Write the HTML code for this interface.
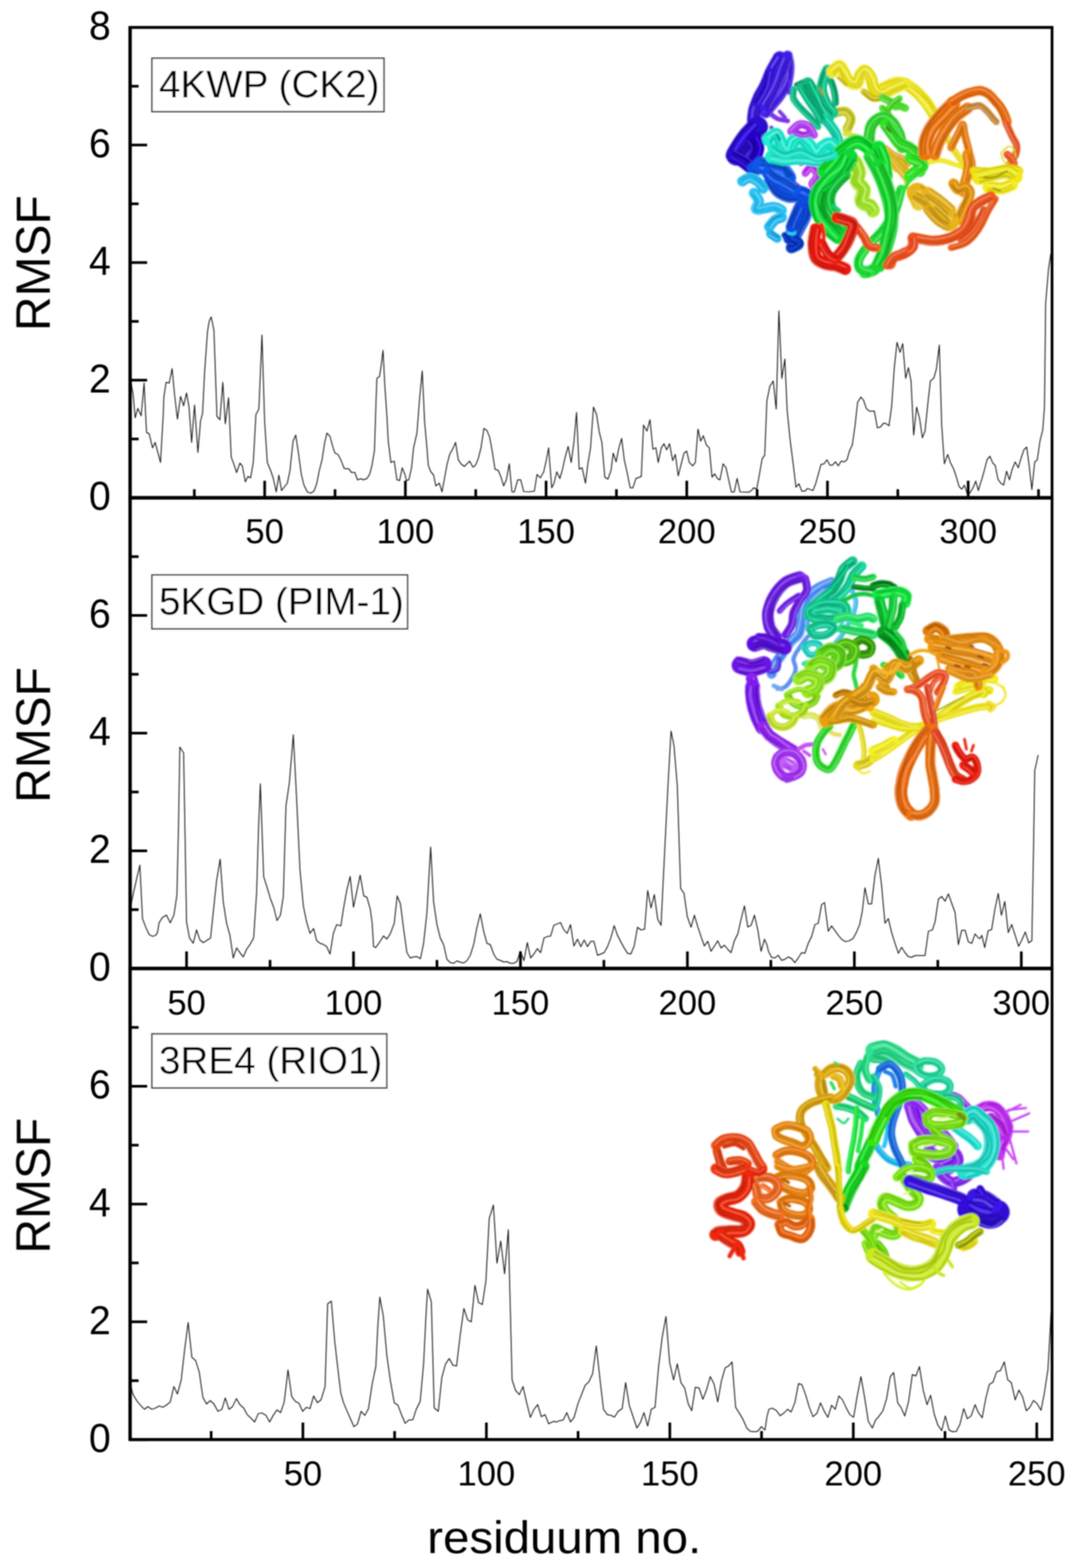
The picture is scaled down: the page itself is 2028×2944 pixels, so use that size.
<!DOCTYPE html>
<html lang="en">
<head>
<meta charset="utf-8">
<title>RMSF per residuum</title>
<style>
html,body{margin:0;padding:0;background:#fff;}
body{width:2028px;height:2944px;overflow:hidden;}
svg{display:block;}
</style>
</head>
<body>
<svg width="2028" height="2944" viewBox="0 0 2028 2944">
<rect width="2028" height="2944" fill="#fff"/>
<defs><filter id="soft" x="0" y="0" width="100%" height="100%" filterUnits="userSpaceOnUse"><feGaussianBlur stdDeviation="1.3"/></filter></defs>
<g filter="url(#soft)">
<g id="curves">
<polyline points="245.5,715.4 250.0,740.5 253.8,784.4 258.8,766.8 265.1,780.6 270.6,719.2 275.1,811.9 280.1,814.4 286.4,840.8 291.4,830.7 301.4,868.3 306.4,780.6 307.7,745.5 311.9,717.9 317.7,719.2 323.2,692.1 327.7,740.5 333.2,786.9 339.0,744.3 344.8,761.8 350.3,738.0 354.8,763.1 359.8,830.7 365.3,760.6 371.6,849.5 376.6,790.6 380.4,775.6 384.1,700.4 389.6,622.7 392.9,602.7 396.6,595.1 401.7,620.2 407.4,781.9 412.9,788.1 418.4,717.9 423.0,795.6 429.2,746.8 434.2,858.3 438.0,868.3 444.3,887.1 450.5,869.6 455.0,874.6 460.6,904.7 465.6,894.6 470.6,897.1 475.6,868.3 480.6,778.1 486.1,768.1 491.9,629.0 496.9,790.6 501.9,868.3 508.2,883.4 513.2,898.4 518.7,923.5 523.7,892.1 528.7,921.0 539.5,907.2 544.5,883.4 550.3,828.2 555.3,816.9 560.8,853.3 565.8,890.9 570.8,910.9 577.1,923.5 583.4,926.0 589.6,922.2 594.6,908.4 599.6,883.4 604.7,863.3 609.7,830.7 613.9,813.2 619.7,819.4 624.7,838.2 629.0,850.8 634.7,853.3 640.0,863.3 646.3,879.6 655.0,880.4 660.1,887.1 666.3,887.1 671.3,900.9 677.6,898.9 682.6,900.9 688.9,898.4 693.9,890.9 698.1,875.8 703.2,845.8 705.7,765.6 707.7,710.4 712.7,706.7 715.9,685.4 719.2,657.8 722.7,725.5 726.5,780.6 729.0,828.2 734.0,868.3 740.3,865.8 745.3,900.9 750.3,902.2 755.3,878.3 760.3,890.9 763.3,902.2 767.8,900.9 772.8,878.3 776.6,840.8 782.9,813.2 787.9,748.0 792.9,696.6 797.4,793.1 801.7,840.8 804.2,873.3 808.4,884.6 814.2,892.1 818.4,912.2 825.0,907.2 830.0,923.5 834.2,900.9 839.2,873.3 844.3,853.3 850.5,842.0 855.5,830.7 860.6,863.3 865.6,870.8 871.8,875.8 876.8,870.8 881.9,865.8 888.1,877.1 893.1,873.3 898.1,860.8 903.2,840.8 908.7,804.4 914.4,808.2 919.4,820.7 924.5,848.3 929.5,880.9 935.7,883.4 940.8,895.9 945.8,912.2 950.8,900.9 956.3,870.8 961.3,923.5 965.8,923.5 972.1,900.9 977.8,900.9 983.4,923.0 993.4,923.5 1003.4,922.2 1008.4,890.9 1014.7,897.1 1021.0,885.9 1026.0,863.3 1030.2,840.8 1036.0,915.9 1040.0,908.4 1045.5,885.9 1051.3,898.4 1056.3,880.9 1061.3,858.3 1066.8,838.2 1072.6,868.3 1077.6,830.7 1082.6,774.3 1087.6,880.9 1093.1,878.3 1099.4,907.2 1103.9,870.8 1108.9,840.8 1114.4,764.3 1120.2,778.1 1125.2,810.7 1130.2,830.7 1135.7,895.9 1141.5,899.6 1147.3,883.4 1151.5,850.8 1157.0,867.1 1162.1,840.8 1167.3,823.2 1172.3,863.3 1177.8,888.4 1183.4,915.9 1188.4,915.9 1194.1,898.4 1204.2,894.6 1208.4,798.1 1214.7,809.4 1220.5,788.1 1226.0,843.3 1231.7,840.8 1236.0,868.3 1241.8,840.8 1246.8,833.2 1251.8,844.5 1257.3,833.2 1263.1,864.6 1268.1,853.3 1273.6,893.4 1279.3,870.8 1284.4,850.8 1289.4,847.0 1294.4,868.3 1300.7,874.6 1305.7,868.3 1310.7,805.7 1315.7,828.2 1320.7,818.2 1326.5,835.7 1332.0,840.8 1337.0,895.9 1342.0,889.6 1347.0,898.4 1352.0,900.9 1357.8,870.8 1363.3,878.3 1368.3,900.9 1373.3,923.5 1378.8,923.5 1384.1,898.4 1389.6,923.5 1405.9,924.2 1410.9,921.0 1415.4,915.9 1421.0,918.4 1426.0,890.9 1431.0,862.1 1436.0,854.5 1440.0,753.0 1445.5,725.5 1452.0,715.4 1457.5,768.1 1462.6,583.9 1468.1,710.4 1473.8,674.1 1478.1,770.6 1483.9,828.2 1489.4,870.8 1494.6,914.7 1500.2,908.4 1505.7,922.2 1511.4,922.2 1516.4,917.2 1526.5,921.0 1531.5,908.4 1536.5,890.9 1541.5,872.1 1547.3,870.8 1552.8,863.3 1558.3,873.3 1563.3,873.3 1568.6,867.1 1574.1,874.6 1579.6,865.8 1585.4,867.1 1590.4,863.3 1595.4,845.8 1600.4,835.7 1605.4,800.7 1610.4,755.5 1616.7,745.5 1621.7,751.8 1626.7,766.8 1632.5,771.8 1641.8,771.8 1647.5,803.2 1653.0,801.9 1659.3,794.4 1664.3,795.6 1669.3,799.4 1674.3,763.1 1679.3,690.4 1684.4,642.8 1690.1,661.6 1695.1,645.3 1700.7,710.4 1705.7,690.4 1710.7,715.4 1715.7,816.9 1721.2,764.3 1727.0,786.9 1732.0,822.0 1737.0,809.4 1742.0,760.6 1747.0,715.4 1753.3,710.4 1758.3,692.9 1763.8,647.8 1768.3,798.1 1773.3,870.8 1779.6,853.3 1784.6,868.3 1790.9,880.9 1795.9,895.9 1800.9,913.4 1805.9,918.4 1810.9,910.9 1815.9,926.0 1821.0,926.0 1827.2,915.9 1832.2,903.4 1837.2,921.0 1840.0,910.9 1843.7,899.7 1849.1,880.3 1853.4,863.1 1858.8,856.6 1864.2,869.5 1868.9,873.8 1873.9,899.7 1879.3,907.3 1884.7,910.5 1890.1,884.6 1895.5,900.8 1900.9,880.3 1906.3,867.4 1912.1,878.2 1917.1,860.9 1922.5,844.7 1927.9,839.3 1932.2,871.7 1937.6,919.2 1943.0,867.4 1947.9,863.1 1952.7,828.5 1958.1,806.9 1961.3,763.8 1963.5,569.5 1968.9,504.8 1973.2,476.7" fill="none" stroke="#181818" stroke-width="1.75" stroke-linejoin="round" stroke-linecap="round"/>
<polyline points="245.5,1700.9 251.3,1673.3 257.0,1648.2 262.6,1624.4 267.6,1724.7 273.8,1741.0 280.1,1754.8 286.4,1758.0 292.6,1756.0 295.6,1751.0 298.9,1732.2 305.2,1722.2 312.7,1718.4 319.7,1732.7 326.5,1718.4 332.2,1680.8 335.2,1550.5 337.7,1402.6 344.8,1413.9 350.3,1731.0 355.8,1761.0 362.8,1771.1 369.1,1746.0 375.3,1764.8 381.6,1769.8 387.9,1766.0 395.4,1761.0 400.4,1713.4 406.7,1653.3 413.4,1613.2 419.2,1693.4 425.5,1733.5 431.7,1756.0 438.0,1798.6 444.3,1779.8 450.5,1788.6 456.8,1796.6 463.1,1782.3 469.3,1773.6 476.3,1761.0 481.9,1675.8 485.6,1550.5 488.9,1471.6 495.1,1645.7 501.4,1665.8 507.7,1687.1 513.9,1703.4 520.2,1728.4 526.5,1718.4 532.0,1683.3 537.0,1512.9 543.3,1470.3 550.8,1379.6 557.0,1500.4 563.3,1633.2 569.6,1700.9 575.8,1731.0 582.1,1752.3 588.9,1743.5 594.6,1766.0 600.9,1771.1 607.2,1773.1 613.4,1777.3 619.7,1791.1 626.0,1752.3 632.2,1736.0 640.0,1738.5 645.0,1705.9 651.3,1670.8 657.5,1645.7 663.8,1703.4 670.1,1673.3 676.3,1643.2 683.1,1682.1 688.9,1684.6 695.1,1705.9 698.9,1733.5 701.4,1777.3 705.7,1779.1 711.4,1771.1 720.2,1757.3 726.5,1763.0 732.7,1753.5 740.3,1733.5 745.8,1682.1 752.0,1697.1 757.8,1743.5 764.1,1788.6 770.3,1798.6 776.6,1796.6 782.9,1796.1 789.6,1799.9 795.4,1771.1 801.7,1713.4 805.4,1645.7 808.7,1590.6 814.2,1693.4 820.5,1736.0 826.7,1761.0 833.0,1773.6 839.2,1801.1 845.5,1807.4 851.8,1808.6 858.0,1804.1 864.3,1806.6 870.6,1808.1 876.8,1803.6 883.1,1793.6 889.4,1773.6 895.6,1741.0 901.9,1715.9 908.2,1748.5 914.4,1771.1 920.7,1773.6 927.0,1791.1 933.2,1801.1 939.5,1803.1 945.8,1806.1 952.0,1805.6 958.3,1808.6 964.6,1808.6 970.8,1804.9 977.1,1786.1 983.9,1803.6 990.1,1769.8 996.4,1798.6 1002.7,1791.1 1008.9,1781.1 1015.2,1788.6 1021.5,1761.0 1027.7,1758.5 1034.0,1757.3 1040.0,1737.2 1046.3,1734.7 1052.5,1732.2 1058.8,1746.0 1065.1,1752.3 1071.3,1736.0 1077.6,1776.1 1084.4,1763.5 1090.6,1777.3 1096.9,1764.8 1103.2,1777.3 1109.4,1767.3 1115.2,1767.3 1122.0,1793.6 1128.2,1791.1 1134.5,1788.6 1140.8,1777.3 1147.0,1761.0 1153.3,1738.0 1159.5,1756.0 1165.8,1768.5 1172.1,1779.8 1178.3,1789.8 1184.6,1791.1 1190.9,1776.1 1197.1,1741.0 1203.4,1746.0 1210.4,1744.7 1216.2,1672.1 1222.5,1704.6 1228.7,1679.6 1235.0,1725.9 1241.3,1737.2 1245.5,1650.8 1250.5,1550.5 1254.3,1475.3 1260.1,1372.6 1265.6,1400.1 1271.8,1475.3 1278.1,1668.3 1284.4,1677.1 1290.6,1720.9 1297.6,1741.0 1303.9,1718.4 1310.2,1739.7 1316.4,1758.5 1322.7,1776.1 1329.0,1767.3 1335.2,1786.1 1341.5,1776.1 1347.8,1766.5 1354.0,1779.8 1360.3,1774.8 1366.6,1782.3 1372.8,1788.6 1379.1,1766.0 1385.4,1753.5 1391.6,1725.9 1397.9,1700.9 1404.2,1740.5 1410.4,1737.2 1416.7,1718.4 1423.0,1746.0 1429.2,1786.1 1435.5,1763.5 1440.0,1773.6 1443.0,1786.1 1448.8,1797.4 1455.0,1798.6 1461.3,1793.6 1467.6,1803.1 1473.8,1801.1 1480.1,1796.6 1486.4,1799.9 1492.6,1807.4 1498.9,1798.6 1505.2,1788.6 1511.4,1789.8 1517.7,1771.1 1524.0,1758.5 1530.2,1736.0 1536.5,1733.5 1542.8,1698.4 1548.3,1694.6 1555.3,1748.5 1561.6,1738.5 1567.8,1747.2 1574.1,1756.0 1580.4,1763.5 1587.9,1768.0 1595.4,1766.0 1601.7,1762.3 1607.9,1751.0 1614.2,1736.0 1619.2,1710.9 1624.2,1667.0 1630.5,1697.1 1636.7,1697.1 1643.0,1643.2 1649.3,1611.9 1655.5,1663.3 1661.8,1733.5 1668.1,1724.7 1674.3,1751.0 1680.6,1771.1 1686.9,1789.8 1693.1,1778.6 1699.4,1788.6 1705.7,1796.1 1711.9,1797.4 1718.2,1794.1 1737.0,1794.1 1743.3,1748.5 1750.8,1746.0 1755.8,1731.0 1762.1,1688.3 1768.3,1683.3 1774.6,1692.1 1780.9,1678.3 1787.1,1695.9 1793.4,1713.4 1799.6,1773.6 1805.9,1746.5 1812.2,1746.5 1818.4,1768.5 1824.7,1771.1 1831.0,1753.5 1837.2,1761.0 1840.0,1762.3 1843.7,1756.3 1849.1,1779.0 1855.5,1747.7 1862.0,1745.5 1868.5,1705.6 1874.5,1677.5 1880.4,1718.5 1886.8,1692.6 1893.3,1750.9 1899.8,1735.8 1906.3,1756.3 1912.7,1776.8 1919.2,1763.8 1925.3,1749.8 1931.7,1770.3 1937.6,1766.0 1940.8,1589.0 1943.0,1446.6 1949.4,1418.1" fill="none" stroke="#181818" stroke-width="1.75" stroke-linejoin="round" stroke-linecap="round"/>
<polyline points="245.5,2602.2 250.0,2618.5 257.5,2631.0 265.1,2639.8 271.3,2646.0 277.6,2641.0 285.1,2646.0 291.4,2644.0 298.9,2639.8 305.7,2642.3 312.7,2638.0 319.7,2632.2 326.5,2603.4 333.2,2617.2 340.3,2590.9 346.5,2535.8 353.3,2483.1 360.3,2548.3 367.3,2554.5 374.1,2575.9 380.9,2623.5 387.9,2636.0 394.9,2629.7 401.7,2636.0 409.2,2649.8 416.7,2646.0 423.0,2624.7 430.0,2646.0 436.7,2641.0 443.8,2626.0 450.5,2637.3 457.5,2643.5 464.3,2656.1 471.1,2662.3 478.1,2669.8 485.1,2654.0 491.9,2653.0 499.4,2657.3 506.2,2669.8 513.2,2657.3 519.9,2647.3 527.0,2652.3 533.7,2632.2 540.8,2572.1 547.8,2622.2 554.5,2631.0 561.3,2634.7 568.3,2649.8 575.3,2642.3 582.1,2644.8 588.9,2621.0 595.9,2633.5 602.7,2628.5 610.4,2603.4 615.2,2448.0 622.2,2443.0 628.5,2518.2 636.0,2583.4 640.0,2616.0 645.0,2633.5 651.3,2648.5 658.0,2663.6 664.6,2678.6 671.3,2673.6 678.1,2649.8 685.1,2657.3 691.9,2644.8 698.9,2598.4 705.7,2565.8 709.7,2485.6 713.2,2435.5 719.7,2470.6 726.5,2545.8 733.2,2593.4 740.3,2633.5 747.3,2638.5 754.0,2656.1 760.8,2672.3 767.8,2666.1 775.3,2665.6 781.6,2646.0 789.1,2631.0 795.4,2560.8 800.4,2460.6 802.9,2420.5 809.9,2444.3 815.4,2643.5 823.0,2649.8 829.7,2585.9 836.7,2560.8 843.5,2550.8 850.5,2563.3 857.3,2564.6 864.3,2505.7 871.1,2456.8 878.1,2478.1 884.9,2481.9 891.9,2413.4 898.6,2445.5 905.7,2449.3 912.4,2405.4 918.7,2287.6 926.5,2262.6 933.2,2371.6 940.3,2330.2 947.5,2391.6 954.5,2308.9 961.6,2590.9 968.3,2610.9 975.1,2618.5 982.1,2603.4 988.9,2633.5 995.9,2661.1 1002.7,2646.0 1009.7,2637.3 1016.4,2659.8 1023.5,2656.1 1030.2,2673.1 1037.2,2669.8 1040.0,2668.6 1045.0,2669.8 1051.3,2667.3 1057.5,2666.1 1064.3,2652.3 1071.3,2669.8 1078.1,2661.1 1085.1,2636.0 1091.9,2618.5 1098.9,2600.9 1105.7,2594.6 1112.7,2579.6 1119.7,2527.0 1126.5,2588.4 1133.2,2646.0 1140.3,2656.1 1147.0,2657.3 1154.0,2660.6 1160.8,2649.8 1168.3,2644.8 1174.8,2595.9 1181.6,2638.5 1188.4,2658.6 1195.9,2681.1 1202.4,2671.1 1209.2,2652.3 1216.2,2677.4 1223.0,2646.0 1230.0,2642.3 1236.7,2565.8 1243.5,2510.7 1250.5,2471.8 1257.5,2558.3 1264.8,2590.9 1271.8,2560.8 1278.6,2595.9 1285.6,2605.9 1292.4,2636.0 1298.9,2648.5 1305.7,2604.7 1312.7,2605.9 1319.9,2627.2 1327.0,2608.4 1333.7,2584.6 1340.8,2598.4 1347.8,2632.2 1354.5,2593.4 1361.6,2568.3 1368.3,2564.6 1374.6,2557.1 1381.4,2642.3 1388.4,2653.5 1395.1,2664.8 1402.2,2681.1 1408.9,2687.4 1415.9,2688.1 1422.7,2687.4 1429.7,2678.6 1436.5,2684.9 1440.0,2661.1 1443.8,2646.0 1450.0,2644.0 1457.5,2648.0 1465.1,2658.1 1472.1,2653.0 1478.8,2646.0 1485.6,2651.0 1492.6,2633.5 1499.4,2597.9 1505.7,2599.7 1512.7,2618.5 1519.7,2642.3 1526.5,2659.8 1534.0,2653.5 1540.8,2634.0 1547.8,2649.8 1554.5,2661.1 1561.6,2638.5 1568.3,2646.0 1575.3,2621.0 1582.1,2628.5 1589.1,2643.5 1595.9,2656.1 1602.9,2661.1 1609.7,2621.0 1616.7,2584.6 1623.5,2623.5 1630.5,2668.6 1638.0,2681.1 1644.3,2666.1 1651.0,2658.6 1658.0,2648.5 1664.8,2626.0 1671.8,2584.6 1678.1,2577.1 1685.6,2633.5 1692.4,2643.5 1698.9,2658.6 1706.2,2631.0 1713.2,2580.9 1719.9,2583.4 1726.5,2565.8 1733.7,2610.9 1740.8,2637.3 1747.5,2619.7 1754.5,2656.1 1761.3,2676.1 1768.3,2686.1 1775.1,2658.6 1782.1,2684.9 1788.9,2688.1 1795.9,2687.4 1802.7,2673.6 1809.7,2644.8 1816.4,2663.6 1823.5,2658.6 1831.0,2637.3 1837.2,2652.3 1840.0,2656.1 1844.3,2661.8 1851.2,2625.1 1857.7,2599.2 1864.6,2594.9 1871.7,2575.5 1878.6,2573.3 1885.8,2557.1 1892.2,2590.6 1899.1,2596.0 1906.3,2628.3 1913.2,2610.0 1920.3,2622.9 1927.2,2648.8 1933.7,2642.4 1940.8,2629.4 1947.7,2635.9 1954.8,2647.8 1961.3,2614.3 1967.8,2571.1 1972.1,2495.6 1974.3,2452.4" fill="none" stroke="#181818" stroke-width="1.75" stroke-linejoin="round" stroke-linecap="round"/>
</g>
<defs><filter id="pblur" x="-5%" y="-5%" width="110%" height="110%"><feGaussianBlur stdDeviation="1.3"/></filter></defs>
<g id="prot1" fill="none" stroke-linecap="round" stroke-linejoin="round" filter="url(#pblur)">
<path d="M1446.5,213.8C1449,215 1454,220 1460,223C1465,225 1476,226 1479,227" stroke="#7a34e6" stroke-width="8.8"/>
<path d="M1448.7,240.1L1453.1,253.2" stroke="#7030e0" stroke-width="7.9"/>
<path d="M1464,209.4L1473.9,220.4" stroke="#8038e8" stroke-width="7.0"/>
<path d="M1486,246.7C1489,244 1496,235 1501,234C1507,232 1514,235 1519,238C1523,241 1526,251 1528,253" stroke="#b848f0" stroke-width="15.8"/>
<path d="M1489.5,250.8C1492,249 1498,240 1503,239C1507,237 1512,239 1516,242C1519,245 1522,253 1524,256" stroke="#a81eed" stroke-width="3.2"/>
<path d="M1484.8,245.3C1487,243 1495,232 1501,230C1506,229 1515,233 1520,236C1525,240 1528,249 1530,252" stroke="#d085f5" stroke-width="2.1"/>
<path d="M1486.7,247.5C1489,245 1496,235 1501,233C1507,232 1514,235 1518,238C1523,242 1526,251 1528,253" stroke="#9111d0" stroke-width="1.2" stroke-opacity=".8"/>
<path d="M1482.2,242.3C1485,240 1493,230 1500,229C1507,227 1517,230 1522,233C1528,237 1531,248 1533,250" stroke="#9e13e3" stroke-width="1.3" stroke-opacity=".8"/>
<path d="M1499.1,255.4L1516.7,264.2" stroke="#c050f4" stroke-width="8.8"/>
<path d="M1464,273C1465,276 1469,285 1471,291C1472,296 1474,301 1475,304" stroke="#9030e0" stroke-width="8.8"/>
<path d="M1483.8,331.7C1485,334 1487,341 1490,345C1493,348 1499,352 1501,354" stroke="#9a30e8" stroke-width="12.3"/>
<path d="M1479.9,333.6C1481,336 1484,343 1487,347C1490,351 1497,355 1499,357" stroke="#8317d3" stroke-width="2.5"/>
<path d="M1486,330.6C1487,333 1490,340 1492,343C1495,347 1501,351 1503,352" stroke="#b76cef" stroke-width="1.6"/>
<path d="M1484.1,331.5C1485,334 1488,341 1490,345C1493,348 1499,352 1501,354" stroke="#6c13ae" stroke-width="1.2" stroke-opacity=".8"/>
<path d="M1488.6,329.3C1489,331 1491,338 1494,342C1497,345 1503,349 1504,350" stroke="#7815c0" stroke-width="1.2" stroke-opacity=".8"/>
<path d="M1512.3,325.1C1514,323 1520,313 1523,314C1527,315 1534,324 1534,329C1535,335 1526,340 1525,345C1525,349 1531,354 1532,356" stroke="#c040f0" stroke-width="14.1"/>
<path d="M1509.3,322.1C1512,320 1519,309 1524,310C1529,311 1538,323 1538,329C1539,335 1530,341 1529,345C1529,349 1535,352 1536,354" stroke="#b215ed" stroke-width="2.8"/>
<path d="M1513.6,326.4C1515,325 1520,317 1523,317C1526,318 1531,325 1531,330C1531,334 1523,340 1523,345C1522,349 1529,355 1530,357" stroke="#d47df5" stroke-width="1.8"/>
<path d="M1511.5,324.3C1513,322 1520,312 1524,313C1528,314 1535,324 1535,329C1536,335 1528,341 1527,345C1527,349 1531,354 1532,356" stroke="#9710c9" stroke-width="1.2" stroke-opacity=".8"/>
<path d="M1515.8,328.6C1517,327 1520,320 1522,320C1524,320 1530,326 1529,330C1529,334 1520,339 1519,344C1519,349 1526,356 1527,359" stroke="#a511dc" stroke-width="1.2" stroke-opacity=".8"/>
<path d="M1503.5,307.5L1516.7,303.2" stroke="#b038ec" stroke-width="8.8"/>
<path d="M1654.4,167.7C1658,166 1670,159 1676,157C1683,155 1687,154 1694,156C1700,157 1708,162 1716,168C1723,173 1731,182 1738,190C1744,198 1752,212 1755,216" stroke="#f2ea2a" stroke-width="22.9"/>
<path d="M1651.1,160.8C1655,159 1667,154 1675,152C1682,150 1688,146 1696,148C1704,150 1712,156 1720,162C1728,168 1736,177 1743,186C1749,194 1758,208 1761,212" stroke="#e0d80e" stroke-width="4.6"/>
<path d="M1656,171.2C1660,169 1671,162 1677,160C1683,158 1687,158 1693,160C1699,161 1707,165 1714,170C1721,176 1729,184 1735,192C1742,199 1750,213 1753,217" stroke="#f6f068" stroke-width="3.0"/>
<path d="M1653.7,166.4C1658,165 1670,160 1676,158C1683,156 1688,151 1695,153C1701,155 1708,162 1716,167C1724,173 1733,180 1740,188C1747,196 1754,211 1756,215" stroke="#bab30b" stroke-width="1.6" stroke-opacity=".8"/>
<path d="M1658,175.3C1662,174 1673,168 1679,166C1685,164 1687,161 1692,163C1697,164 1704,169 1711,174C1717,180 1724,188 1730,196C1736,204 1745,217 1748,221" stroke="#cdc50d" stroke-width="1.8" stroke-opacity=".8"/>
<path d="M1649.9,158.5C1654,157 1666,149 1673,147C1681,145 1689,143 1697,146C1705,148 1713,155 1721,161C1730,167 1739,174 1746,183C1753,191 1760,206 1763,211" stroke="#f8f38a" stroke-width="1.4" stroke-opacity=".8"/>
<path d="M1755.3,216C1758,221 1768,237 1773,247C1778,256 1781,264 1786,273C1791,282 1798,292 1804,299C1809,307 1814,314 1817,317" stroke="#f0e830" stroke-width="12.3"/>
<path d="M1751.4,218.2C1755,223 1765,239 1770,248C1775,257 1778,266 1783,275C1788,284 1795,294 1800,302C1805,309 1811,316 1814,319" stroke="#e2d910" stroke-width="2.5"/>
<path d="M1756.9,215C1760,220 1770,236 1775,245C1780,255 1783,263 1788,272C1793,281 1800,291 1805,298C1810,305 1817,312 1819,315" stroke="#f4ef6e" stroke-width="1.6"/>
<path d="M1754.5,216.4C1757,222 1766,238 1772,247C1777,257 1780,265 1786,273C1791,282 1799,292 1804,299C1809,306 1815,314 1817,317" stroke="#bcb40e" stroke-width="1.2" stroke-opacity=".8"/>
<path d="M1759,213.8C1762,219 1772,235 1778,244C1783,254 1785,262 1790,271C1795,279 1802,290 1807,297C1812,304 1819,311 1821,314" stroke="#cfc70f" stroke-width="1.2" stroke-opacity=".8"/>
<path d="M1742.1,305.4C1746,305 1756,301 1764,301C1772,301 1783,305 1790,308C1798,310 1805,313 1808,314" stroke="#f0e830" stroke-width="8.8"/>
<path d="M1661,277.4C1664,280 1672,287 1679,291C1685,294 1694,296 1698,299C1703,302 1704,307 1705,308" stroke="#e0b444" stroke-width="12.3"/>
<path d="M1658.5,280.7C1662,283 1671,290 1677,293C1683,297 1692,299 1696,302C1700,305 1701,309 1702,310" stroke="#d3a123" stroke-width="2.5"/>
<path d="M1662.3,275.6C1665,278 1674,285 1680,288C1686,292 1695,295 1699,298C1704,301 1705,306 1706,307" stroke="#e9cb7d" stroke-width="1.6"/>
<path d="M1661,277.3C1664,280 1672,288 1678,291C1684,295 1694,297 1698,300C1702,303 1703,307 1704,309" stroke="#b0871d" stroke-width="1.2" stroke-opacity=".8"/>
<path d="M1663.8,273.6C1667,276 1675,283 1681,287C1687,290 1696,292 1701,295C1706,298 1708,303 1709,305" stroke="#c29420" stroke-width="1.2" stroke-opacity=".8"/>
<path d="M1658.8,299.3L1682.9,321.2" stroke="#e8c040" stroke-width="5.3"/>
<path d="M1669.7,294.4C1673,297 1682,303 1687,308C1692,312 1698,316 1700,321C1703,325 1704,332 1705,334" stroke="#e8c030" stroke-width="15.8"/>
<path d="M1673.1,289.9C1676,292 1685,300 1690,305C1695,309 1702,313 1705,318C1708,322 1708,330 1709,332" stroke="#d3aa17" stroke-width="3.2"/>
<path d="M1668.5,296C1671,298 1680,306 1685,310C1690,314 1695,318 1698,322C1701,326 1702,332 1703,335" stroke="#efd26c" stroke-width="2.1"/>
<path d="M1670.8,293C1674,295 1682,303 1687,307C1693,312 1699,315 1702,320C1705,324 1706,331 1706,333" stroke="#ae8c13" stroke-width="1.2" stroke-opacity=".8"/>
<path d="M1666.1,299.2C1669,301 1678,308 1683,313C1688,317 1693,320 1695,324C1698,328 1699,334 1700,336" stroke="#c09b15" stroke-width="1.3" stroke-opacity=".8"/>
<path d="M1693.9,322.9L1707,362.4" stroke="#ecc838" stroke-width="5.3"/>
<path d="M1668,290C1671,293 1678,301 1683,308C1689,314 1697,326 1700,329" stroke="#e8c030" stroke-width="17.6"/>
<path d="M1671.6,286.9C1674,290 1683,297 1688,304C1694,310 1702,322 1704,326" stroke="#d3aa17" stroke-width="3.5"/>
<path d="M1666.3,291.5C1669,294 1677,302 1682,309C1687,315 1695,327 1698,331" stroke="#efd26c" stroke-width="2.3"/>
<path d="M1668.6,289.5C1671,293 1677,301 1683,308C1688,314 1699,325 1702,328" stroke="#ae8c13" stroke-width="1.2" stroke-opacity=".8"/>
<path d="M1663.8,293.7C1666,297 1673,305 1678,312C1684,318 1692,330 1695,333" stroke="#c09b15" stroke-width="1.4" stroke-opacity=".8"/>
<path d="M1569.3,211.6C1572,211 1582,208 1587,209C1592,211 1597,217 1598,223C1599,228 1592,239 1591,242" stroke="#d4d430" stroke-width="17.6"/>
<path d="M1568.7,206.5C1572,206 1583,203 1588,205C1594,208 1602,215 1603,222C1604,228 1598,240 1597,244" stroke="#b1b125" stroke-width="3.5"/>
<path d="M1569.6,214C1572,213 1582,210 1586,211C1590,213 1594,218 1595,223C1595,228 1590,239 1589,242" stroke="#dfdf67" stroke-width="2.3"/>
<path d="M1569,209.3C1572,209 1582,206 1587,208C1593,210 1599,216 1600,222C1601,228 1594,240 1593,243" stroke="#8f8f1e" stroke-width="1.2" stroke-opacity=".8"/>
<path d="M1570.1,217.9C1573,217 1581,214 1585,215C1588,216 1593,219 1592,223C1592,227 1585,237 1584,240" stroke="#a0a021" stroke-width="1.4" stroke-opacity=".8"/>
<path d="M1586.8,251.1L1608.8,255.4" stroke="#e0e040" stroke-width="8.8"/>
<path d="M1464,109.6C1462,114 1454,127 1450,135C1446,143 1444,151 1440,159C1437,167 1431,175 1427,183C1424,191 1420,200 1418,207C1417,214 1416,222 1416,225" stroke="#3a16e2" stroke-width="26.4"/>
<path d="M1470.1,113C1468,117 1459,129 1456,138C1452,146 1452,154 1448,163C1444,171 1438,178 1434,186C1430,194 1427,202 1425,209C1423,216 1423,223 1422,226" stroke="#2f12b8" stroke-width="5.3"/>
<path d="M1460.6,107.7C1458,112 1449,124 1445,133C1441,141 1439,149 1435,157C1432,165 1427,173 1423,181C1420,189 1416,199 1414,206C1412,213 1412,221 1412,224" stroke="#694dee" stroke-width="3.4"/>
<path d="M1464.8,110.1C1462,114 1454,127 1451,135C1447,144 1447,152 1443,160C1440,168 1432,176 1428,183C1423,191 1420,200 1417,207C1415,214 1416,222 1415,225" stroke="#260e93" stroke-width="1.8" stroke-opacity=".8"/>
<path d="M1454.8,104.4C1453,109 1445,122 1441,131C1437,139 1435,146 1431,154C1427,162 1422,171 1418,179C1414,187 1411,197 1409,205C1407,212 1406,220 1405,223" stroke="#2a10a6" stroke-width="2.1" stroke-opacity=".8"/>
<path d="M1475.1,115.9C1473,120 1464,131 1460,140C1456,148 1456,156 1452,164C1448,172 1441,180 1438,188C1434,195 1431,204 1430,210C1428,217 1428,224 1428,227" stroke="#846df1" stroke-width="1.6" stroke-opacity=".8"/>
<path d="M1478.9,104.6C1479,108 1482,116 1482,124C1482,131 1482,142 1479,150C1477,159 1473,167 1468,174C1464,182 1458,188 1453,194C1448,200 1440,209 1438,212" stroke="#4a20ea" stroke-width="19.4"/>
<path d="M1484.7,103.8C1485,107 1487,116 1487,124C1487,132 1486,142 1484,151C1482,160 1478,170 1474,178C1470,185 1464,192 1458,198C1453,205 1445,213 1442,216" stroke="#3913c9" stroke-width="3.9"/>
<path d="M1475.5,105C1476,108 1479,116 1479,124C1479,131 1480,142 1477,150C1475,158 1469,165 1465,172C1461,179 1455,186 1450,192C1445,198 1438,207 1435,210" stroke="#7b5df0" stroke-width="2.5"/>
<path d="M1478.6,104.6C1479,108 1483,116 1483,124C1483,131 1482,142 1480,150C1478,159 1474,168 1470,175C1466,183 1459,189 1454,195C1449,201 1440,209 1438,212" stroke="#2e0fa4" stroke-width="1.4" stroke-opacity=".8"/>
<path d="M1470.7,105.7C1471,109 1473,117 1473,124C1474,131 1475,141 1473,148C1471,156 1466,164 1462,170C1458,177 1453,184 1448,190C1443,196 1436,205 1433,208" stroke="#3411b7" stroke-width="1.5" stroke-opacity=".8"/>
<path d="M1487.4,103.4C1488,107 1490,116 1489,124C1489,132 1489,143 1487,152C1485,161 1480,171 1475,178C1471,186 1464,192 1459,199C1454,205 1447,214 1444,217" stroke="#967df3" stroke-width="1.2" stroke-opacity=".8"/>
<path d="M1484.9,152.4L1481.6,174.3" stroke="#5a2cec" stroke-width="7.0"/>
<path d="M1422.4,238.3C1420,241 1412,250 1407,255C1402,261 1398,267 1394,273C1390,279 1385,288 1383,291" stroke="#2a0ad0" stroke-width="39.6"/>
<path d="M1432.6,247.5C1430,250 1421,258 1416,263C1411,268 1406,273 1402,279C1398,284 1393,293 1392,296" stroke="#2108a4" stroke-width="7.9"/>
<path d="M1418.1,234.5C1415,237 1407,246 1402,251C1397,257 1392,263 1388,269C1384,275 1379,284 1377,287" stroke="#4928f5" stroke-width="5.1"/>
<path d="M1422,238C1420,241 1412,250 1408,256C1404,262 1401,269 1397,275C1392,281 1385,288 1383,290" stroke="#19067d" stroke-width="2.8" stroke-opacity=".8"/>
<path d="M1412.4,229.4C1410,232 1400,240 1395,246C1390,252 1385,258 1381,264C1377,270 1373,280 1371,283" stroke="#1d0791" stroke-width="3.2" stroke-opacity=".8"/>
<path d="M1435.8,250.4C1433,253 1425,261 1420,266C1415,272 1412,277 1408,283C1404,288 1399,297 1397,299" stroke="#664af6" stroke-width="2.4" stroke-opacity=".8"/>
<path d="M1415.8,259.8C1417,263 1422,271 1422,277C1422,284 1417,296 1416,299" stroke="#2606c8" stroke-width="26.4"/>
<path d="M1408.5,262.6C1410,265 1416,272 1416,277C1416,283 1409,293 1407,297" stroke="#1e059b" stroke-width="5.3"/>
<path d="M1420.5,258C1422,261 1428,270 1428,277C1428,285 1422,297 1421,301" stroke="#3d18f8" stroke-width="3.4"/>
<path d="M1414,260.5C1415,263 1421,271 1421,277C1421,284 1415,295 1414,299" stroke="#160374" stroke-width="1.8" stroke-opacity=".8"/>
<path d="M1424.4,256.6C1425,260 1431,270 1431,277C1431,285 1425,298 1424,302" stroke="#1a0488" stroke-width="2.1" stroke-opacity=".8"/>
<path d="M1404.5,264.1C1406,266 1412,272 1412,277C1412,283 1406,293 1405,296" stroke="#5a3bf9" stroke-width="1.6" stroke-opacity=".8"/>
<path d="M1374.1,292.2C1377,294 1388,299 1394,303C1400,307 1408,314 1411,316" stroke="#2808c8" stroke-width="22.9"/>
<path d="M1377.2,286.7C1381,289 1391,294 1397,298C1404,302 1412,309 1415,311" stroke="#1f069c" stroke-width="4.6"/>
<path d="M1373,294.3C1376,296 1386,301 1392,306C1398,310 1406,317 1409,320" stroke="#411cf6" stroke-width="3.0"/>
<path d="M1374.6,291.3C1378,293 1387,300 1393,304C1400,308 1409,313 1412,315" stroke="#170575" stroke-width="1.6" stroke-opacity=".8"/>
<path d="M1369.2,301C1373,302 1384,306 1390,309C1396,313 1403,322 1406,324" stroke="#1b0588" stroke-width="1.8" stroke-opacity=".8"/>
<path d="M1378.8,283.8C1382,286 1393,290 1400,294C1406,298 1415,306 1418,308" stroke="#5d3ff7" stroke-width="1.4" stroke-opacity=".8"/>
<path d="M1415.8,316.8C1421,316 1439,312 1449,312C1458,313 1469,320 1473,321" stroke="#0a50e8" stroke-width="26.4"/>
<path d="M1416.7,323.5C1422,323 1439,319 1448,320C1457,321 1466,328 1470,329" stroke="#0841bc" stroke-width="5.3"/>
<path d="M1415.4,313.9C1421,313 1439,307 1449,308C1459,308 1470,316 1474,317" stroke="#3e78f7" stroke-width="3.4"/>
<path d="M1416.2,319.9C1422,319 1439,314 1448,315C1458,316 1468,323 1472,324" stroke="#063395" stroke-width="1.8" stroke-opacity=".8"/>
<path d="M1414.5,307C1420,306 1439,303 1449,303C1460,304 1472,310 1477,311" stroke="#073aa8" stroke-width="2.1" stroke-opacity=".8"/>
<path d="M1417.4,328.9C1422,328 1439,324 1448,325C1456,325 1465,331 1469,332" stroke="#6090f8" stroke-width="1.6" stroke-opacity=".8"/>
<path d="M1428.9,309.7C1432,310 1442,312 1449,314C1455,316 1463,317 1468,321C1474,324 1478,332 1479,334" stroke="#0a58e8" stroke-width="31.7"/>
<path d="M1431.2,299.4C1435,301 1444,304 1451,306C1458,309 1467,310 1473,314C1478,318 1483,326 1485,329" stroke="#0847bc" stroke-width="6.3"/>
<path d="M1427.8,314.8C1431,316 1441,318 1447,320C1453,322 1462,321 1466,324C1471,327 1473,336 1474,338" stroke="#3e7ff7" stroke-width="4.1"/>
<path d="M1428.9,310.2C1432,310 1442,311 1449,312C1456,313 1465,314 1471,317C1476,321 1479,330 1481,333" stroke="#063895" stroke-width="2.2" stroke-opacity=".8"/>
<path d="M1426.4,321.4C1430,322 1439,325 1445,327C1451,328 1458,328 1462,331C1467,333 1470,338 1472,340" stroke="#0740a8" stroke-width="2.5" stroke-opacity=".8"/>
<path d="M1431.8,297.1C1435,297 1446,297 1453,299C1460,301 1469,306 1475,310C1482,314 1488,322 1491,324" stroke="#6095f8" stroke-width="1.9" stroke-opacity=".8"/>
<path d="M1450.9,338.2C1453,341 1459,351 1464,356C1469,360 1475,363 1482,365C1488,366 1497,363 1504,365C1510,366 1516,372 1519,373" stroke="#0a50e4" stroke-width="31.7"/>
<path d="M1442.7,344.4C1445,348 1451,359 1457,364C1463,369 1472,372 1480,374C1487,376 1495,374 1501,376C1507,377 1511,382 1513,383" stroke="#0841b8" stroke-width="6.3"/>
<path d="M1454.9,335.2C1457,338 1462,348 1467,352C1472,356 1476,358 1483,359C1489,361 1498,359 1504,361C1511,363 1518,368 1521,369" stroke="#3a76f6" stroke-width="4.1"/>
<path d="M1448.7,339.8C1451,343 1457,354 1462,358C1467,362 1474,364 1481,366C1488,367 1497,365 1503,366C1509,368 1515,375 1517,376" stroke="#063391" stroke-width="2.2" stroke-opacity=".8"/>
<path d="M1460,331.4C1462,334 1469,342 1473,346C1477,349 1479,352 1484,353C1490,355 1499,353 1506,355C1513,356 1522,361 1525,362" stroke="#073aa4" stroke-width="2.5" stroke-opacity=".8"/>
<path d="M1439.3,346.9C1442,350 1448,362 1454,367C1461,373 1471,377 1478,379C1486,381 1495,378 1500,378C1506,379 1510,384 1512,385" stroke="#5c8ef8" stroke-width="1.9" stroke-opacity=".8"/>
<path d="M1512.3,382.1C1512,386 1510,397 1508,404C1506,411 1502,416 1499,422C1496,427 1492,436 1490,439" stroke="#0a4ce0" stroke-width="31.7"/>
<path d="M1519.9,383.6C1519,388 1519,400 1517,407C1515,414 1510,420 1507,426C1505,432 1501,441 1500,444" stroke="#083db4" stroke-width="6.3"/>
<path d="M1507.2,381.1C1506,385 1505,396 1503,402C1501,409 1497,413 1494,419C1492,425 1489,435 1487,438" stroke="#3671f6" stroke-width="4.1"/>
<path d="M1511.2,381.9C1511,386 1511,398 1509,405C1508,411 1504,417 1501,423C1498,428 1492,436 1490,439" stroke="#06308d" stroke-width="2.2" stroke-opacity=".8"/>
<path d="M1500.5,379.8C1500,383 1499,394 1497,400C1495,406 1490,410 1488,416C1485,422 1483,432 1482,435" stroke="#0736a1" stroke-width="2.5" stroke-opacity=".8"/>
<path d="M1525.8,384.8C1525,389 1524,401 1521,409C1519,416 1514,421 1510,427C1507,433 1503,442 1502,445" stroke="#588af8" stroke-width="1.9" stroke-opacity=".8"/>
<path d="M1481.6,447.9C1485,449 1498,454 1499,457C1500,460 1488,464 1486,465" stroke="#0838c0" stroke-width="21.1"/>
<path d="M1479,453C1481,454 1492,457 1493,458C1494,459 1484,460 1483,461" stroke="#062b94" stroke-width="4.2"/>
<path d="M1482.6,445.8C1486,448 1501,453 1501,456C1502,460 1490,465 1487,467" stroke="#1550f5" stroke-width="2.7"/>
<path d="M1481.1,448.9C1484,450 1499,454 1500,457C1500,459 1488,463 1486,465" stroke="#05206d" stroke-width="1.5" stroke-opacity=".8"/>
<path d="M1485.7,439.7C1489,442 1507,449 1507,455C1508,460 1493,469 1490,471" stroke="#052580" stroke-width="1.7" stroke-opacity=".8"/>
<path d="M1477,457.1C1479,457 1490,458 1491,459C1492,459 1483,458 1481,458" stroke="#3769f7" stroke-width="1.3" stroke-opacity=".8"/>
<path d="M1472.8,441.3L1481.6,452.3" stroke="#0830b8" stroke-width="10.6"/>
<path d="M1475.1,439.5L1484.2,450.2" stroke="#06258c" stroke-width="2.1"/>
<path d="M1471.6,442.3L1480.1,453.4" stroke="#0e42f5" stroke-width="1.4"/>
<path d="M1393.9,340.4C1396,339 1402,334 1407,334C1412,334 1418,337 1422,340C1427,344 1432,351 1433,354" stroke="#28c0f4" stroke-width="19.4"/>
<path d="M1391.3,335.2C1394,334 1401,328 1407,328C1413,328 1420,333 1425,336C1430,340 1436,348 1438,350" stroke="#0cace3" stroke-width="3.9"/>
<path d="M1395.5,343.7C1397,343 1403,337 1407,337C1411,337 1416,341 1420,344C1424,347 1430,353 1432,355" stroke="#67d2f7" stroke-width="2.5"/>
<path d="M1393.6,340C1396,339 1402,334 1407,334C1412,334 1418,337 1423,340C1427,343 1432,351 1434,353" stroke="#0a8ebc" stroke-width="1.4" stroke-opacity=".8"/>
<path d="M1397.5,347.7C1399,347 1404,341 1407,341C1411,341 1415,343 1419,346C1422,348 1427,356 1428,358" stroke="#0b9dcf" stroke-width="1.5" stroke-opacity=".8"/>
<path d="M1390.1,332.9C1393,332 1401,325 1407,326C1413,326 1423,329 1428,333C1433,337 1437,346 1439,349" stroke="#89dcf9" stroke-width="1.2" stroke-opacity=".8"/>
<path d="M1415.8,362.4C1417,365 1424,373 1425,378C1425,383 1418,391 1420,393C1422,395 1432,392 1438,391C1444,390 1450,388 1455,389C1460,389 1466,394 1468,395" stroke="#2cc4f6" stroke-width="19.4"/>
<path d="M1409.9,365.7C1411,368 1418,373 1419,378C1420,384 1413,394 1416,397C1420,400 1432,398 1439,398C1445,397 1450,393 1455,394C1459,394 1464,400 1465,401" stroke="#0ab3ea" stroke-width="3.9"/>
<path d="M1417.7,361.3C1419,364 1428,372 1428,377C1429,382 1421,389 1423,390C1424,392 1432,389 1437,388C1443,387 1450,385 1456,385C1461,386 1468,391 1470,392" stroke="#6cd6f9" stroke-width="2.5"/>
<path d="M1413.9,363.4C1416,366 1423,373 1424,378C1425,383 1416,392 1419,394C1421,397 1432,391 1438,391C1444,390 1450,388 1455,389C1460,390 1466,395 1468,397" stroke="#0895c3" stroke-width="1.4" stroke-opacity=".8"/>
<path d="M1423.1,358.2C1425,361 1432,372 1432,377C1433,382 1424,387 1425,388C1426,390 1432,386 1437,385C1442,384 1450,382 1456,383C1462,383 1469,387 1472,388" stroke="#09a4d7" stroke-width="1.5" stroke-opacity=".8"/>
<path d="M1408.4,366.6C1410,369 1415,374 1416,379C1417,384 1410,396 1414,399C1418,403 1432,400 1439,400C1445,399 1450,396 1454,397C1459,397 1463,401 1465,402" stroke="#8edffa" stroke-width="1.2" stroke-opacity=".8"/>
<path d="M1444.3,426C1446,424 1451,416 1455,413C1459,410 1466,409 1468,408" stroke="#28bcf2" stroke-width="19.4"/>
<path d="M1439,421.5C1441,419 1448,412 1452,409C1457,406 1464,404 1467,403" stroke="#0da7df" stroke-width="3.9"/>
<path d="M1447.4,428.6C1449,426 1453,418 1457,415C1461,412 1467,411 1469,411" stroke="#67cff6" stroke-width="2.5"/>
<path d="M1442.5,424.5C1444,422 1450,414 1454,411C1458,408 1465,407 1468,406" stroke="#0b8ab8" stroke-width="1.4" stroke-opacity=".8"/>
<path d="M1449.3,430.2C1451,428 1456,421 1460,419C1463,417 1469,416 1471,415" stroke="#0c98cb" stroke-width="1.5" stroke-opacity=".8"/>
<path d="M1437.2,420.1C1439,418 1446,410 1450,406C1455,403 1463,401 1465,400" stroke="#88daf8" stroke-width="1.2" stroke-opacity=".8"/>
<path d="M1446.5,439.1L1459.6,447.9" stroke="#24b4ee" stroke-width="15.8"/>
<path d="M1449.3,434.9L1462.3,443.9" stroke="#109cd4" stroke-width="3.2"/>
<path d="M1445.1,441.3L1458.3,449.9" stroke="#62c9f3" stroke-width="2.1"/>
<path d="M1446.8,438.7L1460.9,446.1" stroke="#0d80ae" stroke-width="1.2" stroke-opacity=".8"/>
<path d="M1443,444.4L1456,453.4" stroke="#0f8ec1" stroke-width="1.3" stroke-opacity=".8"/>
<path d="M1483.8,434.7L1488.2,435.8" stroke="#20d0f8" stroke-width="14.1"/>
<path d="M1484.8,430.5L1489.2,431.5" stroke="#07bae3" stroke-width="2.8"/>
<path d="M1483.3,436.7L1487.4,438.7" stroke="#60defa" stroke-width="1.8"/>
<path d="M1483.9,434.3L1488.6,434.2" stroke="#069abb" stroke-width="1.2" stroke-opacity=".8"/>
<path d="M1482.4,440.3L1487,440.6" stroke="#07aacf" stroke-width="1.2" stroke-opacity=".8"/>
<path d="M1494.7,158.9L1507.9,152.4" stroke="#0a8a5a" stroke-width="7.0"/>
<path d="M1490.4,167.7C1490,171 1488,179 1490,185C1493,191 1498,197 1504,203C1509,209 1516,215 1521,220C1527,226 1534,235 1536,238" stroke="#14c890" stroke-width="12.3"/>
<path d="M1493.6,167.7C1494,170 1491,179 1494,184C1496,190 1501,195 1506,201C1511,206 1518,212 1524,218C1529,224 1537,232 1539,235" stroke="#109e72" stroke-width="2.5"/>
<path d="M1488.2,167.7C1488,171 1486,180 1488,186C1491,192 1496,199 1501,205C1507,211 1514,216 1519,222C1525,228 1533,236 1535,239" stroke="#34ebb2" stroke-width="1.6"/>
<path d="M1490.1,167.7C1490,171 1488,179 1490,185C1493,191 1498,197 1504,203C1509,209 1515,215 1521,220C1527,226 1534,235 1537,237" stroke="#0c7957" stroke-width="1.2" stroke-opacity=".8"/>
<path d="M1485.1,167.7C1485,171 1483,181 1485,187C1488,193 1495,200 1500,206C1505,212 1512,218 1517,224C1523,230 1530,238 1533,241" stroke="#0e8c65" stroke-width="1.2" stroke-opacity=".8"/>
<path d="M1516.7,156.8C1519,160 1525,171 1530,179C1534,186 1539,195 1543,203C1547,210 1552,219 1554,223" stroke="#10b880" stroke-width="22.9"/>
<path d="M1511.5,159.9C1514,164 1520,174 1525,182C1529,189 1532,199 1536,207C1540,214 1546,222 1548,226" stroke="#0c8e63" stroke-width="4.6"/>
<path d="M1520.7,154.3C1523,158 1528,169 1532,177C1536,185 1541,194 1545,202C1549,209 1554,218 1556,221" stroke="#1feca7" stroke-width="3.0"/>
<path d="M1517.3,156.4C1519,160 1526,171 1530,179C1533,187 1536,197 1540,204C1544,212 1551,220 1554,223" stroke="#096849" stroke-width="1.6" stroke-opacity=".8"/>
<path d="M1524.7,151.9C1527,156 1533,167 1537,174C1542,182 1547,191 1551,198C1555,205 1561,215 1563,218" stroke="#0b7b56" stroke-width="1.8" stroke-opacity=".8"/>
<path d="M1508,162C1510,166 1517,176 1521,184C1526,191 1531,200 1535,207C1539,215 1544,224 1546,227" stroke="#40eeb4" stroke-width="1.4" stroke-opacity=".8"/>
<path d="M1553.9,130.9C1553,133 1549,140 1547,146C1546,152 1542,160 1543,168C1544,176 1548,187 1552,194C1555,201 1563,209 1565,212" stroke="#14c48c" stroke-width="19.4"/>
<path d="M1547.6,128.1C1547,131 1545,138 1543,144C1541,151 1536,160 1537,168C1537,177 1542,189 1546,197C1550,205 1558,212 1561,215" stroke="#109a6e" stroke-width="3.9"/>
<path d="M1557,132.2C1556,135 1553,141 1551,147C1550,153 1546,160 1547,167C1547,175 1551,186 1555,193C1558,199 1566,206 1568,209" stroke="#30eaaf" stroke-width="2.5"/>
<path d="M1553.9,130.8C1552,133 1547,139 1545,145C1543,151 1541,160 1542,168C1543,176 1547,187 1551,194C1554,202 1561,210 1563,213" stroke="#0c7554" stroke-width="1.4" stroke-opacity=".8"/>
<path d="M1560.3,133.7C1559,136 1555,142 1553,147C1551,153 1549,160 1550,167C1550,174 1554,185 1557,191C1561,198 1569,204 1572,207" stroke="#0e8861" stroke-width="1.5" stroke-opacity=".8"/>
<path d="M1546,127.4C1545,130 1540,136 1539,143C1537,150 1535,159 1535,168C1536,178 1540,190 1543,198C1547,206 1556,213 1559,216" stroke="#51edbb" stroke-width="1.2" stroke-opacity=".8"/>
<path d="M1547.4,222.5C1550,225 1557,232 1561,238C1565,243 1569,249 1571,255C1574,262 1575,274 1576,277" stroke="#18d8b0" stroke-width="19.4"/>
<path d="M1542.1,227C1544,229 1551,237 1555,242C1559,247 1564,251 1566,258C1568,264 1569,275 1570,279" stroke="#13af8e" stroke-width="3.9"/>
<path d="M1549.8,220.4C1552,223 1559,230 1563,236C1567,242 1572,247 1575,254C1578,261 1578,273 1579,277" stroke="#48ebc9" stroke-width="2.5"/>
<path d="M1547.1,222.7C1549,225 1556,233 1560,239C1564,244 1568,249 1571,256C1573,262 1575,274 1576,277" stroke="#0f8a70" stroke-width="1.4" stroke-opacity=".8"/>
<path d="M1551.9,218.6C1554,221 1562,228 1566,234C1570,240 1575,246 1578,253C1581,260 1583,272 1584,276" stroke="#119c7f" stroke-width="1.5" stroke-opacity=".8"/>
<path d="M1540.5,228.4C1543,231 1550,238 1554,243C1557,248 1561,253 1563,259C1566,265 1567,276 1568,279" stroke="#68eed2" stroke-width="1.2" stroke-opacity=".8"/>
<path d="M1538.6,165.5L1547.4,178.7" stroke="#b0a020" stroke-width="3.5"/>
<path d="M1444.3,262C1446,261 1454,252 1457,253C1461,255 1463,265 1466,271C1470,276 1475,287 1479,286C1483,285 1486,271 1490,266C1494,262 1499,259 1504,260C1508,261 1514,268 1519,273C1524,278 1528,288 1532,288C1536,289 1541,280 1545,277C1550,274 1554,270 1558,271C1563,272 1569,282 1571,284" stroke="#20f0d4" stroke-width="26.4"/>
<path d="M1447.9,267.4C1449,266 1453,259 1455,260C1457,261 1456,269 1460,275C1464,281 1475,295 1481,294C1487,294 1493,277 1497,272C1500,268 1499,266 1502,267C1505,268 1508,275 1513,279C1517,284 1525,294 1531,295C1537,296 1546,287 1550,285C1554,282 1554,277 1557,278C1559,279 1564,288 1565,290" stroke="#0ed4b9" stroke-width="5.3"/>
<path d="M1441.2,257.3C1444,256 1455,246 1459,248C1464,250 1466,263 1469,269C1472,275 1476,284 1479,283C1482,282 1482,267 1486,263C1491,258 1498,256 1504,257C1510,258 1518,265 1522,269C1527,274 1529,284 1533,285C1536,285 1538,276 1542,273C1547,270 1554,265 1559,266C1565,268 1573,278 1575,280" stroke="#5ef4e0" stroke-width="3.4"/>
<path d="M1446,264.5C1448,263 1454,253 1457,254C1461,255 1463,265 1466,271C1470,276 1476,288 1480,287C1483,286 1486,270 1490,266C1494,262 1499,259 1503,261C1508,262 1513,269 1518,274C1522,279 1527,289 1532,290C1536,291 1542,282 1546,279C1551,276 1554,270 1558,271C1562,273 1568,283 1570,286" stroke="#0cae98" stroke-width="1.8" stroke-opacity=".8"/>
<path d="M1439.5,254.9C1443,253 1456,241 1462,243C1467,245 1472,260 1475,265C1478,270 1476,276 1477,275C1479,274 1478,264 1483,260C1488,256 1499,249 1506,250C1513,251 1522,261 1526,266C1531,270 1531,278 1534,279C1536,280 1536,273 1540,270C1545,267 1555,259 1561,261C1567,262 1575,275 1578,277" stroke="#0dc1a9" stroke-width="2.1" stroke-opacity=".8"/>
<path d="M1451.1,272.2C1451,271 1452,264 1453,265C1454,265 1453,271 1457,277C1462,282 1474,297 1481,297C1488,296 1495,278 1498,274C1502,270 1499,271 1501,272C1503,274 1506,277 1511,281C1516,286 1523,299 1530,300C1537,301 1547,289 1551,286C1555,283 1553,282 1555,283C1557,284 1562,291 1563,292" stroke="#80f6e6" stroke-width="1.6" stroke-opacity=".8"/>
<path d="M1459.6,253.2L1464,262" stroke="#0a9a98" stroke-width="5.3"/>
<path d="M1448.7,294.4C1453,295 1464,298 1473,299C1482,299 1493,296 1504,297C1514,297 1527,301 1536,301C1546,301 1554,298 1561,299C1567,299 1571,302 1574,303" stroke="#20e8d0" stroke-width="24.6"/>
<path d="M1450.1,286.4C1454,287 1464,291 1473,291C1482,292 1493,289 1504,290C1514,290 1527,292 1537,292C1546,293 1554,291 1561,292C1568,292 1574,294 1576,295" stroke="#14c6b0" stroke-width="4.9"/>
<path d="M1448.2,297.1C1452,298 1463,303 1473,303C1482,304 1493,300 1503,301C1514,301 1527,305 1536,305C1546,306 1554,302 1560,302C1566,303 1570,306 1572,307" stroke="#5ceedd" stroke-width="3.2"/>
<path d="M1449.1,291.9C1453,293 1464,296 1473,297C1482,298 1493,296 1504,296C1514,297 1527,301 1536,301C1546,301 1554,296 1561,296C1567,296 1572,300 1575,300" stroke="#11a18f" stroke-width="1.7" stroke-opacity=".8"/>
<path d="M1446.9,304.4C1451,305 1463,308 1472,308C1482,309 1493,306 1503,307C1514,307 1527,309 1536,309C1546,309 1554,307 1560,308C1566,308 1569,310 1571,311" stroke="#12b3a0" stroke-width="2.0" stroke-opacity=".8"/>
<path d="M1450.5,284.5C1454,285 1464,287 1473,288C1482,288 1493,286 1504,286C1514,287 1527,291 1537,291C1546,292 1554,287 1561,288C1568,288 1574,292 1577,293" stroke="#7cf2e3" stroke-width="1.5" stroke-opacity=".8"/>
<path d="M1547.4,311.9L1560.5,322.9" stroke="#18d0a0" stroke-width="12.3"/>
<path d="M1549.8,309L1563,319.9" stroke="#13a780" stroke-width="2.5"/>
<path d="M1546.5,313L1558.9,324.8" stroke="#41e9bd" stroke-width="1.6"/>
<path d="M1548.4,310.7L1561.5,321.7" stroke="#0f8264" stroke-width="1.2" stroke-opacity=".8"/>
<path d="M1544.4,315.5L1557.6,326.4" stroke="#119572" stroke-width="1.2" stroke-opacity=".8"/>
<path d="M1562.7,134.8C1565,133 1572,124 1576,124C1580,125 1582,132 1585,137C1588,142 1589,149 1593,152C1597,156 1605,159 1609,157C1612,155 1613,145 1615,141C1618,137 1621,132 1624,133C1627,134 1632,140 1635,146C1638,152 1638,163 1642,168C1645,173 1652,176 1657,176C1662,176 1667,171 1675,168C1682,164 1696,159 1700,157" stroke="#f0e828" stroke-width="22.9"/>
<path d="M1566.7,139.8C1568,138 1573,132 1575,132C1577,132 1577,136 1580,140C1582,144 1584,153 1590,157C1595,161 1607,165 1612,163C1617,161 1618,149 1620,145C1622,141 1621,138 1623,139C1624,140 1626,144 1628,149C1631,155 1631,166 1636,172C1640,178 1650,183 1657,183C1664,183 1669,176 1677,173C1685,170 1698,164 1703,163" stroke="#dbd30f" stroke-width="4.6"/>
<path d="M1560.8,132.5C1563,130 1572,120 1576,120C1581,121 1585,130 1589,135C1592,139 1592,147 1595,150C1598,153 1604,155 1607,154C1610,152 1610,144 1613,140C1616,136 1621,130 1625,131C1629,131 1634,139 1637,145C1641,150 1642,161 1645,165C1648,170 1652,174 1657,174C1662,173 1666,167 1673,164C1680,160 1694,155 1698,153" stroke="#f4ef66" stroke-width="3.0"/>
<path d="M1563.2,135.4C1565,134 1572,127 1576,127C1579,128 1579,134 1582,138C1585,143 1589,149 1593,152C1598,156 1605,159 1609,157C1613,155 1613,146 1616,142C1618,138 1621,133 1624,134C1627,134 1632,140 1634,146C1637,152 1637,163 1641,168C1645,173 1651,176 1657,176C1663,177 1668,172 1675,169C1682,166 1697,161 1701,159" stroke="#b5ae0d" stroke-width="1.6" stroke-opacity=".8"/>
<path d="M1557.5,128.3C1561,126 1571,116 1577,117C1582,118 1588,128 1592,133C1595,137 1597,142 1599,145C1602,148 1604,151 1605,150C1607,149 1606,142 1609,137C1613,133 1620,123 1626,124C1632,125 1640,135 1644,141C1648,148 1646,158 1649,163C1651,167 1653,169 1657,168C1661,168 1664,163 1671,160C1678,157 1693,152 1697,150" stroke="#c8c00e" stroke-width="1.8" stroke-opacity=".8"/>
<path d="M1569.2,143C1570,142 1574,135 1575,135C1576,135 1575,138 1577,142C1579,146 1581,156 1587,160C1593,164 1608,169 1614,166C1620,164 1622,150 1623,146C1624,142 1622,141 1622,142C1623,143 1624,145 1626,151C1627,156 1627,168 1633,174C1638,180 1649,185 1657,186C1665,186 1671,181 1679,177C1687,174 1700,167 1704,165" stroke="#f7f287" stroke-width="1.4" stroke-opacity=".8"/>
<path d="M1621.9,172.1C1625,174 1634,183 1639,185C1645,187 1654,183 1657,183" stroke="#d8cc20" stroke-width="12.3"/>
<path d="M1619.9,174.8C1623,177 1632,186 1638,188C1645,190 1654,187 1658,187" stroke="#b0a61a" stroke-width="2.5"/>
<path d="M1623.1,170.6C1626,173 1634,182 1640,184C1646,185 1654,181 1657,181" stroke="#e6dc55" stroke-width="1.6"/>
<path d="M1621.8,172.3C1625,175 1633,185 1639,187C1645,189 1654,185 1657,184" stroke="#8c8515" stroke-width="1.2" stroke-opacity=".8"/>
<path d="M1624.7,168.4C1627,171 1636,179 1641,181C1646,183 1654,179 1656,179" stroke="#9e9517" stroke-width="1.2" stroke-opacity=".8"/>
<path d="M1573.7,145.8L1589,158.9" stroke="#c8b818" stroke-width="5.3"/>
<path d="M1657,183.1C1661,185 1672,191 1679,194C1686,197 1696,201 1700,203" stroke="#58e038" stroke-width="14.1"/>
<path d="M1659,179.2C1663,181 1673,187 1680,191C1688,194 1698,198 1702,199" stroke="#40cb20" stroke-width="2.8"/>
<path d="M1655.7,185.6C1659,187 1671,193 1678,197C1685,200 1695,204 1699,205" stroke="#88e971" stroke-width="1.8"/>
<path d="M1656.9,183.3C1661,185 1672,191 1679,194C1686,198 1697,201 1700,202" stroke="#35a71a" stroke-width="1.2" stroke-opacity=".8"/>
<path d="M1654.7,187.8C1658,190 1669,196 1677,199C1684,203 1694,207 1698,208" stroke="#3bb91d" stroke-width="1.2" stroke-opacity=".8"/>
<path d="M1650,220.4C1652,219 1659,216 1663,212C1668,207 1672,198 1676,194C1681,190 1687,187 1689,185" stroke="#50e030" stroke-width="12.3"/>
<path d="M1652.4,223.9C1655,222 1662,219 1666,215C1671,210 1674,201 1679,196C1683,192 1689,189 1691,188" stroke="#3cc51d" stroke-width="2.5"/>
<path d="M1649,218.9C1651,217 1658,215 1662,210C1666,206 1670,197 1675,192C1679,188 1686,185 1688,183" stroke="#81e96a" stroke-width="1.6"/>
<path d="M1650.4,220.9C1653,219 1659,216 1663,212C1668,207 1673,199 1677,195C1682,191 1688,187 1690,186" stroke="#31a118" stroke-width="1.2" stroke-opacity=".8"/>
<path d="M1647.7,216.9C1650,215 1656,213 1660,208C1664,204 1668,195 1673,190C1677,186 1685,183 1687,182" stroke="#36b31b" stroke-width="1.2" stroke-opacity=".8"/>
<path d="M1680.7,202.8L1700.4,200.6" stroke="#48dc30" stroke-width="8.8"/>
<path d="M1656.6,202.8C1659,206 1668,215 1672,220C1676,225 1677,231 1679,234" stroke="#50e030" stroke-width="12.3"/>
<path d="M1659.1,200.6C1662,203 1672,213 1676,218C1679,223 1681,230 1682,232" stroke="#3cc51d" stroke-width="2.5"/>
<path d="M1654.8,204.4C1657,207 1667,216 1671,221C1674,226 1676,232 1677,234" stroke="#81e96a" stroke-width="1.6"/>
<path d="M1657.3,202.2C1660,205 1669,215 1672,220C1676,225 1678,231 1679,233" stroke="#31a118" stroke-width="1.2" stroke-opacity=".8"/>
<path d="M1653.2,205.8C1656,209 1665,218 1668,223C1672,228 1673,233 1675,236" stroke="#36b31b" stroke-width="1.2" stroke-opacity=".8"/>
<path d="M1632.9,277.4C1633,273 1632,259 1633,251C1634,243 1635,236 1639,231C1643,226 1651,221 1657,220C1663,220 1669,224 1675,229C1680,234 1684,243 1688,251C1691,259 1693,273 1694,277" stroke="#30d830" stroke-width="21.1"/>
<path d="M1639,277.4C1639,273 1639,259 1640,252C1641,245 1642,240 1645,236C1648,232 1653,227 1657,227C1661,227 1665,230 1669,234C1673,239 1679,246 1682,254C1685,261 1686,275 1687,279" stroke="#23b823" stroke-width="4.2"/>
<path d="M1629.5,277.4C1629,273 1628,258 1629,251C1631,243 1633,235 1638,230C1642,224 1650,218 1657,217C1663,217 1671,222 1676,227C1682,233 1688,241 1692,249C1695,258 1696,272 1697,277" stroke="#68e368" stroke-width="2.7"/>
<path d="M1633.6,277.4C1633,273 1632,259 1633,251C1634,243 1635,236 1639,231C1643,226 1652,223 1657,223C1663,223 1668,226 1673,231C1677,236 1682,244 1686,252C1689,260 1691,274 1692,278" stroke="#1c951c" stroke-width="1.5" stroke-opacity=".8"/>
<path d="M1625.9,277.4C1626,273 1622,258 1624,250C1625,241 1629,233 1634,227C1640,221 1649,214 1657,214C1664,213 1673,219 1679,224C1686,230 1690,240 1694,249C1698,257 1701,271 1702,275" stroke="#1fa61f" stroke-width="1.7" stroke-opacity=".8"/>
<path d="M1641.7,277.4C1642,273 1641,259 1642,252C1643,246 1645,241 1647,238C1650,234 1654,230 1658,229C1661,229 1664,232 1668,236C1671,240 1677,247 1680,254C1683,262 1684,276 1684,280" stroke="#86e886" stroke-width="1.3" stroke-opacity=".8"/>
<path d="M1663.2,233.5C1665,236 1672,245 1676,251C1681,257 1684,264 1689,269C1695,273 1702,274 1707,277C1712,281 1718,286 1722,291C1726,295 1730,301 1731,306C1732,311 1727,319 1727,321" stroke="#30e028" stroke-width="22.9"/>
<path d="M1668.3,229.6C1670,233 1676,242 1681,248C1685,253 1689,259 1694,263C1699,267 1705,268 1711,272C1716,275 1724,280 1728,285C1733,291 1736,299 1737,305C1738,311 1735,320 1735,323" stroke="#23bf1b" stroke-width="4.6"/>
<path d="M1659.5,236.2C1662,239 1668,248 1673,254C1677,260 1681,268 1687,272C1692,276 1700,276 1706,279C1711,283 1717,288 1720,292C1724,297 1726,302 1727,306C1728,311 1725,318 1724,321" stroke="#68e862" stroke-width="3.0"/>
<path d="M1664.1,232.8C1666,236 1673,244 1677,250C1681,256 1684,265 1689,269C1694,274 1702,273 1707,277C1713,280 1718,286 1722,291C1726,296 1732,301 1733,306C1734,311 1728,319 1727,321" stroke="#1c9b16" stroke-width="1.6" stroke-opacity=".8"/>
<path d="M1656.6,238.4C1659,242 1664,251 1668,257C1673,263 1679,269 1685,274C1690,279 1696,282 1702,285C1707,289 1713,292 1717,295C1720,299 1722,303 1723,307C1723,311 1719,317 1719,319" stroke="#1fad19" stroke-width="1.8" stroke-opacity=".8"/>
<path d="M1671.8,227C1674,230 1680,240 1684,245C1688,251 1691,257 1696,261C1701,264 1707,265 1713,269C1719,272 1726,277 1731,283C1736,289 1741,298 1742,304C1742,311 1737,321 1737,324" stroke="#86ed81" stroke-width="1.4" stroke-opacity=".8"/>
<path d="M1665.4,240.1L1671.9,246.7" stroke="#408a18" stroke-width="5.3"/>
<path d="M1709.2,296.6C1712,298 1721,301 1725,303C1729,306 1734,309 1733,312C1733,315 1725,317 1720,321C1716,324 1709,330 1707,332" stroke="#30e828" stroke-width="21.1"/>
<path d="M1711.8,290.4C1714,292 1723,294 1728,298C1732,302 1741,309 1740,314C1740,318 1729,322 1724,326C1719,330 1713,335 1711,337" stroke="#1dcc16" stroke-width="4.2"/>
<path d="M1707.4,300.8C1710,302 1719,305 1722,307C1726,308 1730,309 1730,311C1729,313 1723,316 1719,319C1715,322 1707,328 1705,329" stroke="#6aee64" stroke-width="2.7"/>
<path d="M1709.3,296.3C1712,297 1722,299 1726,301C1730,304 1735,309 1734,312C1733,316 1725,318 1721,322C1717,325 1711,332 1709,334" stroke="#18a712" stroke-width="1.5" stroke-opacity=".8"/>
<path d="M1705.6,305.1C1708,306 1716,310 1720,310C1723,311 1727,310 1727,310C1726,311 1719,312 1715,314C1711,317 1705,324 1702,326" stroke="#1bba14" stroke-width="1.7" stroke-opacity=".8"/>
<path d="M1713,287.8C1716,289 1725,291 1730,295C1734,300 1743,309 1743,314C1742,320 1731,324 1726,328C1721,333 1715,337 1713,339" stroke="#89f284" stroke-width="1.3" stroke-opacity=".8"/>
<path d="M1722.4,318.5C1721,321 1715,328 1711,334C1707,340 1702,348 1698,356C1694,363 1691,371 1687,378C1684,384 1680,392 1679,395" stroke="#30e030" stroke-width="7.0"/>
<path d="M1547.4,321.2C1550,318 1558,307 1565,299C1571,292 1580,283 1587,277C1594,272 1601,266 1609,266C1616,266 1624,272 1631,277C1637,283 1642,291 1646,299C1650,308 1653,325 1655,330" stroke="#10e030" stroke-width="26.4"/>
<path d="M1540.6,315.8C1544,312 1551,301 1558,293C1565,286 1574,278 1583,272C1591,266 1600,258 1609,258C1618,258 1628,266 1635,272C1642,279 1649,287 1653,296C1658,305 1660,323 1662,328" stroke="#0db527" stroke-width="5.3"/>
<path d="M1550.3,323.5C1553,320 1562,310 1569,303C1575,296 1582,285 1589,280C1595,274 1602,270 1609,269C1615,269 1623,274 1629,280C1634,285 1638,293 1642,301C1645,310 1649,326 1650,331" stroke="#41f15c" stroke-width="3.4"/>
<path d="M1545.1,319.5C1548,316 1557,305 1564,298C1571,291 1579,283 1587,278C1595,272 1601,266 1609,266C1616,265 1626,269 1633,275C1639,280 1644,289 1648,298C1653,307 1656,324 1658,329" stroke="#0a8f1f" stroke-width="1.8" stroke-opacity=".8"/>
<path d="M1553.9,326.5C1557,323 1566,313 1572,306C1578,299 1586,289 1592,284C1598,279 1603,278 1609,278C1614,278 1620,280 1624,284C1629,289 1634,295 1637,303C1641,311 1644,328 1645,333" stroke="#0ca223" stroke-width="2.1" stroke-opacity=".8"/>
<path d="M1538.8,314.4C1542,311 1550,300 1557,292C1564,284 1571,274 1580,268C1588,262 1599,254 1609,254C1619,254 1630,262 1639,268C1647,275 1653,284 1658,294C1662,304 1665,321 1666,327" stroke="#62f479" stroke-width="1.6" stroke-opacity=".8"/>
<path d="M1650,277.4C1651,281 1657,291 1659,299C1661,308 1662,325 1663,330" stroke="#10e030" stroke-width="26.4"/>
<path d="M1641.2,280.9C1643,284 1648,293 1650,301C1652,310 1654,326 1655,331" stroke="#0db527" stroke-width="5.3"/>
<path d="M1653.6,275.9C1655,280 1662,289 1664,298C1667,307 1667,324 1668,329" stroke="#41f15c" stroke-width="3.4"/>
<path d="M1649.5,277.6C1651,281 1654,291 1657,300C1659,309 1663,325 1664,330" stroke="#0a8f1f" stroke-width="1.8" stroke-opacity=".8"/>
<path d="M1659.5,273.6C1661,277 1666,288 1668,297C1670,306 1671,323 1672,329" stroke="#0ca223" stroke-width="2.1" stroke-opacity=".8"/>
<path d="M1638.4,282C1640,285 1645,294 1647,302C1650,310 1652,327 1653,332" stroke="#62f479" stroke-width="1.6" stroke-opacity=".8"/>
<path d="M1604.4,303.2C1606,306 1612,317 1613,323C1614,329 1607,335 1609,340C1610,346 1620,350 1622,356C1623,362 1616,373 1618,378C1619,383 1629,384 1633,386C1637,389 1638,394 1639,395" stroke="#a8e830" stroke-width="26.4"/>
<path d="M1597,306.4C1598,309 1605,318 1606,324C1606,330 1600,337 1601,342C1603,348 1614,351 1615,357C1617,364 1608,375 1609,381C1611,387 1623,391 1627,394C1631,397 1632,399 1633,400" stroke="#92d317" stroke-width="5.3"/>
<path d="M1607.6,301.7C1609,305 1615,316 1616,323C1617,329 1612,334 1614,339C1615,345 1623,349 1625,355C1626,361 1619,372 1621,376C1623,381 1632,380 1636,382C1640,385 1643,390 1644,392" stroke="#c1ef6c" stroke-width="3.4"/>
<path d="M1604.3,303.2C1605,307 1611,317 1611,323C1612,329 1605,336 1607,341C1608,346 1620,350 1621,356C1623,362 1613,374 1614,379C1616,384 1628,384 1632,387C1637,390 1638,394 1639,396" stroke="#78ae13" stroke-width="1.8" stroke-opacity=".8"/>
<path d="M1614.6,298.6C1616,303 1620,315 1621,322C1622,328 1618,332 1620,338C1621,343 1629,348 1630,354C1631,360 1625,370 1627,374C1628,379 1635,377 1639,379C1642,382 1646,388 1647,390" stroke="#85c015" stroke-width="2.1" stroke-opacity=".8"/>
<path d="M1594.3,307.6C1595,310 1600,318 1601,324C1601,330 1595,338 1596,344C1598,349 1608,352 1610,359C1611,365 1604,376 1606,382C1609,388 1622,391 1626,395C1630,398 1629,401 1629,403" stroke="#cff28c" stroke-width="1.6" stroke-opacity=".8"/>
<path d="M1632.9,294.4C1635,299 1643,313 1648,323C1653,333 1658,345 1661,356C1665,367 1668,378 1670,389C1672,400 1675,411 1675,422C1674,433 1671,444 1668,454C1665,465 1661,475 1657,483C1653,491 1647,500 1642,505C1636,510 1627,510 1624,511" stroke="#20e038" stroke-width="22.9"/>
<path d="M1626.4,297.9C1629,303 1638,316 1642,326C1647,336 1651,347 1654,358C1658,369 1661,379 1664,390C1666,400 1669,411 1669,421C1668,432 1664,443 1661,453C1658,462 1654,472 1650,479C1646,487 1642,496 1637,500C1633,504 1624,504 1622,505" stroke="#1ab82d" stroke-width="4.6"/>
<path d="M1635.4,293C1638,298 1646,312 1650,322C1655,332 1660,344 1664,355C1668,366 1672,377 1675,388C1677,399 1678,410 1678,422C1677,433 1674,445 1671,455C1668,466 1664,475 1659,484C1655,493 1650,502 1644,507C1638,513 1628,513 1625,515" stroke="#5ae86c" stroke-width="3.0"/>
<path d="M1630.9,295.4C1634,300 1644,313 1648,323C1653,333 1657,345 1661,356C1664,367 1669,378 1671,389C1673,399 1674,411 1673,422C1673,433 1671,444 1668,455C1666,465 1661,474 1656,483C1652,491 1647,500 1641,505C1636,509 1627,511 1624,512" stroke="#159525" stroke-width="1.6" stroke-opacity=".8"/>
<path d="M1641.1,290C1643,295 1650,309 1655,320C1660,330 1667,341 1671,353C1675,364 1676,376 1678,387C1680,399 1683,410 1682,422C1682,433 1678,446 1675,457C1672,467 1669,478 1665,487C1660,496 1653,506 1647,511C1641,517 1631,519 1628,521" stroke="#17a729" stroke-width="1.8" stroke-opacity=".8"/>
<path d="M1624.3,299C1627,304 1634,317 1638,328C1643,338 1647,349 1651,359C1655,370 1658,380 1660,391C1662,401 1665,411 1665,421C1664,431 1662,442 1659,452C1656,461 1651,470 1647,478C1643,486 1640,493 1635,497C1631,501 1623,501 1620,501" stroke="#7aec88" stroke-width="1.4" stroke-opacity=".8"/>
<path d="M1692.1,355.8C1690,363 1685,387 1679,400C1673,412 1665,422 1657,433C1649,443 1638,452 1631,461C1623,470 1616,480 1613,487C1611,495 1612,501 1615,505C1619,509 1632,510 1635,511" stroke="#28e440" stroke-width="17.6"/>
<path d="M1686.4,354.1C1684,361 1680,385 1675,398C1669,410 1662,420 1654,430C1645,440 1633,448 1626,457C1618,467 1611,477 1609,486C1606,494 1607,503 1611,508C1616,514 1630,515 1633,516" stroke="#19c52f" stroke-width="3.5"/>
<path d="M1695.8,356.9C1693,364 1687,388 1681,400C1675,413 1668,424 1660,435C1652,445 1640,454 1633,463C1625,472 1618,482 1616,488C1613,495 1614,499 1618,503C1621,506 1633,508 1636,508" stroke="#63eb74" stroke-width="2.3"/>
<path d="M1690.4,355.3C1688,363 1683,386 1677,399C1671,411 1663,421 1655,431C1648,442 1638,452 1631,461C1623,470 1614,479 1611,487C1609,494 1611,501 1615,505C1619,509 1631,512 1634,513" stroke="#14a126" stroke-width="1.2" stroke-opacity=".8"/>
<path d="M1697.2,357.3C1695,365 1691,389 1685,402C1679,416 1671,427 1663,437C1655,448 1642,456 1635,464C1628,473 1622,483 1619,489C1617,496 1617,498 1620,501C1623,504 1634,505 1637,506" stroke="#17b32b" stroke-width="1.4" stroke-opacity=".8"/>
<path d="M1650,311.9C1652,317 1660,334 1663,345C1667,356 1670,367 1672,378C1674,389 1675,400 1674,411C1673,422 1670,433 1668,444C1665,454 1662,467 1659,476C1656,486 1651,495 1650,498" stroke="#18d830" stroke-width="26.4"/>
<path d="M1655.9,309.6C1658,315 1666,331 1670,343C1674,354 1677,365 1679,377C1681,388 1683,400 1682,411C1682,423 1678,434 1675,445C1672,457 1669,469 1666,479C1663,488 1660,498 1658,502" stroke="#13af27" stroke-width="5.3"/>
<path d="M1645.6,313.7C1648,319 1656,335 1659,346C1663,357 1667,367 1669,378C1671,389 1672,400 1671,410C1670,421 1666,432 1663,443C1661,453 1659,467 1656,475C1653,484 1647,493 1645,496" stroke="#48eb5c" stroke-width="3.4"/>
<path d="M1650.9,311.6C1653,317 1661,333 1665,344C1669,355 1673,366 1674,377C1676,388 1675,399 1674,411C1674,422 1673,433 1671,444C1669,455 1665,468 1662,477C1658,486 1653,495 1651,499" stroke="#0f8a1f" stroke-width="1.8" stroke-opacity=".8"/>
<path d="M1641.1,315.5C1643,321 1650,337 1654,348C1658,359 1662,369 1664,379C1665,389 1664,400 1664,410C1663,420 1661,431 1659,442C1657,452 1653,465 1650,474C1647,483 1643,491 1641,495" stroke="#119c23" stroke-width="2.1" stroke-opacity=".8"/>
<path d="M1661.2,307.4C1663,313 1671,330 1675,341C1678,352 1683,364 1684,376C1686,387 1686,400 1685,411C1684,423 1681,435 1678,446C1675,457 1672,470 1669,480C1666,489 1663,499 1662,503" stroke="#68ee79" stroke-width="1.6" stroke-opacity=".8"/>
<path d="M1593.4,296.6C1592,300 1588,309 1582,316C1577,323 1567,332 1561,338C1554,345 1547,349 1543,356C1539,362 1536,370 1536,378C1536,386 1539,396 1543,404C1547,412 1553,420 1558,426C1564,432 1573,439 1576,441" stroke="#10d838" stroke-width="35.2"/>
<path d="M1603.8,302.3C1601,306 1596,315 1590,322C1584,329 1575,340 1568,346C1562,353 1555,356 1552,361C1549,367 1549,371 1548,378C1548,384 1548,393 1551,400C1554,407 1559,415 1565,420C1570,426 1580,430 1584,432" stroke="#0dad2d" stroke-width="7.0"/>
<path d="M1588,293.6C1587,297 1584,307 1579,314C1574,320 1562,326 1555,333C1549,340 1544,346 1540,354C1536,361 1533,369 1532,378C1532,387 1533,398 1537,407C1541,415 1549,422 1555,429C1560,436 1568,444 1571,447" stroke="#3af05e" stroke-width="4.6"/>
<path d="M1592.9,296.3C1591,300 1588,309 1583,317C1578,324 1570,335 1563,341C1557,348 1548,350 1543,356C1539,362 1535,370 1535,378C1536,386 1541,396 1545,403C1549,411 1556,417 1562,423C1567,429 1575,436 1578,439" stroke="#0a8723" stroke-width="2.5" stroke-opacity=".8"/>
<path d="M1582.9,290.7C1581,294 1577,301 1571,308C1566,314 1559,323 1552,330C1546,337 1538,342 1533,350C1529,358 1525,368 1525,378C1524,388 1527,400 1530,410C1534,419 1541,429 1547,436C1554,442 1564,448 1568,451" stroke="#0b9a28" stroke-width="2.8" stroke-opacity=".8"/>
<path d="M1606.5,303.8C1604,307 1599,318 1594,325C1588,333 1577,342 1571,349C1565,356 1560,360 1557,364C1554,369 1553,372 1553,378C1552,383 1553,392 1556,398C1559,405 1564,411 1570,416C1575,421 1584,427 1587,429" stroke="#5bf379" stroke-width="2.1" stroke-opacity=".8"/>
<path d="M1589,329.5C1586,332 1576,341 1571,347C1567,353 1562,358 1561,365C1559,371 1558,379 1561,386C1563,394 1569,402 1574,408C1578,415 1585,423 1587,426" stroke="#18c840" stroke-width="17.6"/>
<path d="M1592.8,333.3C1590,336 1581,345 1576,351C1572,356 1566,360 1565,366C1563,371 1564,378 1566,385C1569,391 1573,400 1577,406C1582,412 1589,419 1592,422" stroke="#139f33" stroke-width="3.5"/>
<path d="M1586.9,327.4C1584,330 1574,339 1569,345C1564,351 1560,357 1558,364C1556,371 1555,380 1558,387C1560,395 1568,403 1572,410C1576,416 1582,425 1584,428" stroke="#3be762" stroke-width="2.3"/>
<path d="M1590.4,330.8C1587,334 1578,343 1573,348C1568,354 1562,358 1561,365C1559,371 1561,379 1563,386C1565,393 1569,402 1574,408C1578,415 1586,422 1588,425" stroke="#0f7b27" stroke-width="1.2" stroke-opacity=".8"/>
<path d="M1583.7,324.2C1581,327 1571,336 1566,343C1561,349 1555,355 1553,363C1551,370 1551,380 1554,388C1557,397 1565,404 1569,411C1574,418 1579,427 1581,430" stroke="#118d2d" stroke-width="1.4" stroke-opacity=".8"/>
<path d="M1547.4,362.4C1547,366 1543,377 1543,384C1543,392 1548,404 1550,408" stroke="#0a9a28" stroke-width="7.0"/>
<path d="M1564.9,386.5L1575.9,395.3" stroke="#18d070" stroke-width="7.0"/>
<path d="M1737.7,288.3C1738,285 1736,274 1738,266C1740,258 1744,248 1749,240C1754,232 1761,224 1768,216C1775,208 1787,198 1790,194" stroke="#f07410" stroke-width="26.4"/>
<path d="M1728.8,288.3C1729,284 1728,273 1730,265C1732,256 1737,245 1742,236C1748,227 1755,218 1762,210C1769,202 1781,192 1785,189" stroke="#c65f0c" stroke-width="5.3"/>
<path d="M1742.8,288.3C1743,285 1740,275 1742,267C1743,260 1747,250 1752,242C1757,234 1765,227 1772,220C1779,212 1790,201 1794,197" stroke="#f4984e" stroke-width="3.4"/>
<path d="M1736.5,288.3C1737,285 1737,275 1739,267C1740,258 1741,247 1746,239C1751,230 1761,224 1768,216C1775,208 1785,196 1788,192" stroke="#9f4d0a" stroke-width="1.8" stroke-opacity=".8"/>
<path d="M1747.9,288.3C1748,285 1745,276 1746,268C1748,261 1752,253 1757,245C1762,238 1770,230 1776,223C1783,216 1794,205 1798,202" stroke="#b2560b" stroke-width="2.1" stroke-opacity=".8"/>
<path d="M1726.9,288.3C1727,284 1724,273 1726,264C1728,255 1733,243 1739,234C1744,225 1752,216 1759,208C1767,200 1778,190 1782,186" stroke="#f6ac70" stroke-width="1.6" stroke-opacity=".8"/>
<path d="M1755.3,290.5C1757,287 1760,274 1764,266C1768,258 1772,250 1777,242C1782,235 1788,227 1795,220C1801,214 1813,206 1817,203" stroke="#f07a14" stroke-width="21.1"/>
<path d="M1760.6,292.5C1762,289 1765,276 1769,269C1773,261 1779,254 1783,246C1788,239 1792,230 1798,224C1805,218 1817,210 1821,208" stroke="#c9640d" stroke-width="4.2"/>
<path d="M1753,289.7C1754,286 1757,273 1761,265C1764,257 1769,248 1775,241C1780,233 1786,225 1793,218C1799,212 1811,204 1815,201" stroke="#f49d52" stroke-width="2.7"/>
<path d="M1756.3,290.9C1758,287 1762,275 1766,267C1770,259 1774,252 1779,244C1784,236 1788,227 1794,220C1800,213 1813,205 1816,202" stroke="#a3510a" stroke-width="1.5" stroke-opacity=".8"/>
<path d="M1747,287.5C1749,283 1753,272 1757,263C1761,255 1765,246 1771,238C1776,230 1783,222 1790,215C1797,208 1808,200 1812,197" stroke="#b65b0c" stroke-width="1.7" stroke-opacity=".8"/>
<path d="M1763.1,293.4C1765,290 1769,278 1772,270C1776,263 1780,255 1785,248C1790,241 1796,234 1802,227C1808,221 1819,213 1823,210" stroke="#f6b074" stroke-width="1.3" stroke-opacity=".8"/>
<path d="M1786,191.8C1790,190 1801,182 1808,179C1814,176 1820,174 1825,173C1831,171 1836,170 1841,170C1846,171 1851,173 1856,176C1861,180 1865,185 1869,190C1874,195 1879,201 1882,207C1886,214 1890,225 1891,229" stroke="#f07010" stroke-width="17.6"/>
<path d="M1788.9,196.9C1792,195 1804,187 1810,184C1817,181 1822,179 1827,178C1832,177 1836,175 1840,176C1845,176 1849,178 1853,181C1858,184 1862,188 1866,193C1870,198 1874,203 1878,210C1881,216 1885,228 1886,231" stroke="#c65c0c" stroke-width="3.5"/>
<path d="M1784.7,189.6C1788,187 1800,180 1807,177C1813,173 1819,171 1825,169C1830,168 1836,167 1841,167C1847,168 1852,171 1857,175C1862,178 1867,183 1871,188C1876,193 1880,200 1884,206C1888,213 1893,224 1895,228" stroke="#f4954e" stroke-width="2.3"/>
<path d="M1786.8,193.3C1790,191 1802,184 1808,180C1815,177 1820,174 1825,172C1831,171 1836,171 1841,172C1846,173 1851,174 1856,177C1860,180 1863,186 1867,191C1872,196 1879,201 1883,207C1887,213 1889,226 1891,229" stroke="#9f4a0a" stroke-width="1.2" stroke-opacity=".8"/>
<path d="M1782.7,186.3C1786,184 1798,176 1805,172C1811,169 1818,168 1824,166C1830,165 1836,163 1842,164C1848,165 1854,168 1859,172C1864,176 1869,181 1873,186C1878,192 1884,197 1888,204C1892,211 1895,223 1897,227" stroke="#b2530b" stroke-width="1.4" stroke-opacity=".8"/>
<path d="M1816.7,202.8C1820,202 1833,198 1839,198C1844,199 1847,203 1852,207C1856,211 1862,219 1865,223C1868,226 1870,228 1871,229" stroke="#d09040" stroke-width="12.3"/>
<path d="M1815.9,198.9C1820,198 1833,193 1839,194C1845,195 1849,201 1854,205C1859,209 1864,216 1868,220C1871,224 1873,225 1875,226" stroke="#b5792d" stroke-width="2.5"/>
<path d="M1817,204.3C1821,204 1833,199 1838,200C1844,201 1846,205 1850,209C1854,213 1860,221 1863,224C1866,228 1869,229 1870,230" stroke="#ddaf75" stroke-width="1.6"/>
<path d="M1816.4,201.5C1820,201 1833,197 1839,198C1844,199 1847,203 1851,208C1856,212 1862,219 1865,222C1868,226 1871,228 1872,229" stroke="#956325" stroke-width="1.2" stroke-opacity=".8"/>
<path d="M1817.7,208C1821,207 1833,203 1838,204C1843,204 1844,207 1848,211C1852,215 1859,222 1862,225C1865,229 1867,232 1868,233" stroke="#a56e29" stroke-width="1.2" stroke-opacity=".8"/>
<path d="M1889,231.3C1891,235 1897,248 1900,255C1903,262 1908,267 1909,273C1910,279 1909,285 1907,291C1904,296 1897,305 1896,308" stroke="#ec6430" stroke-width="13.2"/>
<path d="M1892.8,229.6C1895,234 1900,247 1903,254C1907,261 1912,266 1913,272C1914,279 1913,286 1911,292C1908,298 1901,307 1899,310" stroke="#da4b14" stroke-width="2.6"/>
<path d="M1887,232.2C1889,236 1895,249 1899,256C1902,263 1906,268 1907,273C1908,279 1907,284 1905,290C1903,296 1896,304 1894,307" stroke="#f2916d" stroke-width="1.7"/>
<path d="M1890.1,230.9C1892,235 1898,248 1901,255C1904,262 1907,267 1908,273C1909,279 1909,285 1907,291C1905,296 1897,305 1895,308" stroke="#b53e11" stroke-width="1.2" stroke-opacity=".8"/>
<path d="M1885.1,233.1C1887,237 1893,251 1896,257C1899,264 1904,269 1905,274C1906,279 1904,283 1902,289C1899,294 1893,303 1892,306" stroke="#c74412" stroke-width="1.2" stroke-opacity=".8"/>
<path d="M1786,277.4C1788,273 1795,258 1799,251C1803,244 1806,233 1808,234C1810,234 1810,247 1812,255C1814,263 1817,273 1819,282C1821,291 1825,300 1825,308C1826,316 1824,326 1823,330" stroke="#f08418" stroke-width="14.1"/>
<path d="M1789.9,279.3C1792,275 1800,260 1803,253C1806,246 1806,237 1806,238C1807,238 1807,249 1808,256C1810,264 1813,274 1815,283C1817,291 1820,301 1821,308C1822,316 1820,326 1820,330" stroke="#cd6d0d" stroke-width="2.8"/>
<path d="M1783.4,276.1C1786,272 1792,257 1796,250C1801,242 1806,231 1808,232C1811,233 1812,247 1814,255C1816,263 1819,272 1822,281C1824,290 1828,300 1828,308C1829,316 1825,326 1825,330" stroke="#f4a556" stroke-width="1.8"/>
<path d="M1785.7,277.3C1788,273 1797,259 1801,252C1804,245 1806,234 1807,235C1809,236 1810,248 1812,256C1813,263 1815,273 1817,282C1820,291 1824,300 1825,308C1826,316 1823,326 1823,330" stroke="#a6590b" stroke-width="1.2" stroke-opacity=".8"/>
<path d="M1782,275.4C1784,271 1790,257 1795,249C1799,241 1806,227 1810,228C1813,229 1815,246 1817,254C1820,263 1822,272 1824,280C1826,289 1830,299 1831,308C1832,316 1829,327 1828,331" stroke="#ba630c" stroke-width="1.2" stroke-opacity=".8"/>
<path d="M1893.4,275.2C1891,277 1881,283 1880,288C1880,293 1885,305 1889,306C1893,307 1904,300 1907,295C1909,290 1904,281 1902,277C1900,274 1895,276 1893,275" stroke="#e0d020" stroke-width="2.6"/>
<path d="M1816.7,290C1817,293 1819,302 1819,308C1819,313 1818,319 1817,325C1816,331 1814,337 1812,343C1811,348 1809,357 1808,360" stroke="#f08a10" stroke-width="19.4"/>
<path d="M1823.5,289.1C1824,292 1825,301 1825,308C1825,314 1824,320 1823,326C1821,332 1819,338 1818,344C1816,350 1815,359 1814,362" stroke="#c6710c" stroke-width="3.9"/>
<path d="M1813.1,290.4C1814,293 1816,302 1816,308C1816,313 1814,319 1813,324C1812,330 1810,336 1809,342C1808,348 1806,357 1806,360" stroke="#f4a94e" stroke-width="2.5"/>
<path d="M1818.6,289.8C1819,293 1821,302 1821,308C1820,313 1818,319 1817,325C1816,331 1815,337 1814,343C1812,349 1810,358 1809,361" stroke="#9f5b0a" stroke-width="1.4" stroke-opacity=".8"/>
<path d="M1808.6,291C1809,294 1812,302 1812,308C1813,313 1811,318 1810,324C1809,329 1807,335 1806,341C1804,347 1802,356 1802,359" stroke="#b2660b" stroke-width="1.5" stroke-opacity=".8"/>
<path d="M1826,288.8C1826,292 1829,301 1828,308C1828,314 1826,320 1825,327C1823,333 1822,339 1820,345C1819,351 1816,359 1816,362" stroke="#f6b970" stroke-width="1.2" stroke-opacity=".8"/>
<path d="M1790.4,344.8C1792,347 1795,355 1799,356C1803,357 1809,351 1812,351C1816,352 1820,356 1821,360C1822,365 1819,372 1817,378C1814,384 1810,389 1808,395C1805,401 1802,410 1801,413" stroke="#e8980c" stroke-width="19.4"/>
<path d="M1785.5,348.7C1788,351 1794,359 1798,360C1802,362 1808,358 1811,358C1814,358 1815,358 1815,361C1815,364 1814,370 1812,376C1810,381 1806,387 1803,393C1801,399 1797,408 1795,411" stroke="#bc7b0a" stroke-width="3.9"/>
<path d="M1793,342.7C1794,344 1796,353 1800,353C1803,354 1809,347 1813,348C1817,349 1822,355 1823,360C1825,365 1823,373 1820,379C1818,385 1813,391 1811,397C1808,402 1805,411 1804,414" stroke="#f5b441" stroke-width="2.5"/>
<path d="M1788.4,346.4C1790,348 1795,355 1799,356C1803,357 1808,352 1812,353C1816,354 1821,356 1821,360C1821,364 1817,371 1814,377C1812,383 1810,389 1808,395C1805,401 1801,409 1800,412" stroke="#966208" stroke-width="1.4" stroke-opacity=".8"/>
<path d="M1796.3,340.1C1797,342 1798,349 1801,349C1804,350 1809,343 1814,344C1818,346 1826,353 1827,359C1829,365 1825,373 1822,380C1820,386 1816,392 1814,398C1811,404 1809,412 1808,415" stroke="#a96f09" stroke-width="1.5" stroke-opacity=".8"/>
<path d="M1784.1,349.9C1786,352 1792,363 1796,365C1801,366 1808,360 1811,359C1813,359 1812,359 1812,362C1811,364 1810,369 1808,374C1806,380 1803,386 1801,392C1798,398 1794,407 1793,410" stroke="#f7c163" stroke-width="1.2" stroke-opacity=".8"/>
<path d="M1891.2,290C1893,291 1898,296 1900,299C1902,302 1904,306 1904,308" stroke="#f06028" stroke-width="14.1"/>
<path d="M1888.5,292.7C1890,294 1895,298 1897,301C1899,304 1900,308 1900,310" stroke="#db480f" stroke-width="2.8"/>
<path d="M1893.1,288.2C1894,290 1899,295 1902,298C1904,301 1905,305 1906,307" stroke="#f48e66" stroke-width="1.8"/>
<path d="M1891.5,289.7C1893,291 1898,295 1900,298C1902,301 1904,306 1904,308" stroke="#b53c0d" stroke-width="1.2" stroke-opacity=".8"/>
<path d="M1895.1,286.1C1897,288 1902,292 1904,295C1907,299 1908,304 1908,305" stroke="#c8420e" stroke-width="1.2" stroke-opacity=".8"/>
<path d="M1715.8,362.4L1724.6,382.1" stroke="#e8cc30" stroke-width="26.4"/>
<path d="M1722.6,359.3L1732.1,378.7" stroke="#d3b617" stroke-width="5.3"/>
<path d="M1712.4,363.9L1719.6,384.3" stroke="#efdb6c" stroke-width="3.4"/>
<path d="M1719,360.9L1724.9,382" stroke="#ae9613" stroke-width="1.8" stroke-opacity=".8"/>
<path d="M1707.8,365.9L1717.1,385.4" stroke="#c0a615" stroke-width="2.1" stroke-opacity=".8"/>
<path d="M1727.5,357.2L1735.1,377.4" stroke="#f2e38c" stroke-width="1.6" stroke-opacity=".8"/>
<path d="M1722.4,362.4C1726,365 1738,372 1746,378C1755,384 1765,393 1771,400C1776,406 1780,412 1782,415" stroke="#e8b41c" stroke-width="38.7"/>
<path d="M1717.2,370.5C1721,373 1733,379 1741,385C1748,391 1757,401 1762,407C1768,414 1771,419 1772,422" stroke="#c29614" stroke-width="7.7"/>
<path d="M1724.5,359C1729,361 1742,366 1751,372C1759,379 1768,390 1774,396C1780,403 1784,409 1786,412" stroke="#eec858" stroke-width="5.0"/>
<path d="M1722.2,362.7C1726,365 1737,373 1745,379C1753,386 1763,395 1769,401C1776,407 1780,412 1783,414" stroke="#9d7910" stroke-width="2.7" stroke-opacity=".8"/>
<path d="M1729.8,350.8C1734,353 1747,359 1756,365C1765,372 1776,382 1782,389C1788,396 1792,403 1794,406" stroke="#b08812" stroke-width="3.1" stroke-opacity=".8"/>
<path d="M1713.2,376.8C1717,379 1728,387 1735,393C1742,398 1751,407 1757,413C1763,418 1767,422 1769,424" stroke="#f1d379" stroke-width="2.3" stroke-opacity=".8"/>
<path d="M1737.7,362.4L1753.1,384.3" stroke="#f0c428" stroke-width="8.8"/>
<path d="M1829.8,321.2C1835,322 1848,324 1858,323C1869,323 1882,317 1891,317C1900,316 1910,320 1913,321" stroke="#f0e010" stroke-width="17.6"/>
<path d="M1829.4,327.2C1834,328 1848,330 1859,329C1869,328 1883,322 1891,321C1900,321 1909,326 1912,327" stroke="#c6b80c" stroke-width="3.5"/>
<path d="M1830,319.2C1835,320 1848,322 1858,321C1868,320 1882,315 1891,315C1900,314 1910,317 1914,318" stroke="#f4e84e" stroke-width="2.3"/>
<path d="M1829.9,320.9C1835,321 1848,323 1858,323C1869,322 1882,319 1891,319C1900,318 1910,321 1913,321" stroke="#9f950a" stroke-width="1.2" stroke-opacity=".8"/>
<path d="M1830.3,314.5C1835,315 1848,317 1858,316C1868,315 1881,310 1891,310C1900,309 1911,313 1915,314" stroke="#b2a70b" stroke-width="1.4" stroke-opacity=".8"/>
<path d="M1838.6,333.9C1843,333 1856,329 1865,327C1874,325 1884,322 1891,323C1898,324 1904,330 1907,332" stroke="#f0e818" stroke-width="26.4"/>
<path d="M1840.6,341.9C1845,341 1858,337 1867,335C1875,333 1884,330 1890,331C1896,332 1901,337 1903,338" stroke="#cdc60d" stroke-width="5.3"/>
<path d="M1837.4,329.1C1842,328 1855,326 1864,324C1873,322 1884,318 1892,319C1899,319 1906,326 1909,327" stroke="#f4ee56" stroke-width="3.4"/>
<path d="M1838.6,334C1843,333 1856,330 1865,328C1874,326 1884,322 1891,323C1898,324 1903,331 1906,333" stroke="#a6a10b" stroke-width="1.8" stroke-opacity=".8"/>
<path d="M1835.9,323C1840,322 1853,318 1863,316C1872,314 1884,311 1892,312C1901,313 1909,320 1912,322" stroke="#bab30c" stroke-width="2.1" stroke-opacity=".8"/>
<path d="M1841.5,345.7C1846,344 1859,340 1867,338C1875,336 1884,334 1890,334C1896,335 1899,341 1900,342" stroke="#f6f278" stroke-width="1.6" stroke-opacity=".8"/>
<path d="M1856.1,351.4C1860,352 1873,354 1880,354C1888,353 1897,348 1900,347" stroke="#f4ec20" stroke-width="22.9"/>
<path d="M1855.6,357C1860,358 1873,361 1881,361C1889,360 1899,355 1902,353" stroke="#dbd30b" stroke-width="4.6"/>
<path d="M1856.5,347.7C1860,348 1873,350 1880,350C1887,349 1896,344 1899,343" stroke="#f7f15f" stroke-width="3.0"/>
<path d="M1855.9,353.5C1860,354 1873,357 1880,356C1888,354 1897,349 1900,347" stroke="#b4ae09" stroke-width="1.6" stroke-opacity=".8"/>
<path d="M1856.9,343.4C1861,344 1873,345 1879,345C1886,344 1894,340 1898,340" stroke="#c8c10a" stroke-width="1.8" stroke-opacity=".8"/>
<path d="M1855.3,360.7C1860,361 1873,365 1881,364C1889,364 1899,357 1903,356" stroke="#f9f481" stroke-width="1.4" stroke-opacity=".8"/>
<path d="M1847.4,333.9C1851,333 1862,334 1869,332C1877,329 1888,323 1891,321" stroke="#8a7a10" stroke-width="2.6"/>
<path d="M1864.9,353.6L1878.1,358" stroke="#8a7a10" stroke-width="2.6"/>
<path d="M1869.3,373.3C1867,377 1861,387 1856,395C1852,403 1847,414 1843,422C1839,429 1835,435 1830,441C1825,447 1820,453 1812,457C1805,461 1790,464 1786,465" stroke="#f06424" stroke-width="12.3"/>
<path d="M1872.4,375.2C1870,379 1864,389 1859,397C1855,405 1850,416 1846,423C1841,431 1838,438 1832,444C1827,450 1821,455 1814,459C1806,464 1791,467 1787,469" stroke="#d74e0f" stroke-width="2.5"/>
<path d="M1868.1,372.6C1866,376 1859,386 1855,394C1850,402 1845,413 1841,420C1837,428 1834,434 1829,440C1824,446 1819,451 1812,455C1804,459 1790,463 1786,464" stroke="#f49062" stroke-width="1.6"/>
<path d="M1869.7,373.6C1867,377 1860,387 1856,395C1851,403 1847,414 1843,421C1838,429 1836,436 1831,442C1826,448 1820,453 1812,457C1805,461 1791,465 1786,466" stroke="#b1400c" stroke-width="1.2" stroke-opacity=".8"/>
<path d="M1865.2,370.9C1863,375 1857,385 1852,393C1848,401 1843,412 1838,419C1834,426 1830,432 1826,438C1821,443 1817,450 1810,453C1804,457 1789,460 1784,461" stroke="#c4470d" stroke-width="1.2" stroke-opacity=".8"/>
<path d="M1860.5,368.9C1857,371 1844,376 1839,380C1833,384 1828,388 1825,393C1823,399 1824,406 1821,413C1818,419 1814,427 1808,433C1802,438 1795,442 1786,446C1777,449 1765,452 1755,452C1745,453 1732,449 1725,448C1718,447 1715,446 1714,446" stroke="#f05a22" stroke-width="19.4"/>
<path d="M1862.7,373.4C1859,375 1848,382 1842,385C1837,389 1834,391 1831,396C1828,401 1830,408 1826,415C1823,422 1818,430 1811,436C1805,442 1797,448 1788,451C1779,455 1766,457 1755,457C1745,457 1731,454 1724,453C1717,452 1714,451 1713,451" stroke="#d6450e" stroke-width="3.9"/>
<path d="M1859.5,366.9C1856,369 1844,374 1837,378C1831,382 1826,386 1823,392C1820,397 1820,405 1817,411C1815,418 1811,425 1806,430C1800,435 1794,440 1785,443C1777,447 1765,448 1755,449C1745,449 1732,446 1725,445C1718,444 1716,444 1714,443" stroke="#f48860" stroke-width="2.5"/>
<path d="M1860.8,369.6C1857,371 1844,376 1839,380C1833,384 1830,388 1827,394C1824,400 1826,407 1823,414C1819,420 1814,427 1808,432C1802,438 1795,444 1786,447C1778,450 1766,452 1755,452C1745,452 1731,450 1724,449C1718,448 1715,446 1714,445" stroke="#af380c" stroke-width="1.4" stroke-opacity=".8"/>
<path d="M1856.9,361.6C1853,364 1841,369 1835,374C1828,379 1823,384 1820,390C1816,396 1816,403 1814,409C1811,416 1808,423 1803,428C1798,433 1791,436 1783,439C1775,442 1765,445 1755,446C1745,446 1732,442 1726,441C1719,440 1717,439 1715,439" stroke="#c23e0d" stroke-width="1.5" stroke-opacity=".8"/>
<path d="M1864.7,377.3C1861,379 1849,384 1844,387C1838,391 1835,392 1833,397C1830,402 1832,409 1829,416C1826,423 1821,433 1814,439C1808,446 1799,451 1789,455C1780,458 1767,460 1756,460C1745,461 1731,457 1723,456C1716,455 1714,455 1712,455" stroke="#f6a182" stroke-width="1.2" stroke-opacity=".8"/>
<path d="M1713.6,447.9C1714,450 1716,458 1714,463C1711,468 1704,473 1698,476C1692,480 1683,480 1679,483C1674,486 1673,494 1672,496" stroke="#f05020" stroke-width="19.4"/>
<path d="M1707.8,447.9C1708,450 1709,456 1707,460C1705,464 1701,469 1696,472C1690,475 1679,474 1675,478C1670,481 1668,491 1667,494" stroke="#d43c0e" stroke-width="3.9"/>
<path d="M1716.9,447.9C1717,451 1719,459 1716,464C1713,470 1706,476 1700,479C1694,483 1685,483 1681,486C1677,489 1676,496 1675,497" stroke="#f4815e" stroke-width="2.5"/>
<path d="M1712.1,447.9C1712,450 1715,458 1712,463C1710,467 1704,473 1698,476C1692,479 1682,478 1677,481C1672,484 1671,493 1670,495" stroke="#ae310c" stroke-width="1.4" stroke-opacity=".8"/>
<path d="M1719.4,447.9C1720,451 1723,461 1720,467C1717,472 1708,478 1701,482C1695,485 1686,485 1682,488C1679,491 1680,498 1679,500" stroke="#c1360d" stroke-width="1.5" stroke-opacity=".8"/>
<path d="M1706,447.9C1706,450 1709,456 1707,460C1705,463 1700,467 1694,470C1689,473 1679,473 1674,477C1669,481 1666,490 1665,492" stroke="#f69b80" stroke-width="1.2" stroke-opacity=".8"/>
<path d="M1667.5,493.9C1668,496 1670,505 1672,505C1674,505 1679,498 1681,496" stroke="#f06030" stroke-width="2.6"/>
<path d="M1608.8,426C1611,429 1618,438 1622,444C1626,449 1627,457 1631,461C1635,465 1643,465 1646,465" stroke="#f05828" stroke-width="15.8"/>
<path d="M1605.6,428.3C1608,431 1614,440 1618,446C1622,452 1623,461 1627,465C1632,469 1642,469 1645,469" stroke="#db400f" stroke-width="3.2"/>
<path d="M1611,424.3C1613,427 1620,437 1624,442C1627,448 1629,455 1633,459C1637,462 1645,462 1647,463" stroke="#f48866" stroke-width="2.1"/>
<path d="M1607.2,427.2C1610,430 1617,438 1621,444C1625,450 1626,458 1631,461C1635,465 1643,465 1646,466" stroke="#b5350d" stroke-width="1.2" stroke-opacity=".8"/>
<path d="M1613.2,422.7C1615,426 1623,435 1626,441C1630,447 1631,454 1634,457C1638,460 1645,460 1647,461" stroke="#c83b0e" stroke-width="1.3" stroke-opacity=".8"/>
<path d="M1665.8,498.3C1668,496 1673,487 1679,483C1685,479 1696,474 1700,472" stroke="#f05828" stroke-width="15.8"/>
<path d="M1669.3,501.3C1671,499 1677,491 1682,487C1688,483 1699,478 1702,476" stroke="#db400f" stroke-width="3.2"/>
<path d="M1664.5,497.2C1667,494 1671,485 1677,480C1683,476 1695,472 1699,470" stroke="#f48866" stroke-width="2.1"/>
<path d="M1665.8,498.3C1668,496 1674,488 1679,483C1685,479 1697,474 1700,472" stroke="#b5350d" stroke-width="1.2" stroke-opacity=".8"/>
<path d="M1661.6,494.7C1664,492 1670,484 1676,479C1682,474 1694,469 1697,467" stroke="#c83b0e" stroke-width="1.3" stroke-opacity=".8"/>
<path d="M1532,430.4C1531,435 1528,448 1528,457C1528,465 1529,477 1532,483C1535,489 1541,491 1547,494C1554,497 1563,497 1569,498C1576,500 1584,504 1587,505" stroke="#f01808" stroke-width="22.9"/>
<path d="M1525.6,429.3C1525,434 1521,447 1521,457C1521,466 1521,480 1525,487C1529,494 1538,497 1545,500C1552,503 1561,502 1568,504C1574,506 1582,510 1585,511" stroke="#c41407" stroke-width="4.6"/>
<path d="M1535,430.8C1534,435 1532,448 1532,457C1532,465 1532,476 1535,482C1537,487 1543,488 1549,491C1555,493 1564,494 1570,495C1577,497 1585,500 1588,501" stroke="#f94e42" stroke-width="3.0"/>
<path d="M1532.5,430.4C1532,435 1528,448 1528,457C1528,465 1528,477 1532,483C1535,490 1541,492 1547,495C1553,497 1563,496 1570,497C1576,499 1584,505 1586,506" stroke="#9c1005" stroke-width="1.6" stroke-opacity=".8"/>
<path d="M1540.7,431.8C1540,436 1537,449 1537,457C1536,465 1537,474 1539,479C1542,484 1545,486 1550,487C1555,489 1565,487 1572,489C1578,491 1586,497 1589,498" stroke="#b01206" stroke-width="1.8" stroke-opacity=".8"/>
<path d="M1522.5,428.8C1522,433 1517,447 1517,457C1517,466 1520,479 1524,487C1528,495 1536,501 1543,504C1550,508 1560,506 1567,508C1573,510 1580,514 1583,515" stroke="#fa6e64" stroke-width="1.4" stroke-opacity=".8"/>
<path d="M1571.5,408.4C1574,409 1582,411 1587,413C1592,415 1601,416 1602,422C1604,427 1599,436 1596,444C1593,451 1589,459 1585,465C1581,472 1574,480 1571,483" stroke="#e82010" stroke-width="21.1"/>
<path d="M1573.2,402.3C1576,403 1583,405 1589,408C1595,411 1605,414 1607,420C1609,426 1603,437 1601,446C1598,454 1595,462 1591,469C1587,476 1579,484 1577,487" stroke="#bd1a0d" stroke-width="4.2"/>
<path d="M1570.3,412.7C1573,413 1580,415 1585,417C1590,418 1597,418 1598,423C1599,427 1595,435 1592,442C1590,449 1587,458 1583,464C1579,471 1571,478 1568,481" stroke="#f25548" stroke-width="2.7"/>
<path d="M1571.6,408C1574,409 1581,411 1587,413C1592,415 1603,416 1605,421C1606,426 1599,436 1596,444C1593,451 1590,460 1586,466C1582,473 1575,481 1573,484" stroke="#97150a" stroke-width="1.5" stroke-opacity=".8"/>
<path d="M1569.2,416.5C1572,417 1580,419 1584,420C1588,421 1593,421 1593,424C1594,427 1590,434 1587,440C1585,446 1583,456 1579,462C1575,468 1567,475 1565,478" stroke="#aa170c" stroke-width="1.7" stroke-opacity=".8"/>
<path d="M1573.9,400C1577,401 1584,401 1591,404C1597,407 1609,412 1611,419C1613,426 1607,438 1604,447C1600,455 1597,463 1593,470C1589,477 1581,486 1579,489" stroke="#f57469" stroke-width="1.3" stroke-opacity=".8"/>
<path d="M1543,421.6C1544,425 1547,437 1547,444C1547,450 1544,458 1543,461" stroke="#f02818" stroke-width="7.0"/>
<path d="M1476.1,110.7C1475,114 1472,121 1470,128C1467,135 1463,144 1460,152C1456,160 1453,169 1449,176C1445,184 1439,195 1437,198" stroke="#3e1ae4" stroke-width="22.9"/>
<path d="M1482.5,113.1C1482,116 1480,124 1477,131C1474,138 1469,147 1466,155C1462,163 1459,172 1455,180C1451,187 1445,198 1442,202" stroke="#3315bb" stroke-width="4.6"/>
<path d="M1472.4,109.3C1471,112 1468,119 1465,126C1462,133 1460,143 1457,151C1454,159 1450,167 1445,175C1441,182 1434,192 1432,196" stroke="#7055ec" stroke-width="3.0"/>
<path d="M1476.2,110.8C1475,114 1474,122 1471,129C1469,136 1464,145 1460,152C1456,160 1452,168 1448,176C1444,184 1440,195 1438,199" stroke="#291196" stroke-width="1.6" stroke-opacity=".8"/>
<path d="M1467.1,107.3C1466,110 1466,119 1463,126C1460,132 1454,141 1450,148C1447,156 1445,165 1441,173C1438,180 1432,191 1430,195" stroke="#2e13a8" stroke-width="1.8" stroke-opacity=".8"/>
<path d="M1484.8,114C1484,117 1481,125 1479,132C1476,139 1472,148 1468,156C1464,164 1461,173 1457,181C1453,188 1447,199 1445,203" stroke="#8b75ef" stroke-width="1.4" stroke-opacity=".8"/>
<path d="M1444.3,134.8C1443,140 1441,153 1438,163C1434,173 1425,189 1422,194" stroke="#3412dc" stroke-width="15.8"/>
<path d="M1438.8,133.5C1438,138 1438,152 1434,162C1430,172 1420,187 1417,192" stroke="#2a0fb2" stroke-width="3.2"/>
<path d="M1446.4,135.3C1445,140 1444,154 1441,164C1437,174 1427,190 1424,195" stroke="#5e41ef" stroke-width="2.1"/>
<path d="M1443.7,134.7C1443,139 1441,153 1437,163C1433,173 1423,188 1421,193" stroke="#210b8c" stroke-width="1.2" stroke-opacity=".8"/>
<path d="M1450.7,136.3C1450,141 1448,156 1444,166C1440,176 1430,191 1427,197" stroke="#260d9f" stroke-width="1.3" stroke-opacity=".8"/>
<path d="M1503.5,163.3C1506,167 1512,178 1517,185C1521,193 1528,201 1532,207C1536,214 1541,222 1543,225" stroke="#12be86" stroke-width="15.8"/>
<path d="M1508.2,160.5C1510,164 1516,175 1521,183C1525,190 1531,198 1536,205C1540,211 1545,220 1546,223" stroke="#0e9468" stroke-width="3.2"/>
<path d="M1502,164.2C1504,168 1510,179 1515,187C1519,194 1526,201 1531,208C1535,215 1539,223 1540,226" stroke="#28ebab" stroke-width="2.1"/>
<path d="M1503,163.6C1506,167 1514,177 1518,184C1523,191 1528,201 1532,207C1536,214 1541,222 1543,225" stroke="#0a6f4e" stroke-width="1.2" stroke-opacity=".8"/>
<path d="M1499.1,166C1501,170 1508,181 1512,188C1517,196 1522,204 1526,211C1531,218 1535,225 1537,228" stroke="#0c815b" stroke-width="1.3" stroke-opacity=".8"/>
<path d="M1560.5,152.4C1562,156 1566,167 1567,174C1569,181 1569,191 1569,194" stroke="#10b078" stroke-width="12.3"/>
<path d="M1563.6,151.4C1565,155 1570,166 1571,173C1573,180 1573,190 1573,194" stroke="#0c865b" stroke-width="2.5"/>
<path d="M1558.8,152.9C1560,157 1563,168 1565,175C1566,182 1567,191 1567,194" stroke="#18eaa1" stroke-width="1.6"/>
<path d="M1560.3,152.4C1562,156 1567,167 1569,174C1570,181 1569,191 1569,194" stroke="#096142" stroke-width="1.2" stroke-opacity=".8"/>
<path d="M1556.6,153.5C1558,157 1561,168 1562,175C1564,182 1564,191 1564,195" stroke="#0a734f" stroke-width="1.2" stroke-opacity=".8"/>
<path d="M1448.7,277.4C1453,280 1464,289 1473,291C1482,292 1493,283 1504,284C1514,285 1524,296 1534,297C1544,298 1560,292 1565,291" stroke="#1ee8cc" stroke-width="15.8"/>
<path d="M1450.9,273.3C1455,276 1464,286 1473,287C1482,288 1494,278 1504,279C1514,280 1525,292 1535,293C1545,294 1559,287 1564,286" stroke="#14c4ac" stroke-width="3.2"/>
<path d="M1447.2,280.2C1451,282 1463,293 1472,294C1482,295 1493,286 1503,287C1513,288 1524,298 1534,299C1544,300 1560,294 1565,292" stroke="#5aeeda" stroke-width="2.1"/>
<path d="M1448.7,277.3C1453,279 1464,288 1473,289C1482,290 1493,282 1504,283C1514,284 1524,294 1534,295C1545,296 1560,290 1565,289" stroke="#109f8b" stroke-width="1.2" stroke-opacity=".8"/>
<path d="M1446.1,282C1450,284 1463,295 1472,296C1482,297 1493,289 1503,290C1513,291 1523,302 1534,303C1544,303 1561,296 1566,295" stroke="#12b29b" stroke-width="1.3" stroke-opacity=".8"/>
<path d="M1494.7,248.9C1497,250 1504,253 1508,253C1512,254 1517,251 1519,251" stroke="#b040ee" stroke-width="12.3"/>
<path d="M1495.8,245.6C1498,246 1504,250 1508,250C1512,250 1516,248 1518,247" stroke="#9f16ea" stroke-width="2.5"/>
<path d="M1494.2,250.5C1496,251 1504,255 1508,255C1512,255 1517,253 1519,252" stroke="#c97df3" stroke-width="1.6"/>
<path d="M1494.8,248.6C1497,249 1504,252 1508,252C1512,253 1517,251 1519,251" stroke="#8612c6" stroke-width="1.2" stroke-opacity=".8"/>
<path d="M1493.3,253C1496,254 1503,257 1507,258C1512,258 1518,256 1520,256" stroke="#9213d8" stroke-width="1.2" stroke-opacity=".8"/>
<path d="M1442.1,325.1C1444,327 1448,331 1453,334C1458,337 1466,341 1473,345C1479,348 1489,354 1493,356" stroke="#0a54e6" stroke-width="22.9"/>
<path d="M1446.7,319.4C1448,321 1452,325 1456,329C1461,332 1470,335 1476,338C1483,342 1493,348 1496,350" stroke="#0844ba" stroke-width="4.6"/>
<path d="M1440.2,327.5C1442,329 1445,334 1451,338C1456,341 1465,344 1471,348C1478,351 1487,358 1490,360" stroke="#3c7bf7" stroke-width="3.0"/>
<path d="M1442.4,324.8C1444,326 1449,329 1454,333C1459,336 1466,342 1472,345C1479,349 1490,353 1493,354" stroke="#063693" stroke-width="1.6" stroke-opacity=".8"/>
<path d="M1436.3,332.3C1438,334 1443,338 1448,341C1454,345 1462,349 1469,352C1476,356 1486,360 1489,362" stroke="#073da6" stroke-width="1.8" stroke-opacity=".8"/>
<path d="M1448.5,317.1C1450,318 1454,322 1459,325C1464,328 1471,332 1478,336C1484,340 1494,346 1497,348" stroke="#5e92f8" stroke-width="1.4" stroke-opacity=".8"/>
<path d="M1501.3,388.7C1500,392 1495,402 1493,408C1490,415 1487,423 1486,426" stroke="#0a48dc" stroke-width="21.1"/>
<path d="M1495.2,385.9C1494,389 1490,400 1488,406C1485,413 1481,421 1480,424" stroke="#083ab0" stroke-width="4.2"/>
<path d="M1505.5,390.6C1504,394 1499,404 1496,410C1493,416 1490,424 1489,427" stroke="#336cf6" stroke-width="2.7"/>
<path d="M1499.1,387.7C1498,391 1494,402 1492,408C1490,415 1487,423 1486,426" stroke="#062d89" stroke-width="1.5" stroke-opacity=".8"/>
<path d="M1509.5,392.3C1508,395 1502,405 1499,411C1496,417 1494,426 1493,428" stroke="#07339d" stroke-width="1.7" stroke-opacity=".8"/>
<path d="M1493.6,385.2C1492,389 1486,399 1484,405C1481,411 1478,420 1477,423" stroke="#5585f7" stroke-width="1.3" stroke-opacity=".8"/>
<path d="M1543,456.7C1545,460 1550,471 1554,476C1558,482 1567,486 1569,487" stroke="#f01c0c" stroke-width="17.6"/>
<path d="M1548.4,453.7C1550,457 1554,468 1558,473C1562,478 1570,481 1573,483" stroke="#c4170a" stroke-width="3.5"/>
<path d="M1540.1,458.3C1542,462 1547,473 1552,478C1556,484 1565,488 1568,489" stroke="#f65548" stroke-width="2.3"/>
<path d="M1542.6,456.9C1544,460 1549,472 1554,477C1558,482 1568,484 1571,485" stroke="#9d1208" stroke-width="1.2" stroke-opacity=".8"/>
<path d="M1537,460C1539,463 1544,475 1549,481C1554,486 1563,490 1566,492" stroke="#b11509" stroke-width="1.4" stroke-opacity=".8"/>
<path d="M1742.1,362.4C1746,365 1757,372 1764,378C1771,383 1780,392 1784,395" stroke="#e8b41c" stroke-width="22.9"/>
<path d="M1738.2,368C1742,371 1753,378 1760,383C1767,389 1776,398 1779,401" stroke="#c29614" stroke-width="4.6"/>
<path d="M1744.9,358.4C1749,361 1760,369 1767,374C1774,380 1784,389 1787,392" stroke="#eec858" stroke-width="3.0"/>
<path d="M1740.8,364.3C1745,367 1756,373 1763,378C1771,384 1780,392 1784,395" stroke="#9d7910" stroke-width="1.6" stroke-opacity=".8"/>
<path d="M1746.9,355.5C1751,358 1763,365 1770,370C1777,375 1787,385 1790,388" stroke="#b08812" stroke-width="1.8" stroke-opacity=".8"/>
<path d="M1735.7,371.6C1739,374 1751,381 1758,386C1764,391 1773,400 1777,403" stroke="#f1d379" stroke-width="1.4" stroke-opacity=".8"/>
<path d="M1742.1,393.1C1745,396 1754,408 1760,413C1765,418 1774,422 1777,424" stroke="#e0a818" stroke-width="17.6"/>
<path d="M1746,389.6C1749,393 1757,404 1763,409C1769,414 1777,418 1780,419" stroke="#b78914" stroke-width="3.5"/>
<path d="M1739.5,395.4C1743,399 1752,410 1758,415C1764,420 1773,424 1776,425" stroke="#ecc04e" stroke-width="2.3"/>
<path d="M1742.1,393.1C1745,396 1755,406 1761,411C1767,416 1774,422 1777,424" stroke="#926d10" stroke-width="1.2" stroke-opacity=".8"/>
<path d="M1736.9,397.7C1740,401 1749,413 1755,418C1761,424 1770,428 1773,430" stroke="#a47b12" stroke-width="1.4" stroke-opacity=".8"/>
<path d="M1847.4,393.1C1846,397 1840,408 1836,415C1832,422 1829,429 1823,435C1818,441 1807,448 1804,450" stroke="#f05a22" stroke-width="12.3"/>
<path d="M1843.7,391.2C1842,395 1838,407 1834,413C1830,420 1826,427 1821,432C1815,438 1805,445 1802,448" stroke="#d6450e" stroke-width="2.5"/>
<path d="M1848.7,393.7C1847,397 1842,409 1838,416C1833,423 1830,430 1824,436C1819,442 1808,449 1805,452" stroke="#f48860" stroke-width="1.6"/>
<path d="M1847.1,392.9C1845,397 1840,408 1836,415C1832,422 1828,428 1823,434C1817,440 1807,448 1804,450" stroke="#af380c" stroke-width="1.2" stroke-opacity=".8"/>
<path d="M1851,394.9C1849,399 1845,410 1841,417C1837,425 1832,432 1827,438C1821,444 1810,451 1807,454" stroke="#c23e0d" stroke-width="1.2" stroke-opacity=".8"/>
</g>
<g id="prot2" fill="none" stroke-linecap="round" stroke-linejoin="round" filter="url(#pblur)">
<path d="M1561.8,1093C1558,1095 1545,1099 1537,1104C1530,1108 1523,1114 1519,1121C1514,1127 1511,1135 1509,1143C1507,1150 1507,1158 1505,1165C1504,1173 1504,1183 1500,1190C1496,1197 1488,1200 1483,1207C1478,1213 1472,1223 1468,1229C1463,1236 1460,1240 1457,1246C1453,1252 1450,1262 1449,1265" stroke="#5a98f4" stroke-width="19.0"/>
<path d="M1564.3,1098.7C1560,1100 1547,1104 1540,1108C1533,1112 1528,1118 1523,1124C1519,1130 1516,1137 1514,1144C1512,1151 1512,1158 1510,1166C1509,1174 1508,1185 1504,1192C1500,1199 1492,1203 1487,1210C1482,1217 1477,1226 1473,1233C1469,1239 1465,1243 1462,1249C1459,1255 1456,1264 1455,1267" stroke="#2f7df1" stroke-width="3.8"/>
<path d="M1560.1,1089.2C1556,1091 1543,1097 1536,1102C1529,1107 1521,1112 1516,1119C1511,1125 1508,1134 1506,1142C1504,1149 1504,1157 1503,1165C1501,1172 1500,1181 1496,1188C1493,1195 1485,1198 1480,1205C1475,1211 1471,1221 1466,1228C1462,1235 1458,1239 1454,1245C1451,1251 1448,1261 1446,1264" stroke="#98bff8" stroke-width="2.5"/>
<path d="M1562.6,1094.8C1559,1097 1546,1101 1539,1106C1531,1110 1524,1115 1519,1121C1514,1127 1512,1135 1509,1143C1507,1150 1506,1157 1505,1165C1503,1173 1503,1182 1499,1189C1496,1197 1490,1201 1485,1208C1480,1215 1474,1224 1469,1230C1465,1237 1461,1241 1458,1247C1455,1253 1452,1263 1451,1266" stroke="#0f67e8" stroke-width="1.3" stroke-opacity=".8"/>
<path d="M1559.1,1086.8C1555,1088 1541,1092 1533,1097C1525,1102 1517,1109 1512,1116C1507,1123 1504,1132 1501,1140C1499,1148 1500,1156 1498,1164C1497,1172 1498,1180 1494,1187C1491,1193 1483,1196 1478,1203C1472,1209 1466,1218 1462,1225C1457,1232 1454,1237 1450,1243C1447,1249 1444,1259 1443,1263" stroke="#1c71f0" stroke-width="1.5" stroke-opacity=".8"/>
<path d="M1564.9,1099.9C1561,1102 1548,1107 1542,1111C1535,1115 1530,1120 1526,1126C1522,1132 1520,1138 1518,1145C1515,1152 1515,1159 1513,1167C1511,1175 1511,1186 1507,1194C1503,1201 1494,1205 1489,1211C1483,1218 1479,1228 1475,1234C1471,1241 1467,1244 1464,1250C1461,1256 1458,1265 1457,1268" stroke="#bad4fa" stroke-width="1.2" stroke-opacity=".8"/>
<path d="M1546.8,1108.9C1543,1112 1531,1121 1526,1128C1521,1135 1520,1143 1519,1150C1517,1158 1515,1169 1515,1173" stroke="#6aa4f6" stroke-width="10.0"/>
<path d="M1548.9,1111.3C1546,1114 1533,1123 1528,1129C1524,1136 1523,1144 1521,1151C1520,1158 1518,1170 1518,1173" stroke="#3f8af3" stroke-width="2.0"/>
<path d="M1545.6,1107.6C1542,1111 1529,1120 1525,1127C1520,1134 1520,1142 1517,1150C1515,1158 1513,1169 1513,1172" stroke="#a9cafa" stroke-width="1.3"/>
<path d="M1516.7,1195.4C1514,1199 1504,1211 1500,1218C1495,1225 1491,1231 1490,1237C1489,1243 1495,1249 1494,1256C1494,1262 1490,1269 1487,1274C1483,1280 1480,1286 1475,1289C1471,1293 1463,1293 1460,1293" stroke="#5c90f0" stroke-width="8.0"/>
<path d="M1452.8,1287.5L1467.8,1294.1" stroke="#70a8f0" stroke-width="8.0"/>
<path d="M1445.3,1261.2C1448,1260 1457,1260 1460,1256C1463,1251 1462,1240 1462,1237" stroke="#5a44e2" stroke-width="10.0"/>
<path d="M1446.1,1263.6C1449,1263 1460,1262 1463,1257C1466,1253 1464,1240 1465,1237" stroke="#3b21d7" stroke-width="2.0"/>
<path d="M1444.8,1260.1C1447,1259 1456,1258 1459,1254C1461,1251 1460,1240 1460,1237" stroke="#8d7deb" stroke-width="1.3"/>
<path d="M1599.4,1108.9C1601,1112 1606,1121 1607,1128C1608,1135 1605,1143 1603,1150C1601,1157 1598,1162 1594,1169C1590,1176 1585,1185 1581,1192C1577,1198 1571,1204 1569,1207" stroke="#50c0f0" stroke-width="9.0"/>
<path d="M1602.3,1107.8C1603,1111 1609,1120 1609,1128C1610,1135 1608,1144 1606,1151C1604,1158 1600,1163 1596,1170C1592,1177 1587,1187 1583,1193C1579,1200 1574,1206 1572,1208" stroke="#26b1ec" stroke-width="1.8"/>
<path d="M1598.2,1109.4C1599,1112 1605,1121 1606,1128C1606,1135 1604,1143 1602,1150C1600,1157 1596,1162 1592,1168C1589,1175 1583,1184 1579,1191C1575,1197 1570,1203 1568,1206" stroke="#8dd6f5" stroke-width="1.2"/>
<path d="M1590,1135.3C1589,1140 1587,1153 1584,1162C1582,1170 1575,1180 1573,1184" stroke="#58c8f4" stroke-width="7.0"/>
<path d="M1565.6,1266.8C1563,1269 1555,1276 1551,1280C1546,1284 1541,1288 1539,1289" stroke="#40c8f0" stroke-width="7.0"/>
<path d="M1509.2,1344.5C1512,1344 1520,1342 1524,1343C1529,1344 1534,1346 1537,1350C1541,1354 1541,1361 1543,1365C1545,1369 1546,1373 1547,1375" stroke="#e0e870" stroke-width="12.0"/>
<path d="M1508.8,1341.2C1512,1341 1520,1338 1525,1339C1530,1340 1537,1343 1540,1348C1544,1352 1545,1359 1547,1364C1549,1368 1550,1372 1551,1373" stroke="#d7e248" stroke-width="2.4"/>
<path d="M1509.4,1346.5C1512,1346 1519,1343 1524,1344C1528,1345 1533,1347 1536,1351C1539,1355 1539,1362 1541,1366C1542,1370 1545,1374 1545,1375" stroke="#ecf1a9" stroke-width="1.6"/>
<path d="M1509.1,1343.5C1512,1343 1520,1342 1524,1343C1529,1344 1534,1347 1537,1350C1540,1354 1542,1361 1544,1365C1545,1369 1547,1373 1548,1374" stroke="#d0dc25" stroke-width="1.2" stroke-opacity=".8"/>
<path d="M1509.7,1349.3C1512,1349 1519,1348 1523,1348C1527,1349 1532,1349 1534,1353C1537,1356 1537,1363 1538,1367C1540,1371 1542,1375 1543,1376" stroke="#d4df37" stroke-width="1.2" stroke-opacity=".8"/>
<path d="M1552.4,1368.9C1555,1371 1561,1376 1566,1378C1570,1380 1575,1380 1577,1380" stroke="#e8e060" stroke-width="8.0"/>
<path d="M1501.7,1083.6C1497,1085 1483,1088 1475,1094C1467,1100 1458,1111 1453,1120C1447,1130 1444,1141 1442,1150C1441,1160 1443,1169 1445,1177C1448,1184 1455,1192 1457,1195" stroke="#6a1ce6" stroke-width="22.0"/>
<path d="M1504.6,1090.9C1500,1092 1487,1094 1479,1100C1472,1105 1463,1115 1458,1123C1453,1132 1450,1143 1449,1151C1448,1160 1450,1168 1452,1174C1454,1181 1460,1189 1462,1192" stroke="#5715bf" stroke-width="4.4"/>
<path d="M1500.4,1080.5C1496,1082 1482,1086 1474,1092C1465,1098 1457,1109 1451,1119C1445,1129 1439,1140 1438,1150C1436,1159 1439,1170 1442,1178C1445,1185 1452,1194 1454,1197" stroke="#9158ed" stroke-width="2.9"/>
<path d="M1502.5,1085.6C1498,1087 1485,1090 1477,1096C1468,1102 1458,1111 1452,1120C1447,1129 1446,1141 1445,1151C1444,1160 1445,1169 1447,1176C1450,1183 1457,1191 1459,1194" stroke="#46119a" stroke-width="1.5" stroke-opacity=".8"/>
<path d="M1498.6,1076.1C1494,1078 1480,1082 1471,1088C1462,1095 1452,1106 1446,1116C1440,1126 1435,1139 1434,1149C1432,1160 1434,1171 1436,1179C1439,1188 1447,1197 1449,1200" stroke="#4e13ad" stroke-width="1.8" stroke-opacity=".8"/>
<path d="M1505.7,1093.5C1502,1095 1489,1097 1481,1102C1474,1107 1465,1116 1460,1125C1456,1133 1454,1144 1453,1152C1452,1160 1453,1167 1455,1174C1457,1180 1463,1188 1465,1190" stroke="#a678f0" stroke-width="1.3" stroke-opacity=".8"/>
<path d="M1512,1086.4C1512,1090 1517,1102 1515,1109C1513,1116 1506,1121 1502,1128C1498,1135 1493,1143 1490,1150C1488,1158 1489,1166 1487,1173C1484,1180 1477,1189 1475,1192" stroke="#7424ea" stroke-width="15.0"/>
<path d="M1508.3,1086.8C1509,1090 1512,1101 1510,1108C1508,1114 1502,1119 1498,1126C1494,1132 1489,1141 1487,1149C1484,1157 1484,1164 1482,1171C1479,1178 1474,1187 1472,1190" stroke="#5e14cc" stroke-width="3.0"/>
<path d="M1513.6,1086.2C1514,1090 1518,1102 1516,1109C1515,1116 1507,1122 1504,1129C1500,1136 1496,1144 1493,1151C1491,1159 1491,1166 1488,1173C1486,1180 1479,1190 1478,1193" stroke="#9a60f0" stroke-width="2.0"/>
<path d="M1512.5,1086.3C1513,1090 1517,1102 1515,1109C1513,1116 1506,1121 1502,1128C1497,1134 1491,1142 1489,1150C1486,1157 1488,1165 1485,1172C1483,1179 1477,1188 1475,1192" stroke="#4d10a7" stroke-width="1.2" stroke-opacity=".8"/>
<path d="M1516.9,1085.8C1518,1090 1523,1103 1521,1110C1519,1118 1510,1123 1506,1130C1502,1137 1498,1145 1496,1152C1493,1159 1494,1168 1492,1175C1489,1182 1482,1191 1480,1195" stroke="#5612ba" stroke-width="1.2" stroke-opacity=".8"/>
<path d="M1499.8,1118.3C1496,1121 1485,1127 1479,1132C1473,1136 1467,1144 1464,1147" stroke="#7a2cf0" stroke-width="11.0"/>
<path d="M1498.3,1116C1495,1118 1483,1124 1477,1129C1471,1134 1464,1141 1461,1144" stroke="#6210de" stroke-width="2.2"/>
<path d="M1500.5,1119.5C1497,1122 1486,1129 1481,1133C1475,1138 1468,1145 1465,1148" stroke="#a16af4" stroke-width="1.4"/>
<path d="M1499.3,1117.6C1496,1120 1485,1127 1479,1132C1473,1136 1466,1143 1463,1146" stroke="#510db8" stroke-width="1.2" stroke-opacity=".8"/>
<path d="M1501.6,1121.3C1498,1123 1487,1130 1482,1135C1476,1139 1470,1147 1467,1150" stroke="#5a0ecb" stroke-width="1.2" stroke-opacity=".8"/>
<path d="M1496,1081.7C1498,1081 1506,1078 1509,1079C1512,1080 1513,1085 1514,1086" stroke="#8030f0" stroke-width="6.0"/>
<path d="M1417.1,1208.6C1420,1208 1428,1204 1434,1204C1440,1204 1447,1209 1453,1210C1459,1212 1468,1214 1472,1215" stroke="#5a10e0" stroke-width="30.0"/>
<path d="M1419.2,1216.2C1422,1215 1428,1212 1434,1212C1439,1212 1445,1216 1451,1218C1456,1220 1466,1224 1469,1225" stroke="#490db5" stroke-width="6.0"/>
<path d="M1415.8,1204C1419,1203 1428,1199 1434,1200C1441,1200 1447,1205 1454,1207C1460,1209 1469,1211 1472,1212" stroke="#8041f1" stroke-width="3.9"/>
<path d="M1417,1208.4C1420,1208 1428,1204 1434,1205C1440,1206 1446,1212 1452,1214C1458,1216 1468,1217 1471,1218" stroke="#390a8f" stroke-width="2.1" stroke-opacity=".8"/>
<path d="M1414,1197.4C1417,1197 1427,1193 1435,1193C1442,1194 1450,1197 1456,1199C1463,1200 1472,1202 1475,1203" stroke="#410ca2" stroke-width="2.4" stroke-opacity=".8"/>
<path d="M1420.2,1220C1422,1219 1428,1216 1433,1217C1438,1217 1443,1220 1449,1222C1455,1224 1465,1227 1468,1228" stroke="#9662f4" stroke-width="1.8" stroke-opacity=".8"/>
<path d="M1424.6,1195.4C1427,1196 1436,1196 1442,1198C1447,1200 1457,1205 1460,1207" stroke="#6014e2" stroke-width="14.0"/>
<path d="M1425.4,1190.8C1428,1191 1437,1192 1443,1194C1449,1196 1459,1202 1462,1204" stroke="#4e10b8" stroke-width="2.8"/>
<path d="M1424.4,1196.8C1427,1197 1435,1198 1441,1200C1447,1202 1456,1208 1459,1209" stroke="#8649ef" stroke-width="1.8"/>
<path d="M1424.9,1193.8C1428,1194 1436,1196 1442,1198C1448,1199 1458,1204 1461,1205" stroke="#3e0d92" stroke-width="1.2" stroke-opacity=".8"/>
<path d="M1423.7,1200.8C1426,1201 1434,1201 1440,1202C1446,1204 1455,1210 1458,1212" stroke="#460fa5" stroke-width="1.2" stroke-opacity=".8"/>
<path d="M1389.8,1249C1393,1250 1404,1254 1411,1254C1419,1254 1430,1249 1434,1248" stroke="#6a14e4" stroke-width="32.0"/>
<path d="M1392.2,1238.7C1395,1240 1405,1244 1411,1244C1418,1244 1428,1239 1431,1238" stroke="#5610ba" stroke-width="6.4"/>
<path d="M1388.3,1255.5C1392,1256 1404,1260 1411,1259C1419,1259 1431,1254 1435,1253" stroke="#8f4bef" stroke-width="4.2"/>
<path d="M1390.1,1247.7C1394,1248 1404,1251 1411,1251C1419,1251 1430,1248 1434,1248" stroke="#450d94" stroke-width="2.2" stroke-opacity=".8"/>
<path d="M1386.8,1261.8C1391,1262 1403,1264 1412,1264C1420,1263 1432,1260 1437,1259" stroke="#4e0fa7" stroke-width="2.6" stroke-opacity=".8"/>
<path d="M1393,1235.3C1396,1236 1405,1241 1411,1241C1418,1241 1427,1236 1431,1235" stroke="#a36cf2" stroke-width="1.9" stroke-opacity=".8"/>
<path d="M1385.1,1238.6L1402,1244.3" stroke="#7018e6" stroke-width="12.0"/>
<path d="M1386.4,1234.9L1403.4,1240.3" stroke="#5c14bc" stroke-width="2.4"/>
<path d="M1384.3,1241L1401.5,1245.8" stroke="#9553ed" stroke-width="1.6"/>
<path d="M1385.6,1237.1L1402.3,1243.3" stroke="#4a1097" stroke-width="1.2" stroke-opacity=".8"/>
<path d="M1383.9,1242.2L1400.7,1248.4" stroke="#5312aa" stroke-width="1.2" stroke-opacity=".8"/>
<path d="M1411.4,1274.4C1412,1277 1415,1285 1415,1289C1416,1294 1414,1298 1414,1300" stroke="#8a20f0" stroke-width="22.0"/>
<path d="M1404,1276.2C1405,1279 1409,1286 1410,1290C1410,1294 1408,1298 1408,1299" stroke="#730ed4" stroke-width="4.4"/>
<path d="M1415.1,1273.4C1416,1276 1419,1284 1420,1289C1420,1293 1418,1298 1418,1300" stroke="#ab5ef4" stroke-width="2.9"/>
<path d="M1411.4,1274.4C1412,1277 1415,1285 1415,1289C1415,1294 1413,1298 1413,1300" stroke="#5e0cae" stroke-width="1.5" stroke-opacity=".8"/>
<path d="M1418.1,1272.7C1419,1275 1421,1284 1422,1289C1423,1293 1422,1299 1422,1301" stroke="#690dc1" stroke-width="1.8" stroke-opacity=".8"/>
<path d="M1402.5,1276.6C1403,1279 1405,1287 1405,1290C1406,1294 1405,1298 1405,1299" stroke="#bc80f6" stroke-width="1.3" stroke-opacity=".8"/>
<path d="M1413.3,1290C1413,1293 1413,1303 1414,1309C1414,1315 1416,1321 1417,1328C1419,1334 1421,1340 1423,1346C1426,1353 1431,1362 1432,1365" stroke="#7a1cf0" stroke-width="28.0"/>
<path d="M1420.9,1289.8C1421,1293 1421,1302 1422,1308C1423,1314 1424,1320 1426,1326C1427,1331 1429,1337 1432,1343C1434,1349 1439,1358 1441,1361" stroke="#640ed0" stroke-width="5.6"/>
<path d="M1410,1290.1C1410,1293 1408,1303 1409,1309C1410,1316 1412,1322 1414,1329C1415,1335 1417,1341 1420,1348C1422,1354 1427,1364 1429,1367" stroke="#9e5af4" stroke-width="3.6"/>
<path d="M1413.8,1290C1414,1293 1415,1302 1417,1308C1418,1315 1419,1321 1421,1327C1422,1333 1422,1340 1424,1346C1425,1353 1431,1362 1432,1365" stroke="#520baa" stroke-width="2.0" stroke-opacity=".8"/>
<path d="M1403.2,1290.2C1403,1293 1402,1303 1403,1310C1404,1317 1406,1323 1408,1330C1410,1337 1411,1343 1414,1350C1416,1357 1421,1367 1422,1370" stroke="#5b0dbd" stroke-width="2.2" stroke-opacity=".8"/>
<path d="M1425.8,1289.8C1426,1293 1426,1302 1427,1307C1427,1313 1428,1319 1429,1325C1430,1331 1431,1337 1433,1342C1436,1348 1443,1356 1444,1359" stroke="#b27cf6" stroke-width="1.7" stroke-opacity=".8"/>
<path d="M1432.5,1365.2C1435,1368 1441,1376 1445,1381C1450,1385 1455,1388 1460,1392C1465,1395 1470,1398 1475,1401C1480,1404 1488,1409 1490,1410" stroke="#9428f0" stroke-width="22.0"/>
<path d="M1426.9,1369.8C1429,1372 1437,1380 1441,1385C1446,1389 1451,1393 1456,1397C1461,1401 1466,1404 1471,1408C1477,1411 1485,1414 1487,1415" stroke="#7d0fdb" stroke-width="4.4"/>
<path d="M1436,1362.3C1438,1365 1443,1374 1447,1379C1452,1383 1458,1384 1463,1388C1468,1391 1472,1396 1477,1399C1482,1402 1490,1406 1492,1407" stroke="#b366f4" stroke-width="2.9"/>
<path d="M1431.4,1366.1C1434,1369 1441,1376 1445,1381C1450,1385 1454,1390 1459,1393C1464,1397 1469,1400 1474,1403C1479,1406 1487,1410 1490,1411" stroke="#670db5" stroke-width="1.5" stroke-opacity=".8"/>
<path d="M1438.2,1360.4C1440,1363 1446,1371 1450,1375C1455,1379 1460,1382 1465,1385C1470,1388 1475,1391 1480,1394C1485,1397 1492,1402 1494,1404" stroke="#720ec8" stroke-width="1.8" stroke-opacity=".8"/>
<path d="M1425.2,1371.3C1427,1374 1433,1383 1438,1388C1443,1393 1450,1395 1455,1399C1461,1402 1465,1406 1471,1409C1476,1412 1483,1417 1485,1419" stroke="#c387f7" stroke-width="1.3" stroke-opacity=".8"/>
<path d="M1460.3,1421.6C1462,1420 1467,1414 1472,1413C1477,1412 1485,1412 1490,1414C1496,1417 1501,1422 1504,1427C1506,1432 1507,1439 1505,1444C1504,1449 1499,1453 1494,1455C1489,1458 1481,1460 1475,1459C1470,1458 1465,1452 1462,1448C1459,1444 1457,1437 1457,1433C1457,1428 1460,1423 1460,1422" stroke="#a838f0" stroke-width="18.0"/>
<path d="M1463.8,1426.2C1465,1425 1469,1420 1473,1419C1477,1417 1484,1418 1488,1420C1492,1421 1497,1426 1499,1429C1501,1433 1501,1439 1500,1442C1499,1446 1496,1449 1492,1451C1488,1453 1481,1454 1477,1453C1472,1452 1469,1448 1466,1445C1464,1441 1463,1436 1463,1432C1463,1429 1465,1425 1466,1423" stroke="#9412e9" stroke-width="3.6"/>
<path d="M1458.2,1418.8C1460,1417 1465,1411 1471,1410C1476,1409 1486,1408 1492,1411C1498,1414 1503,1420 1506,1426C1509,1432 1511,1440 1509,1445C1507,1451 1501,1455 1495,1458C1490,1461 1480,1464 1475,1462C1469,1461 1464,1454 1460,1449C1457,1444 1454,1438 1453,1433C1453,1428 1457,1423 1458,1421" stroke="#c376f5" stroke-width="2.3"/>
<path d="M1461.3,1422.9C1463,1421 1467,1415 1472,1413C1476,1412 1485,1412 1490,1414C1496,1417 1501,1423 1503,1427C1505,1432 1506,1439 1504,1444C1503,1448 1499,1453 1494,1455C1489,1458 1480,1461 1475,1460C1470,1459 1465,1452 1463,1447C1460,1443 1459,1437 1459,1433C1458,1428 1460,1423 1460,1422" stroke="#7c0fc3" stroke-width="1.3" stroke-opacity=".8"/>
<path d="M1457,1417.1C1459,1415 1464,1408 1470,1407C1476,1405 1487,1405 1493,1408C1500,1410 1507,1417 1510,1424C1513,1430 1514,1440 1512,1446C1510,1453 1504,1458 1497,1461C1491,1465 1481,1468 1474,1466C1467,1465 1460,1458 1456,1452C1452,1447 1451,1439 1450,1433C1450,1428 1453,1422 1453,1419" stroke="#8810d6" stroke-width="1.4" stroke-opacity=".8"/>
<path d="M1465,1427.8C1466,1427 1470,1422 1473,1421C1477,1420 1483,1420 1487,1422C1491,1424 1494,1428 1496,1431C1498,1434 1499,1439 1498,1442C1497,1445 1494,1447 1491,1449C1487,1450 1481,1452 1477,1451C1473,1450 1470,1447 1468,1444C1466,1441 1464,1436 1464,1432C1464,1429 1467,1425 1467,1424" stroke="#d197f7" stroke-width="1.2" stroke-opacity=".8"/>
<path d="M1475.3,1432.9L1486.6,1438.5" stroke="#c060f4" stroke-width="22.0"/>
<path d="M1472.2,1439.1L1483.9,1444" stroke="#af35f1" stroke-width="4.4"/>
<path d="M1477,1429.5L1487.9,1435.9" stroke="#d99ef8" stroke-width="2.9"/>
<path d="M1475.3,1432.9L1485.6,1440.6" stroke="#9f10ed" stroke-width="1.5" stroke-opacity=".8"/>
<path d="M1479.1,1425.3L1490.9,1430" stroke="#a722f0" stroke-width="1.8" stroke-opacity=".8"/>
<path d="M1471.2,1441.2L1482.2,1447.3" stroke="#e6bffb" stroke-width="1.3" stroke-opacity=".8"/>
<path d="M1471.6,1459.2C1473,1460 1475,1465 1477,1466C1480,1466 1485,1463 1487,1462" stroke="#9830e8" stroke-width="8.0"/>
<path d="M1499.8,1406.5C1502,1405 1508,1401 1513,1399C1518,1398 1525,1398 1528,1397" stroke="#c850f4" stroke-width="8.0"/>
<path d="M1509.2,1410.3L1520.5,1418.2" stroke="#c850f4" stroke-width="6.0"/>
<path d="M1544.9,1406.5L1550.5,1416.3" stroke="#c850f4" stroke-width="4.0"/>
<path d="M1601.3,1053.5C1598,1056 1589,1062 1584,1068C1580,1074 1579,1083 1575,1090C1571,1097 1567,1103 1562,1109C1556,1115 1550,1118 1543,1124C1536,1130 1524,1140 1520,1143" stroke="#12c48c" stroke-width="18.0"/>
<path d="M1604.5,1057.2C1602,1060 1593,1065 1589,1071C1585,1077 1584,1086 1580,1093C1576,1100 1572,1107 1566,1113C1561,1119 1554,1123 1547,1129C1540,1135 1528,1144 1524,1147" stroke="#0e9a6e" stroke-width="3.6"/>
<path d="M1600,1052C1597,1054 1587,1060 1582,1066C1577,1072 1575,1082 1572,1088C1568,1095 1566,1102 1560,1108C1555,1113 1548,1116 1541,1121C1534,1127 1522,1137 1519,1141" stroke="#2decb0" stroke-width="2.3"/>
<path d="M1602.2,1054.5C1600,1057 1591,1063 1586,1069C1582,1075 1580,1084 1576,1091C1572,1097 1568,1104 1563,1110C1558,1116 1551,1120 1544,1126C1537,1131 1525,1140 1521,1143" stroke="#0b7553" stroke-width="1.3" stroke-opacity=".8"/>
<path d="M1596.3,1047.7C1593,1050 1583,1057 1578,1063C1573,1070 1571,1079 1568,1086C1565,1093 1563,1100 1558,1105C1553,1110 1546,1113 1539,1119C1532,1124 1520,1135 1517,1138" stroke="#0c8761" stroke-width="1.4" stroke-opacity=".8"/>
<path d="M1606.5,1059.6C1604,1062 1595,1067 1591,1073C1587,1079 1586,1087 1582,1094C1578,1101 1574,1109 1568,1115C1562,1121 1555,1124 1547,1129C1540,1135 1529,1146 1526,1149" stroke="#4defbc" stroke-width="1.2" stroke-opacity=".8"/>
<path d="M1618.2,1062.9C1616,1066 1608,1072 1603,1079C1599,1085 1596,1095 1592,1101C1587,1108 1582,1113 1577,1118C1571,1123 1561,1129 1558,1132" stroke="#18d8a0" stroke-width="18.0"/>
<path d="M1613.9,1058.8C1611,1062 1603,1069 1598,1075C1594,1082 1591,1092 1587,1098C1583,1105 1579,1110 1574,1115C1568,1119 1558,1125 1555,1127" stroke="#13af81" stroke-width="3.6"/>
<path d="M1619.9,1064.5C1618,1067 1610,1074 1606,1081C1602,1087 1600,1097 1595,1104C1591,1110 1585,1115 1579,1121C1573,1126 1563,1132 1560,1134" stroke="#48ebbb" stroke-width="2.3"/>
<path d="M1618.3,1063C1616,1066 1607,1072 1603,1079C1598,1085 1597,1095 1592,1102C1588,1108 1581,1112 1575,1117C1570,1122 1561,1129 1558,1131" stroke="#0f8a66" stroke-width="1.3" stroke-opacity=".8"/>
<path d="M1622.3,1066.8C1620,1069 1612,1076 1608,1082C1604,1089 1603,1099 1598,1106C1594,1113 1587,1117 1581,1123C1574,1128 1565,1134 1561,1136" stroke="#119c74" stroke-width="1.4" stroke-opacity=".8"/>
<path d="M1612.4,1057.4C1610,1060 1601,1067 1596,1074C1592,1081 1589,1091 1585,1097C1581,1104 1577,1108 1572,1113C1567,1118 1557,1123 1554,1126" stroke="#68eec7" stroke-width="1.2" stroke-opacity=".8"/>
<path d="M1590,1063.8C1588,1067 1582,1076 1577,1083C1572,1089 1564,1098 1562,1101" stroke="#10b880" stroke-width="10.0"/>
<path d="M1588,1062.4C1586,1066 1580,1075 1575,1081C1570,1087 1562,1096 1559,1100" stroke="#0c8e63" stroke-width="2.0"/>
<path d="M1591.3,1064.7C1589,1068 1583,1078 1578,1084C1574,1090 1566,1099 1563,1102" stroke="#1feca7" stroke-width="1.3"/>
<path d="M1518.6,1146.9C1522,1145 1530,1138 1537,1136C1545,1133 1554,1132 1562,1132C1570,1132 1580,1133 1584,1136C1589,1139 1591,1146 1588,1150C1586,1155 1577,1160 1569,1162C1562,1164 1551,1163 1543,1162C1535,1161 1525,1160 1520,1158C1516,1155 1519,1149 1519,1147" stroke="#14cc94" stroke-width="18.0"/>
<path d="M1521.9,1152.4C1525,1150 1532,1143 1539,1140C1546,1137 1555,1137 1562,1137C1569,1137 1577,1139 1581,1141C1584,1143 1585,1145 1583,1147C1581,1150 1574,1155 1568,1156C1561,1158 1551,1157 1543,1156C1536,1156 1526,1156 1523,1154C1520,1152 1524,1147 1525,1146" stroke="#10a276" stroke-width="3.6"/>
<path d="M1516.7,1143.8C1520,1142 1529,1135 1536,1132C1544,1130 1554,1129 1562,1130C1570,1130 1581,1130 1585,1134C1590,1138 1592,1146 1590,1151C1587,1156 1578,1162 1570,1164C1562,1166 1551,1166 1543,1165C1534,1164 1524,1162 1520,1159C1515,1156 1517,1149 1516,1147" stroke="#37ebb4" stroke-width="2.3"/>
<path d="M1519.3,1148.2C1522,1146 1531,1140 1538,1137C1545,1134 1554,1133 1562,1133C1570,1133 1580,1133 1584,1136C1589,1138 1589,1145 1587,1150C1584,1154 1577,1160 1569,1162C1562,1164 1551,1162 1543,1162C1535,1161 1524,1161 1520,1158C1516,1156 1518,1149 1518,1147" stroke="#0c7d5b" stroke-width="1.3" stroke-opacity=".8"/>
<path d="M1515.4,1141.6C1519,1140 1528,1133 1536,1130C1543,1128 1553,1125 1562,1125C1570,1126 1582,1126 1588,1131C1593,1136 1597,1148 1594,1154C1592,1160 1580,1166 1571,1169C1563,1172 1551,1171 1542,1170C1533,1169 1522,1166 1517,1163C1513,1159 1513,1150 1513,1148" stroke="#0e9068" stroke-width="1.4" stroke-opacity=".8"/>
<path d="M1522.2,1153C1525,1151 1533,1146 1540,1143C1547,1141 1555,1140 1562,1140C1568,1140 1576,1141 1580,1142C1583,1144 1583,1145 1581,1146C1579,1148 1574,1152 1567,1154C1561,1155 1551,1154 1544,1154C1537,1153 1528,1152 1525,1151C1522,1149 1526,1147 1526,1146" stroke="#57efc1" stroke-width="1.2" stroke-opacity=".8"/>
<path d="M1531.7,1148.4C1535,1148 1547,1145 1554,1145C1561,1145 1572,1148 1575,1148" stroke="#1cdca4" stroke-width="14.0"/>
<path d="M1532.3,1151.8C1536,1151 1547,1148 1554,1148C1561,1148 1571,1151 1574,1152" stroke="#17b386" stroke-width="2.8"/>
<path d="M1531.4,1146.3C1535,1146 1547,1142 1554,1142C1562,1142 1572,1146 1575,1146" stroke="#51e9bd" stroke-width="1.8"/>
<path d="M1531.8,1149.1C1536,1148 1547,1145 1554,1145C1561,1145 1572,1148 1575,1148" stroke="#128f6b" stroke-width="1.2" stroke-opacity=".8"/>
<path d="M1530.9,1143.5C1535,1143 1547,1140 1554,1140C1562,1140 1572,1143 1576,1144" stroke="#15a178" stroke-width="1.2" stroke-opacity=".8"/>
<path d="M1520.5,1180.4C1524,1179 1533,1174 1539,1173C1546,1172 1554,1172 1558,1173C1562,1174 1567,1177 1566,1180C1564,1183 1557,1190 1551,1192C1544,1194 1533,1194 1528,1192C1523,1190 1522,1182 1520,1180" stroke="#16d09c" stroke-width="15.0"/>
<path d="M1518.9,1176.3C1522,1175 1532,1169 1538,1168C1545,1167 1554,1166 1559,1169C1564,1171 1570,1177 1569,1182C1568,1186 1559,1194 1552,1196C1545,1199 1532,1199 1526,1197C1520,1194 1518,1185 1517,1183" stroke="#12a67d" stroke-width="3.0"/>
<path d="M1521.5,1183.2C1525,1182 1534,1176 1540,1175C1546,1173 1554,1174 1558,1175C1562,1176 1565,1177 1563,1179C1562,1182 1555,1187 1550,1189C1544,1190 1533,1191 1529,1190C1524,1188 1523,1181 1522,1179" stroke="#3eebba" stroke-width="2.0"/>
<path d="M1520.4,1180.4C1524,1179 1533,1173 1539,1171C1545,1170 1554,1170 1558,1172C1563,1173 1567,1177 1566,1181C1565,1184 1557,1190 1550,1191C1544,1193 1533,1193 1528,1191C1523,1190 1521,1183 1519,1181" stroke="#0e8261" stroke-width="1.2" stroke-opacity=".8"/>
<path d="M1522.2,1185.1C1525,1184 1534,1180 1540,1178C1546,1177 1553,1178 1557,1178C1560,1178 1562,1177 1561,1178C1560,1180 1554,1185 1549,1186C1544,1187 1534,1187 1530,1186C1526,1184 1526,1179 1525,1178" stroke="#10946f" stroke-width="1.2" stroke-opacity=".8"/>
<path d="M1509.2,1214.2C1512,1213 1519,1208 1524,1207C1529,1207 1537,1208 1539,1211C1541,1214 1539,1222 1535,1225C1532,1229 1525,1231 1520,1229C1516,1227 1511,1217 1509,1214" stroke="#20e0d0" stroke-width="12.0"/>
<path d="M1507.5,1210.7C1510,1209 1518,1204 1524,1203C1530,1203 1540,1205 1543,1209C1545,1213 1542,1224 1538,1228C1534,1232 1524,1234 1519,1232C1514,1231 1508,1219 1506,1217" stroke="#1ab8ab" stroke-width="2.4"/>
<path d="M1510.2,1216.3C1513,1215 1520,1209 1524,1208C1529,1208 1536,1209 1538,1212C1540,1214 1537,1222 1534,1224C1532,1227 1525,1230 1521,1228C1517,1226 1513,1215 1511,1213" stroke="#5ae8dc" stroke-width="1.6"/>
<path d="M1509.1,1214C1512,1213 1519,1208 1524,1207C1529,1207 1538,1207 1540,1210C1542,1214 1539,1222 1536,1226C1532,1229 1525,1232 1520,1230C1516,1228 1511,1217 1510,1214" stroke="#15958a" stroke-width="1.2" stroke-opacity=".8"/>
<path d="M1511,1218.1C1513,1217 1521,1213 1525,1212C1529,1211 1533,1212 1535,1214C1536,1215 1535,1221 1533,1223C1531,1225 1525,1227 1522,1225C1519,1224 1514,1214 1512,1212" stroke="#17a79b" stroke-width="1.2" stroke-opacity=".8"/>
<path d="M1509.2,1246.2C1511,1246 1517,1242 1519,1243C1520,1244 1520,1250 1520,1252" stroke="#20d8c8" stroke-width="8.0"/>
<path d="M1603.2,1083C1606,1084 1616,1087 1622,1087C1628,1087 1637,1084 1640,1083" stroke="#20e050" stroke-width="12.0"/>
<path d="M1603.8,1079.9C1607,1080 1616,1083 1622,1083C1628,1083 1636,1080 1639,1080" stroke="#1ab841" stroke-width="2.4"/>
<path d="M1602.8,1084.9C1606,1086 1616,1089 1622,1089C1628,1089 1637,1086 1640,1085" stroke="#5ae87e" stroke-width="1.6"/>
<path d="M1603.2,1082.6C1606,1083 1616,1086 1622,1086C1628,1086 1637,1083 1640,1082" stroke="#159535" stroke-width="1.2" stroke-opacity=".8"/>
<path d="M1602.2,1087.8C1605,1088 1615,1091 1622,1091C1628,1091 1638,1089 1641,1088" stroke="#17a73b" stroke-width="1.2" stroke-opacity=".8"/>
<path d="M1603.2,1101.8C1606,1102 1616,1103 1622,1104C1628,1104 1637,1105 1640,1106" stroke="#0a8a20" stroke-width="10.0"/>
<path d="M1602.8,1105.3C1606,1106 1615,1106 1622,1107C1628,1107 1637,1108 1640,1109" stroke="#075f16" stroke-width="2.0"/>
<path d="M1603.3,1100.1C1606,1100 1616,1101 1622,1102C1628,1102 1637,1104 1640,1104" stroke="#0ec82e" stroke-width="1.3"/>
<path d="M1584.4,1127.7C1587,1126 1597,1121 1603,1118C1609,1116 1616,1115 1622,1115C1628,1115 1637,1118 1640,1118" stroke="#18c840" stroke-width="8.0"/>
<path d="M1640,1099.9C1643,1099 1650,1096 1655,1096C1660,1096 1666,1097 1670,1098C1674,1100 1679,1104 1681,1105" stroke="#0a9028" stroke-width="14.0"/>
<path d="M1639,1095.8C1642,1095 1649,1093 1655,1093C1660,1093 1666,1093 1671,1095C1676,1096 1682,1100 1684,1101" stroke="#07651c" stroke-width="2.8"/>
<path d="M1640.4,1101.7C1643,1101 1650,1098 1655,1098C1660,1098 1665,1098 1670,1100C1674,1101 1678,1106 1680,1107" stroke="#0ece39" stroke-width="1.8"/>
<path d="M1640.1,1100.4C1643,1100 1650,1096 1655,1095C1660,1094 1666,1095 1671,1096C1675,1098 1680,1103 1682,1104" stroke="#043f11" stroke-width="1.2" stroke-opacity=".8"/>
<path d="M1641.2,1104.7C1644,1104 1651,1101 1655,1100C1660,1100 1664,1102 1668,1103C1672,1105 1677,1108 1679,1109" stroke="#065217" stroke-width="1.2" stroke-opacity=".8"/>
<path d="M1647.5,1116.8C1651,1116 1661,1114 1668,1113C1675,1112 1683,1110 1689,1111C1695,1112 1700,1115 1702,1118C1704,1122 1700,1129 1700,1132" stroke="#10f040" stroke-width="20.0"/>
<path d="M1646.5,1111.1C1650,1111 1660,1109 1667,1108C1675,1107 1683,1104 1690,1105C1696,1107 1704,1111 1707,1116C1710,1120 1707,1130 1707,1132" stroke="#0cc634" stroke-width="4.0"/>
<path d="M1648.1,1120.1C1652,1119 1662,1116 1668,1115C1675,1114 1683,1113 1688,1114C1694,1115 1698,1117 1700,1120C1701,1122 1698,1129 1698,1131" stroke="#4ef472" stroke-width="2.6"/>
<path d="M1647,1114.3C1651,1114 1661,1111 1668,1111C1675,1110 1683,1110 1689,1111C1695,1112 1700,1115 1702,1118C1704,1122 1701,1129 1701,1132" stroke="#0a9f2a" stroke-width="1.4" stroke-opacity=".8"/>
<path d="M1648.7,1123.2C1652,1123 1663,1121 1669,1120C1676,1120 1683,1119 1688,1119C1692,1119 1696,1119 1697,1121C1698,1123 1694,1129 1694,1131" stroke="#0bb22f" stroke-width="1.6" stroke-opacity=".8"/>
<path d="M1645.9,1107.8C1649,1107 1660,1105 1667,1104C1674,1103 1683,1101 1690,1102C1698,1104 1707,1109 1711,1114C1714,1119 1709,1130 1709,1133" stroke="#70f68d" stroke-width="1.2" stroke-opacity=".8"/>
<path d="M1651.3,1128.1C1652,1132 1655,1143 1657,1150C1659,1158 1660,1166 1663,1173C1665,1180 1670,1189 1672,1192" stroke="#10c838" stroke-width="20.0"/>
<path d="M1646.1,1129.4C1647,1133 1650,1144 1651,1152C1653,1159 1655,1168 1657,1175C1660,1182 1665,1191 1667,1194" stroke="#0d9d2c" stroke-width="4.0"/>
<path d="M1654.8,1127.2C1656,1131 1659,1142 1661,1149C1663,1157 1664,1165 1666,1172C1668,1178 1673,1187 1674,1190" stroke="#2cee56" stroke-width="2.6"/>
<path d="M1649.9,1128.5C1651,1132 1654,1143 1656,1151C1657,1158 1658,1167 1660,1174C1663,1181 1669,1189 1671,1192" stroke="#0a7822" stroke-width="1.4" stroke-opacity=".8"/>
<path d="M1659.5,1126C1660,1130 1663,1141 1664,1148C1666,1156 1667,1164 1669,1170C1672,1177 1677,1186 1678,1189" stroke="#0b8b27" stroke-width="1.6" stroke-opacity=".8"/>
<path d="M1642.7,1130.3C1644,1134 1647,1145 1649,1152C1651,1160 1652,1169 1654,1176C1657,1183 1662,1192 1664,1196" stroke="#4df171" stroke-width="1.2" stroke-opacity=".8"/>
<path d="M1677.6,1120.6C1677,1124 1677,1135 1676,1143C1674,1150 1672,1159 1670,1165C1669,1172 1667,1178 1666,1180" stroke="#18d840" stroke-width="16.0"/>
<path d="M1672,1120.1C1672,1124 1672,1135 1671,1142C1670,1149 1668,1158 1666,1164C1664,1170 1662,1177 1661,1179" stroke="#13af34" stroke-width="3.2"/>
<path d="M1681.1,1120.9C1681,1125 1680,1136 1678,1143C1677,1151 1673,1159 1672,1166C1670,1172 1669,1178 1668,1181" stroke="#48eb6a" stroke-width="2.1"/>
<path d="M1676.5,1120.5C1676,1124 1677,1135 1676,1143C1674,1150 1670,1159 1669,1165C1667,1171 1666,1178 1666,1180" stroke="#0f8a29" stroke-width="1.2" stroke-opacity=".8"/>
<path d="M1682.5,1121C1682,1125 1683,1136 1682,1144C1681,1152 1678,1161 1677,1167C1675,1173 1673,1179 1673,1182" stroke="#119c2e" stroke-width="1.3" stroke-opacity=".8"/>
<path d="M1694.5,1135.6C1694,1139 1693,1151 1691,1158C1689,1165 1683,1173 1681,1177" stroke="#10c030" stroke-width="14.0"/>
<path d="M1690.5,1135C1690,1139 1689,1150 1687,1157C1684,1163 1679,1171 1677,1174" stroke="#0c9625" stroke-width="2.8"/>
<path d="M1697,1136.1C1696,1140 1696,1152 1693,1159C1691,1166 1685,1174 1683,1177" stroke="#25ed4a" stroke-width="1.8"/>
<path d="M1693.5,1135.5C1693,1139 1692,1151 1690,1158C1688,1165 1683,1173 1681,1176" stroke="#09701c" stroke-width="1.2" stroke-opacity=".8"/>
<path d="M1700.4,1136.6C1700,1140 1698,1152 1696,1159C1693,1166 1687,1175 1685,1179" stroke="#0b8321" stroke-width="1.2" stroke-opacity=".8"/>
<path d="M1658.8,1188.3C1661,1190 1669,1195 1674,1200C1679,1204 1683,1209 1687,1215C1691,1220 1695,1228 1698,1233C1701,1238 1703,1242 1704,1244" stroke="#0aa028" stroke-width="26.0"/>
<path d="M1653.7,1195.1C1656,1197 1665,1200 1669,1204C1674,1208 1676,1214 1680,1220C1683,1225 1688,1233 1691,1238C1694,1242 1696,1246 1697,1248" stroke="#07751d" stroke-width="5.2"/>
<path d="M1661.7,1184.5C1664,1186 1672,1192 1677,1197C1681,1201 1686,1207 1690,1212C1694,1218 1700,1226 1703,1231C1706,1236 1708,1240 1708,1242" stroke="#0ede38" stroke-width="3.4"/>
<path d="M1657.7,1189.7C1660,1192 1668,1197 1672,1201C1677,1205 1681,1211 1685,1216C1689,1222 1694,1229 1697,1234C1699,1239 1700,1244 1701,1246" stroke="#054e14" stroke-width="1.8" stroke-opacity=".8"/>
<path d="M1663.7,1181.7C1666,1184 1675,1188 1680,1192C1686,1197 1691,1203 1695,1209C1699,1215 1704,1224 1706,1229C1709,1234 1710,1239 1711,1240" stroke="#066218" stroke-width="2.1" stroke-opacity=".8"/>
<path d="M1651.6,1197.8C1654,1200 1661,1205 1665,1209C1670,1213 1674,1216 1678,1221C1682,1226 1687,1234 1689,1239C1692,1243 1692,1248 1693,1250" stroke="#1ff149" stroke-width="1.6" stroke-opacity=".8"/>
<path d="M1683.2,1188.3C1685,1191 1692,1198 1695,1203C1697,1208 1699,1216 1700,1218" stroke="#20d040" stroke-width="8.0"/>
<path d="M1658.8,1248.4C1662,1250 1672,1253 1678,1256C1683,1259 1690,1267 1693,1269" stroke="#20e040" stroke-width="12.0"/>
<path d="M1657.6,1251.5C1661,1253 1670,1256 1676,1259C1681,1262 1688,1270 1690,1272" stroke="#1ab834" stroke-width="2.4"/>
<path d="M1659.5,1246.7C1663,1248 1673,1251 1678,1255C1684,1258 1691,1266 1694,1268" stroke="#5ae872" stroke-width="1.6"/>
<path d="M1658.2,1249.9C1661,1251 1672,1253 1678,1256C1683,1259 1690,1267 1692,1269" stroke="#15952a" stroke-width="1.2" stroke-opacity=".8"/>
<path d="M1660.7,1243.7C1664,1245 1674,1249 1680,1252C1686,1256 1693,1263 1696,1265" stroke="#17a72f" stroke-width="1.2" stroke-opacity=".8"/>
<path d="M1573.1,1162C1576,1161 1586,1158 1592,1158C1598,1158 1604,1162 1611,1162C1617,1162 1625,1158 1629,1158C1634,1158 1638,1161 1640,1162" stroke="#30e870" stroke-width="16.0"/>
<path d="M1574,1166.6C1577,1166 1586,1164 1592,1164C1598,1163 1604,1166 1611,1166C1617,1166 1625,1163 1630,1163C1634,1163 1637,1166 1639,1166" stroke="#17d359" stroke-width="3.2"/>
<path d="M1572.7,1160.1C1576,1159 1586,1155 1592,1155C1598,1155 1604,1158 1611,1159C1617,1159 1624,1156 1629,1156C1634,1156 1639,1158 1641,1159" stroke="#6cef99" stroke-width="2.1"/>
<path d="M1573.2,1162.6C1576,1162 1586,1158 1592,1159C1598,1159 1604,1164 1611,1164C1617,1164 1625,1160 1629,1159C1634,1159 1638,1163 1639,1163" stroke="#13ae49" stroke-width="1.2" stroke-opacity=".8"/>
<path d="M1572.1,1156.9C1575,1156 1585,1153 1592,1153C1598,1153 1604,1156 1611,1156C1617,1156 1624,1152 1629,1152C1635,1152 1640,1155 1642,1156" stroke="#15c051" stroke-width="1.3" stroke-opacity=".8"/>
<path d="M1580.6,1180.8C1584,1181 1596,1183 1603,1185C1611,1186 1620,1187 1626,1188C1632,1189 1638,1191 1640,1192" stroke="#28e068" stroke-width="16.0"/>
<path d="M1581.3,1176.7C1585,1177 1596,1178 1604,1180C1611,1181 1620,1183 1626,1184C1633,1186 1639,1187 1641,1187" stroke="#1bbf54" stroke-width="3.2"/>
<path d="M1580.3,1182.4C1584,1183 1595,1186 1603,1187C1610,1189 1619,1190 1625,1191C1631,1192 1637,1193 1640,1193" stroke="#62e891" stroke-width="2.1"/>
<path d="M1580.8,1179.6C1585,1180 1596,1183 1603,1184C1611,1185 1620,1186 1626,1188C1632,1189 1638,1190 1640,1191" stroke="#169b44" stroke-width="1.2" stroke-opacity=".8"/>
<path d="M1579.8,1185.7C1584,1186 1595,1188 1602,1190C1610,1191 1618,1194 1624,1195C1631,1196 1636,1197 1639,1197" stroke="#19ad4c" stroke-width="1.3" stroke-opacity=".8"/>
<path d="M1599.4,1169.1L1618.2,1174.7" stroke="#38ec78" stroke-width="8.0"/>
<path d="M1610.7,1222.1C1610,1226 1608,1239 1607,1246C1606,1254 1603,1261 1603,1267C1603,1273 1606,1278 1607,1284C1608,1289 1610,1297 1611,1300" stroke="#30d840" stroke-width="8.0"/>
<path d="M1603.2,1210.5C1606,1209 1613,1201 1618,1201C1624,1201 1633,1206 1635,1210C1638,1215 1636,1222 1633,1225C1630,1229 1621,1229 1618,1229" stroke="#3ca010" stroke-width="16.0"/>
<path d="M1605.6,1214.3C1608,1213 1614,1206 1618,1206C1623,1205 1630,1210 1632,1213C1634,1215 1632,1220 1629,1222C1627,1224 1619,1224 1617,1224" stroke="#2c760c" stroke-width="3.2"/>
<path d="M1601.5,1207.7C1604,1206 1612,1198 1618,1199C1624,1199 1634,1205 1637,1210C1639,1214 1638,1224 1635,1228C1633,1231 1621,1231 1619,1231" stroke="#53dc16" stroke-width="2.1"/>
<path d="M1603.6,1211.2C1606,1210 1613,1201 1618,1201C1623,1201 1632,1207 1635,1211C1637,1215 1636,1223 1633,1226C1631,1229 1620,1228 1618,1228" stroke="#1e5108" stroke-width="1.2" stroke-opacity=".8"/>
<path d="M1600,1205.3C1603,1204 1611,1196 1618,1196C1625,1196 1638,1201 1641,1207C1644,1212 1641,1225 1638,1230C1634,1234 1623,1234 1620,1235" stroke="#25640a" stroke-width="1.3" stroke-opacity=".8"/>
<path d="M1571.2,1216.1C1574,1215 1583,1208 1588,1209C1593,1209 1601,1214 1603,1218C1605,1222 1603,1231 1599,1235C1596,1239 1587,1241 1582,1241C1578,1240 1573,1234 1571,1233" stroke="#58c814" stroke-width="22.0"/>
<path d="M1573.9,1222.1C1576,1221 1584,1215 1588,1214C1592,1214 1595,1218 1596,1221C1597,1224 1596,1228 1594,1230C1592,1232 1586,1233 1583,1233C1580,1232 1576,1228 1575,1227" stroke="#469e10" stroke-width="4.4"/>
<path d="M1569.3,1211.8C1572,1211 1582,1205 1588,1206C1595,1207 1605,1211 1607,1216C1610,1221 1606,1232 1602,1237C1598,1242 1588,1245 1582,1245C1577,1245 1571,1238 1569,1237" stroke="#79eb34" stroke-width="2.9"/>
<path d="M1572.3,1218.7C1575,1217 1583,1208 1588,1208C1593,1208 1602,1213 1604,1218C1606,1222 1602,1230 1598,1234C1595,1237 1587,1239 1583,1239C1578,1239 1573,1234 1571,1234" stroke="#35790c" stroke-width="1.5" stroke-opacity=".8"/>
<path d="M1568.2,1209.3C1572,1208 1581,1201 1589,1201C1596,1202 1609,1208 1611,1214C1614,1221 1610,1234 1605,1240C1600,1246 1588,1249 1582,1249C1575,1249 1569,1242 1566,1241" stroke="#3d8c0e" stroke-width="1.8" stroke-opacity=".8"/>
<path d="M1575.4,1225.6C1577,1224 1584,1218 1588,1218C1591,1217 1594,1220 1595,1221C1596,1223 1594,1227 1592,1228C1590,1230 1586,1231 1583,1230C1581,1230 1578,1225 1577,1224" stroke="#8eee54" stroke-width="1.3" stroke-opacity=".8"/>
<path d="M1543,1227.4C1546,1226 1554,1218 1560,1218C1566,1218 1574,1221 1577,1225C1579,1230 1578,1240 1575,1244C1572,1249 1563,1252 1558,1252C1553,1252 1547,1246 1545,1244" stroke="#64dc18" stroke-width="24.0"/>
<path d="M1539.1,1220.4C1543,1219 1552,1212 1560,1212C1567,1212 1579,1216 1583,1222C1586,1228 1585,1242 1580,1248C1576,1254 1564,1258 1558,1259C1552,1259 1545,1251 1542,1249" stroke="#51b313" stroke-width="4.8"/>
<path d="M1545.6,1231.9C1548,1230 1556,1223 1560,1222C1565,1221 1571,1225 1572,1228C1574,1231 1574,1238 1571,1242C1569,1245 1562,1247 1558,1247C1554,1247 1548,1242 1547,1241" stroke="#89eb4b" stroke-width="3.1"/>
<path d="M1542.4,1226.2C1545,1224 1554,1215 1560,1215C1566,1215 1575,1220 1578,1225C1581,1230 1581,1241 1577,1246C1574,1251 1564,1253 1558,1253C1552,1253 1546,1248 1543,1247" stroke="#408e0f" stroke-width="1.7" stroke-opacity=".8"/>
<path d="M1546.6,1233.8C1549,1232 1556,1227 1560,1226C1564,1225 1569,1227 1571,1229C1572,1231 1570,1237 1568,1240C1566,1242 1561,1243 1558,1242C1555,1241 1551,1237 1550,1236" stroke="#49a011" stroke-width="1.9" stroke-opacity=".8"/>
<path d="M1537.7,1217.8C1541,1216 1551,1207 1559,1208C1567,1208 1582,1213 1586,1220C1591,1227 1588,1243 1584,1250C1579,1258 1565,1262 1558,1262C1551,1262 1543,1254 1540,1252" stroke="#9eef6b" stroke-width="1.4" stroke-opacity=".8"/>
<path d="M1522.3,1251.8C1525,1250 1533,1243 1539,1242C1545,1242 1555,1246 1558,1250C1561,1254 1560,1264 1556,1269C1553,1273 1543,1276 1537,1276C1532,1276 1526,1270 1524,1269" stroke="#86e81c" stroke-width="24.0"/>
<path d="M1519.5,1246.8C1523,1245 1531,1234 1539,1234C1546,1234 1562,1239 1565,1245C1569,1252 1566,1266 1561,1273C1557,1279 1544,1283 1537,1283C1531,1284 1523,1277 1520,1275" stroke="#6ec214" stroke-width="4.8"/>
<path d="M1524.8,1256.2C1527,1255 1535,1247 1539,1247C1544,1246 1552,1249 1554,1252C1557,1255 1555,1263 1552,1266C1550,1269 1542,1272 1537,1272C1533,1271 1528,1266 1527,1264" stroke="#a6ee58" stroke-width="3.1"/>
<path d="M1520.8,1249.1C1524,1248 1533,1243 1539,1243C1546,1243 1557,1245 1560,1249C1562,1253 1559,1264 1556,1268C1552,1273 1543,1276 1537,1276C1532,1276 1527,1269 1525,1268" stroke="#599d10" stroke-width="1.7" stroke-opacity=".8"/>
<path d="M1527.3,1260.7C1529,1259 1536,1253 1540,1252C1544,1251 1549,1253 1551,1255C1552,1257 1551,1261 1549,1263C1547,1265 1541,1268 1537,1268C1534,1268 1530,1263 1528,1262" stroke="#64b012" stroke-width="1.9" stroke-opacity=".8"/>
<path d="M1516.8,1241.9C1520,1240 1530,1233 1539,1233C1547,1233 1563,1237 1568,1244C1572,1251 1570,1268 1565,1276C1560,1283 1545,1287 1537,1287C1530,1288 1522,1280 1518,1279" stroke="#b7f179" stroke-width="1.4" stroke-opacity=".8"/>
<path d="M1499.8,1274.4C1503,1273 1511,1267 1517,1267C1523,1267 1533,1270 1535,1274C1538,1278 1537,1287 1534,1291C1530,1295 1520,1298 1517,1299" stroke="#98ea20" stroke-width="24.0"/>
<path d="M1496.7,1267.5C1500,1266 1509,1259 1517,1259C1524,1259 1539,1263 1543,1269C1547,1276 1544,1290 1540,1296C1537,1303 1523,1305 1520,1306" stroke="#7fc913" stroke-width="4.8"/>
<path d="M1501.7,1278.6C1504,1277 1512,1272 1517,1271C1522,1271 1529,1274 1532,1277C1534,1280 1533,1286 1530,1289C1527,1291 1517,1293 1515,1294" stroke="#b4f05d" stroke-width="3.1"/>
<path d="M1498.9,1272.3C1502,1271 1510,1266 1517,1267C1523,1267 1534,1270 1537,1274C1539,1278 1536,1286 1533,1291C1530,1295 1520,1299 1517,1300" stroke="#68a40f" stroke-width="1.7" stroke-opacity=".8"/>
<path d="M1503.7,1283.2C1506,1282 1513,1277 1517,1277C1521,1276 1525,1279 1527,1280C1528,1282 1528,1284 1526,1285C1524,1287 1515,1290 1513,1291" stroke="#73b711" stroke-width="1.9" stroke-opacity=".8"/>
<path d="M1495.6,1265C1499,1264 1509,1256 1517,1257C1525,1258 1539,1262 1543,1269C1548,1276 1546,1292 1542,1298C1539,1305 1524,1306 1521,1308" stroke="#c3f37d" stroke-width="1.4" stroke-opacity=".8"/>
<path d="M1479.1,1305C1481,1308 1485,1317 1490,1320C1495,1324 1503,1326 1509,1326C1515,1325 1524,1321 1528,1318C1532,1315 1533,1309 1534,1307" stroke="#88e018" stroke-width="14.0"/>
<path d="M1482.4,1302.5C1484,1305 1488,1314 1492,1317C1497,1320 1503,1322 1509,1321C1514,1321 1522,1317 1525,1315C1529,1312 1529,1307 1530,1305" stroke="#6fb714" stroke-width="2.8"/>
<path d="M1477.6,1306.1C1479,1309 1484,1319 1489,1322C1494,1326 1503,1328 1509,1328C1516,1328 1525,1324 1530,1320C1534,1317 1535,1310 1536,1308" stroke="#a7ec4e" stroke-width="1.8"/>
<path d="M1478.9,1305.2C1481,1307 1486,1315 1491,1319C1496,1322 1503,1324 1509,1324C1515,1324 1523,1320 1527,1317C1531,1315 1533,1309 1534,1307" stroke="#589210" stroke-width="1.2" stroke-opacity=".8"/>
<path d="M1475.5,1307.8C1477,1311 1482,1321 1487,1325C1493,1328 1502,1331 1509,1330C1517,1330 1526,1325 1531,1322C1535,1318 1536,1311 1538,1309" stroke="#64a412" stroke-width="1.2" stroke-opacity=".8"/>
<path d="M1482.9,1299.4C1486,1299 1494,1294 1500,1294C1506,1294 1515,1297 1519,1298" stroke="#9ce820" stroke-width="10.0"/>
<path d="M1483.8,1302.3C1486,1301 1494,1297 1500,1297C1506,1296 1515,1300 1518,1301" stroke="#82c614" stroke-width="2.0"/>
<path d="M1482.3,1297.6C1485,1297 1494,1293 1500,1293C1506,1293 1516,1296 1519,1296" stroke="#b7ee5c" stroke-width="1.3"/>
<path d="M1462.2,1325.7C1464,1328 1467,1338 1472,1341C1476,1344 1484,1345 1490,1345C1496,1344 1504,1340 1507,1337C1511,1334 1512,1328 1513,1326" stroke="#b0e828" stroke-width="14.0"/>
<path d="M1459.1,1327.6C1461,1330 1464,1341 1469,1345C1474,1348 1484,1349 1491,1348C1498,1348 1505,1343 1510,1340C1514,1336 1516,1330 1517,1328" stroke="#97cc16" stroke-width="2.8"/>
<path d="M1464.8,1324.1C1466,1327 1469,1336 1473,1339C1477,1342 1485,1343 1490,1343C1496,1342 1502,1338 1505,1335C1509,1332 1510,1326 1511,1325" stroke="#c6ee64" stroke-width="1.8"/>
<path d="M1461.5,1326.2C1463,1329 1466,1339 1471,1342C1475,1345 1484,1345 1490,1345C1497,1344 1504,1341 1508,1338C1512,1335 1514,1329 1515,1327" stroke="#7ca712" stroke-width="1.2" stroke-opacity=".8"/>
<path d="M1466.6,1323C1468,1325 1471,1333 1475,1336C1479,1338 1485,1339 1490,1339C1495,1339 1501,1336 1504,1333C1507,1331 1507,1325 1507,1323" stroke="#89ba14" stroke-width="1.2" stroke-opacity=".8"/>
<path d="M1467.8,1320.1C1470,1319 1478,1315 1483,1315C1488,1314 1497,1318 1500,1318" stroke="#bcec30" stroke-width="10.0"/>
<path d="M1466.8,1317.3C1469,1316 1477,1312 1483,1312C1488,1312 1497,1315 1500,1315" stroke="#a8da14" stroke-width="2.0"/>
<path d="M1468.5,1322.1C1471,1321 1478,1316 1483,1316C1488,1316 1497,1319 1499,1320" stroke="#d0f26d" stroke-width="1.3"/>
<path d="M1445.3,1344.5C1447,1347 1448,1356 1453,1360C1457,1363 1466,1366 1472,1365C1477,1365 1483,1361 1487,1358C1490,1355 1493,1348 1494,1346" stroke="#c8e830" stroke-width="14.0"/>
<path d="M1441.7,1346.3C1443,1349 1446,1358 1451,1362C1456,1366 1465,1370 1472,1370C1478,1370 1485,1365 1489,1361C1494,1357 1496,1350 1497,1348" stroke="#b2d317" stroke-width="2.8"/>
<path d="M1448,1343.1C1449,1346 1450,1355 1454,1358C1458,1361 1466,1363 1471,1363C1477,1362 1482,1359 1485,1356C1489,1353 1491,1347 1492,1345" stroke="#d8ef6c" stroke-width="1.8"/>
<path d="M1444.2,1345C1446,1347 1448,1356 1453,1360C1457,1363 1466,1366 1472,1366C1477,1365 1483,1361 1487,1358C1491,1355 1494,1349 1495,1347" stroke="#93ae13" stroke-width="1.2" stroke-opacity=".8"/>
<path d="M1449.7,1342.3C1451,1344 1452,1352 1456,1355C1460,1358 1467,1361 1471,1360C1476,1360 1480,1356 1483,1353C1486,1351 1488,1345 1489,1343" stroke="#a3c015" stroke-width="1.2" stroke-opacity=".8"/>
<path d="M1449,1340.8C1451,1340 1457,1334 1462,1334C1467,1333 1476,1336 1479,1337" stroke="#d0ec38" stroke-width="10.0"/>
<path d="M1450.4,1343.2C1452,1342 1458,1338 1463,1337C1467,1337 1476,1340 1478,1340" stroke="#c1e115" stroke-width="2.0"/>
<path d="M1448.3,1339.4C1451,1338 1457,1333 1462,1332C1467,1331 1477,1335 1479,1335" stroke="#def275" stroke-width="1.3"/>
<path d="M1558,1363.7C1556,1366 1551,1370 1547,1375C1543,1380 1538,1387 1535,1393C1533,1400 1532,1406 1532,1412C1532,1418 1533,1426 1535,1431C1538,1436 1543,1440 1547,1442C1551,1444 1555,1446 1558,1444C1561,1443 1564,1438 1567,1433C1571,1428 1574,1420 1577,1414C1580,1408 1583,1402 1586,1395C1589,1389 1593,1382 1596,1376C1598,1371 1602,1364 1603,1361" stroke="#30e030" stroke-width="14.0"/>
<path d="M1560.4,1366.1C1559,1368 1554,1372 1550,1377C1547,1382 1542,1389 1540,1395C1538,1401 1536,1407 1536,1412C1536,1418 1538,1424 1540,1429C1542,1433 1546,1437 1549,1439C1552,1441 1554,1442 1556,1441C1559,1439 1561,1435 1563,1430C1566,1426 1570,1419 1574,1413C1577,1406 1580,1400 1583,1394C1586,1387 1590,1381 1593,1375C1595,1369 1598,1362 1600,1360" stroke="#1dc51d" stroke-width="2.8"/>
<path d="M1556.3,1361.9C1554,1364 1549,1369 1546,1374C1542,1379 1536,1386 1534,1393C1531,1399 1529,1406 1529,1412C1529,1419 1531,1427 1534,1432C1536,1437 1541,1442 1546,1444C1550,1447 1555,1448 1559,1446C1563,1445 1566,1439 1569,1434C1572,1429 1575,1421 1579,1415C1582,1409 1585,1403 1589,1396C1592,1390 1595,1383 1598,1377C1600,1372 1604,1365 1605,1362" stroke="#6ae96a" stroke-width="1.8"/>
<path d="M1557.7,1363.3C1556,1365 1551,1370 1547,1375C1544,1380 1538,1387 1535,1393C1533,1400 1533,1406 1533,1412C1533,1418 1533,1426 1536,1431C1538,1436 1543,1439 1547,1442C1551,1444 1555,1446 1558,1444C1561,1443 1564,1437 1567,1432C1570,1427 1574,1420 1577,1414C1580,1408 1584,1402 1587,1395C1590,1389 1592,1382 1595,1376C1597,1370 1601,1364 1602,1361" stroke="#18a118" stroke-width="1.2" stroke-opacity=".8"/>
<path d="M1554.5,1360.1C1553,1362 1546,1366 1542,1371C1538,1376 1533,1384 1530,1391C1527,1398 1527,1405 1527,1412C1527,1419 1529,1427 1532,1433C1534,1439 1540,1444 1544,1446C1549,1449 1555,1450 1560,1449C1565,1447 1569,1441 1572,1436C1576,1430 1578,1423 1581,1416C1584,1410 1587,1404 1590,1397C1594,1391 1598,1385 1601,1379C1604,1373 1606,1366 1607,1364" stroke="#1bb31b" stroke-width="1.2" stroke-opacity=".8"/>
<path d="M1612.6,1361.8C1613,1365 1617,1373 1618,1380C1620,1387 1621,1396 1622,1403C1623,1410 1623,1415 1622,1422C1621,1428 1617,1437 1616,1440" stroke="#e8e030" stroke-width="10.0"/>
<path d="M1615.8,1360.8C1617,1364 1619,1373 1621,1380C1622,1387 1624,1395 1625,1403C1625,1410 1625,1416 1625,1422C1624,1428 1620,1438 1619,1441" stroke="#d3cb17" stroke-width="2.0"/>
<path d="M1610.8,1362.3C1612,1365 1615,1374 1617,1380C1619,1387 1620,1396 1621,1403C1621,1410 1622,1415 1621,1421C1620,1428 1616,1437 1615,1440" stroke="#efe96c" stroke-width="1.3"/>
<path d="M1610.7,1437C1613,1436 1621,1435 1626,1433C1631,1430 1638,1423 1640,1422" stroke="#e8d820" stroke-width="18.0"/>
<path d="M1609.2,1431.5C1612,1431 1619,1431 1623,1428C1628,1426 1635,1420 1637,1418" stroke="#c6b814" stroke-width="3.6"/>
<path d="M1611.7,1440.8C1614,1440 1622,1437 1627,1434C1632,1432 1639,1426 1642,1424" stroke="#eee35c" stroke-width="2.3"/>
<path d="M1610.5,1436.4C1613,1436 1620,1434 1625,1432C1630,1429 1637,1423 1640,1421" stroke="#a19511" stroke-width="1.3" stroke-opacity=".8"/>
<path d="M1612.7,1444.3C1615,1443 1623,1441 1629,1438C1634,1435 1642,1429 1644,1427" stroke="#b3a612" stroke-width="1.4" stroke-opacity=".8"/>
<path d="M1608.4,1428.8C1611,1428 1618,1428 1622,1426C1626,1423 1633,1417 1635,1415" stroke="#f2e87c" stroke-width="1.2" stroke-opacity=".8"/>
<path d="M1610.7,1446C1613,1447 1618,1452 1622,1452C1626,1452 1631,1449 1633,1448" stroke="#f0e840" stroke-width="4.0"/>
<path d="M1858,1296C1853,1298 1837,1302 1828,1305C1819,1309 1813,1314 1805,1318C1798,1323 1790,1328 1783,1333C1775,1338 1768,1344 1760,1348C1753,1353 1745,1359 1738,1361C1730,1364 1723,1366 1715,1365C1708,1365 1700,1362 1693,1360C1685,1357 1677,1352 1668,1348C1659,1345 1645,1339 1640,1337" stroke="#f0e820" stroke-width="16.0"/>
<path d="M1859.3,1299.9C1854,1302 1838,1306 1830,1310C1821,1313 1815,1317 1808,1322C1800,1326 1793,1332 1785,1337C1778,1342 1770,1347 1763,1352C1755,1357 1748,1364 1740,1367C1732,1370 1723,1371 1715,1370C1707,1370 1699,1366 1691,1363C1683,1360 1675,1356 1666,1353C1657,1349 1643,1344 1638,1342" stroke="#d4cc0e" stroke-width="3.2"/>
<path d="M1857.4,1293.8C1852,1295 1836,1300 1827,1304C1818,1308 1812,1312 1804,1317C1797,1321 1789,1326 1782,1331C1774,1336 1767,1342 1759,1346C1752,1351 1744,1357 1737,1360C1730,1363 1723,1363 1715,1363C1708,1362 1701,1359 1694,1356C1686,1354 1678,1350 1669,1346C1660,1342 1646,1337 1641,1335" stroke="#f4ee5e" stroke-width="2.1"/>
<path d="M1858.4,1297.1C1853,1299 1837,1303 1829,1307C1820,1310 1814,1315 1806,1319C1799,1324 1791,1330 1784,1335C1776,1340 1769,1345 1761,1349C1753,1354 1745,1358 1738,1361C1730,1364 1723,1367 1715,1366C1708,1366 1701,1362 1693,1359C1685,1356 1677,1353 1668,1349C1659,1345 1645,1339 1640,1337" stroke="#aea70c" stroke-width="1.2" stroke-opacity=".8"/>
<path d="M1856.3,1290.4C1851,1292 1835,1297 1826,1300C1817,1304 1810,1308 1802,1312C1794,1317 1787,1323 1779,1328C1772,1333 1765,1339 1758,1344C1750,1349 1743,1354 1736,1356C1729,1359 1722,1360 1715,1360C1709,1359 1702,1357 1695,1354C1687,1351 1679,1347 1670,1343C1662,1339 1647,1334 1642,1332" stroke="#c1ba0d" stroke-width="1.3" stroke-opacity=".8"/>
<path d="M1861.8,1326.1C1858,1326 1846,1326 1837,1328C1829,1329 1818,1333 1809,1335C1800,1338 1792,1340 1783,1343C1774,1346 1765,1348 1757,1352C1748,1356 1742,1361 1734,1365C1726,1369 1719,1372 1711,1376C1704,1381 1697,1386 1689,1392C1681,1397 1673,1405 1664,1410C1656,1416 1644,1423 1640,1425" stroke="#f4ec28" stroke-width="14.0"/>
<path d="M1861.5,1321.5C1857,1322 1846,1322 1837,1324C1828,1326 1817,1329 1808,1331C1799,1334 1790,1336 1781,1339C1773,1342 1763,1345 1755,1349C1747,1352 1739,1357 1732,1361C1724,1365 1717,1368 1709,1373C1702,1377 1694,1382 1686,1388C1679,1394 1671,1402 1662,1407C1654,1413 1642,1420 1638,1422" stroke="#e3da0c" stroke-width="2.8"/>
<path d="M1861.9,1327.9C1858,1328 1846,1328 1838,1330C1829,1331 1819,1334 1810,1337C1801,1339 1792,1342 1783,1345C1775,1348 1765,1350 1757,1354C1749,1358 1743,1364 1735,1368C1728,1372 1720,1373 1712,1378C1705,1382 1698,1388 1690,1394C1683,1399 1674,1406 1665,1412C1657,1417 1645,1424 1641,1427" stroke="#f7f267" stroke-width="1.8"/>
<path d="M1861.8,1325.4C1858,1326 1846,1325 1837,1327C1828,1328 1818,1331 1809,1334C1800,1337 1792,1340 1783,1343C1774,1346 1764,1347 1756,1351C1748,1355 1742,1361 1734,1365C1726,1369 1718,1370 1710,1375C1703,1379 1697,1386 1689,1391C1681,1397 1672,1404 1664,1409C1656,1415 1644,1423 1640,1426" stroke="#bcb50a" stroke-width="1.2" stroke-opacity=".8"/>
<path d="M1862.2,1331.4C1858,1332 1847,1331 1838,1333C1830,1334 1820,1338 1811,1340C1802,1343 1793,1345 1784,1348C1776,1350 1767,1354 1759,1358C1751,1361 1744,1366 1737,1370C1729,1374 1722,1377 1714,1381C1707,1385 1700,1390 1692,1396C1684,1401 1675,1409 1667,1414C1659,1420 1646,1427 1642,1429" stroke="#cfc70b" stroke-width="1.2" stroke-opacity=".8"/>
<path d="M1884.4,1290C1885,1293 1889,1300 1888,1305C1887,1310 1884,1315 1881,1318C1877,1322 1868,1324 1866,1326" stroke="#f0e830" stroke-width="4.0"/>
<path d="M1640,1410.3C1643,1409 1653,1406 1659,1403C1665,1400 1674,1393 1678,1392" stroke="#f8f020" stroke-width="20.0"/>
<path d="M1642.5,1416.5C1646,1415 1655,1411 1661,1408C1668,1405 1678,1399 1681,1397" stroke="#e3db07" stroke-width="4.0"/>
<path d="M1638.6,1406.9C1642,1406 1652,1404 1658,1401C1664,1398 1673,1390 1675,1388" stroke="#faf460" stroke-width="2.6"/>
<path d="M1640.9,1412.6C1644,1411 1653,1407 1659,1404C1666,1400 1675,1394 1678,1392" stroke="#bbb506" stroke-width="1.4" stroke-opacity=".8"/>
<path d="M1637.6,1404.4C1641,1403 1649,1398 1655,1395C1661,1392 1671,1388 1674,1386" stroke="#cfc807" stroke-width="1.6" stroke-opacity=".8"/>
<path d="M1643.1,1418.1C1646,1417 1656,1414 1663,1410C1669,1407 1679,1401 1682,1399" stroke="#fbf783" stroke-width="1.2" stroke-opacity=".8"/>
<path d="M1640,1352C1645,1354 1659,1359 1668,1361C1678,1364 1687,1368 1696,1369C1706,1370 1720,1369 1725,1369" stroke="#f0e820" stroke-width="10.0"/>
<path d="M1639.1,1354.7C1644,1356 1658,1361 1667,1364C1677,1367 1686,1371 1696,1372C1705,1373 1720,1371 1725,1371" stroke="#d4cc0e" stroke-width="2.0"/>
<path d="M1640.6,1350.3C1645,1352 1659,1358 1668,1360C1678,1363 1687,1366 1697,1367C1706,1368 1720,1367 1725,1367" stroke="#f4ee5e" stroke-width="1.3"/>
<path d="M1844.9,1293.8C1846,1295 1852,1297 1852,1299C1853,1302 1848,1306 1847,1307" stroke="#f0e820" stroke-width="10.0"/>
<path d="M1846.6,1291.5C1848,1293 1854,1296 1855,1299C1855,1302 1850,1307 1849,1308" stroke="#d4cc0e" stroke-width="2.0"/>
<path d="M1843.6,1295.5C1845,1296 1851,1298 1851,1300C1851,1301 1847,1305 1846,1306" stroke="#f4ee5e" stroke-width="1.3"/>
<path d="M1856.2,1320.1C1858,1321 1865,1324 1866,1326C1866,1328 1861,1332 1860,1333" stroke="#f0e020" stroke-width="10.0"/>
<path d="M1854.9,1322.2C1856,1323 1862,1325 1863,1326C1863,1328 1858,1331 1858,1331" stroke="#d4c50e" stroke-width="2.0"/>
<path d="M1856.9,1318.9C1859,1320 1866,1323 1867,1325C1868,1328 1863,1333 1862,1335" stroke="#f4e95e" stroke-width="1.3"/>
<path d="M1734,1346.4C1740,1343 1759,1334 1772,1328C1784,1321 1803,1312 1809,1309" stroke="#a8a810" stroke-width="3.0"/>
<path d="M1799.8,1289.8C1803,1288 1811,1283 1819,1280C1826,1278 1839,1274 1847,1273C1855,1272 1862,1274 1866,1275" stroke="#f8f020" stroke-width="18.0"/>
<path d="M1797.1,1284.4C1800,1283 1808,1278 1817,1275C1825,1272 1838,1268 1846,1268C1854,1267 1863,1269 1866,1270" stroke="#e3db07" stroke-width="3.6"/>
<path d="M1801.5,1293.2C1805,1292 1812,1286 1820,1283C1827,1281 1840,1277 1847,1276C1855,1275 1862,1278 1865,1278" stroke="#faf460" stroke-width="2.3"/>
<path d="M1799.7,1289.7C1803,1288 1811,1284 1819,1281C1826,1277 1839,1272 1846,1270C1854,1269 1863,1272 1866,1272" stroke="#bbb506" stroke-width="1.3" stroke-opacity=".8"/>
<path d="M1802.8,1295.8C1806,1294 1814,1290 1821,1287C1829,1285 1840,1280 1848,1279C1855,1279 1862,1282 1865,1282" stroke="#cfc807" stroke-width="1.4" stroke-opacity=".8"/>
<path d="M1795.9,1282.1C1799,1281 1808,1276 1816,1273C1824,1270 1837,1266 1846,1265C1854,1264 1863,1267 1866,1267" stroke="#fbf783" stroke-width="1.2" stroke-opacity=".8"/>
<path d="M1794.1,1298.8C1798,1298 1810,1295 1819,1293C1827,1291 1842,1287 1847,1286" stroke="#f4ec28" stroke-width="12.0"/>
<path d="M1793.2,1294.7C1797,1294 1809,1292 1818,1290C1827,1288 1841,1284 1846,1282" stroke="#e3da0c" stroke-width="2.4"/>
<path d="M1794.6,1300.9C1799,1300 1810,1297 1819,1294C1828,1292 1843,1289 1847,1288" stroke="#f7f267" stroke-width="1.6"/>
<path d="M1794.1,1298.7C1798,1298 1809,1294 1818,1292C1827,1289 1842,1286 1847,1285" stroke="#bcb50a" stroke-width="1.2" stroke-opacity=".8"/>
<path d="M1795.1,1302.8C1799,1302 1811,1299 1820,1297C1828,1295 1843,1291 1848,1290" stroke="#cfc70b" stroke-width="1.2" stroke-opacity=".8"/>
<path d="M1865.6,1280C1868,1282 1877,1286 1881,1289C1884,1293 1887,1298 1888,1300" stroke="#f0e830" stroke-width="4.0"/>
<path d="M1640,1255.6C1642,1257 1648,1262 1651,1267C1654,1271 1656,1277 1659,1282C1661,1287 1665,1294 1666,1297" stroke="#e8a010" stroke-width="16.0"/>
<path d="M1643.5,1252.1C1646,1254 1653,1259 1656,1264C1659,1268 1661,1275 1663,1280C1666,1285 1670,1292 1671,1295" stroke="#bd820d" stroke-width="3.2"/>
<path d="M1638.8,1256.8C1641,1259 1647,1263 1650,1268C1653,1272 1654,1278 1656,1283C1659,1288 1663,1296 1664,1298" stroke="#f2ba48" stroke-width="2.1"/>
<path d="M1640.9,1254.7C1643,1257 1649,1262 1652,1266C1655,1271 1658,1276 1660,1281C1662,1286 1665,1294 1666,1297" stroke="#97680a" stroke-width="1.2" stroke-opacity=".8"/>
<path d="M1636.4,1259.1C1638,1261 1643,1266 1646,1271C1648,1275 1650,1280 1653,1285C1655,1290 1660,1297 1661,1300" stroke="#aa750c" stroke-width="1.3" stroke-opacity=".8"/>
<path d="M1664.4,1255.6C1667,1254 1673,1248 1678,1247C1682,1245 1688,1245 1693,1247C1697,1248 1702,1252 1706,1256C1710,1260 1713,1267 1715,1271C1718,1274 1720,1277 1721,1278" stroke="#e8a818" stroke-width="16.0"/>
<path d="M1662.1,1252.1C1664,1251 1671,1244 1676,1243C1682,1241 1688,1241 1694,1242C1699,1244 1705,1248 1709,1252C1713,1257 1716,1264 1719,1268C1721,1272 1723,1274 1724,1276" stroke="#bf8a13" stroke-width="3.2"/>
<path d="M1666.2,1258.2C1668,1257 1674,1251 1679,1250C1683,1248 1688,1248 1692,1249C1696,1250 1701,1253 1705,1257C1708,1261 1711,1268 1713,1272C1715,1276 1718,1279 1718,1280" stroke="#eebf54" stroke-width="2.1"/>
<path d="M1664.7,1256C1667,1254 1673,1248 1678,1246C1682,1245 1688,1245 1693,1247C1697,1248 1702,1252 1706,1256C1709,1260 1714,1266 1716,1270C1719,1274 1720,1277 1720,1278" stroke="#9a6f0f" stroke-width="1.2" stroke-opacity=".8"/>
<path d="M1667.9,1260.6C1670,1259 1676,1253 1679,1252C1683,1251 1687,1251 1691,1252C1695,1253 1698,1256 1701,1260C1705,1263 1708,1270 1710,1274C1713,1278 1715,1281 1716,1282" stroke="#ad7d11" stroke-width="1.3" stroke-opacity=".8"/>
<path d="M1709.5,1236.8C1710,1240 1713,1249 1715,1256C1717,1262 1720,1271 1721,1274" stroke="#a86808" stroke-width="10.0"/>
<path d="M1706.9,1237.5C1708,1241 1711,1250 1713,1256C1715,1263 1717,1272 1718,1275" stroke="#7c4d06" stroke-width="2.0"/>
<path d="M1711.2,1236.3C1712,1239 1715,1249 1717,1255C1718,1261 1722,1271 1723,1274" stroke="#e78f0b" stroke-width="1.3"/>
<path d="M1709.5,1229.2C1712,1228 1719,1223 1725,1222C1730,1221 1736,1221 1742,1222C1747,1223 1754,1228 1757,1229" stroke="#f0a818" stroke-width="6.0"/>
<path d="M1569.3,1305.4C1572,1304 1579,1300 1584,1300C1589,1299 1597,1303 1599,1303" stroke="#c88408" stroke-width="12.0"/>
<path d="M1568.3,1302.6C1571,1301 1579,1296 1584,1295C1589,1295 1598,1299 1600,1299" stroke="#9c6706" stroke-width="2.4"/>
<path d="M1569.9,1306.9C1572,1306 1580,1302 1585,1302C1589,1302 1597,1305 1599,1305" stroke="#f6a91c" stroke-width="1.6"/>
<path d="M1568.7,1303.8C1571,1303 1579,1300 1584,1300C1590,1300 1597,1302 1600,1302" stroke="#754d05" stroke-width="1.2" stroke-opacity=".8"/>
<path d="M1570.7,1309C1573,1308 1580,1304 1585,1304C1589,1303 1596,1306 1599,1307" stroke="#885a05" stroke-width="1.2" stroke-opacity=".8"/>
<path d="M1552.4,1350.5C1555,1348 1560,1339 1566,1335C1571,1331 1578,1329 1584,1328C1591,1327 1597,1329 1603,1328C1609,1326 1616,1323 1622,1320C1628,1318 1634,1314 1637,1313" stroke="#e8a010" stroke-width="30.0"/>
<path d="M1544.8,1344C1547,1341 1555,1333 1561,1329C1567,1324 1576,1319 1582,1317C1589,1316 1595,1318 1601,1317C1607,1317 1614,1316 1619,1313C1624,1311 1630,1305 1632,1303" stroke="#bd820d" stroke-width="6.0"/>
<path d="M1556.5,1354.1C1559,1352 1564,1343 1569,1339C1573,1336 1579,1333 1585,1332C1591,1331 1598,1335 1604,1334C1611,1332 1618,1327 1624,1324C1629,1321 1636,1317 1639,1316" stroke="#f2ba48" stroke-width="3.9"/>
<path d="M1552.7,1350.7C1555,1348 1559,1337 1564,1333C1569,1328 1577,1325 1584,1324C1590,1323 1597,1327 1603,1326C1609,1326 1616,1323 1622,1320C1627,1317 1634,1312 1636,1310" stroke="#97680a" stroke-width="2.1" stroke-opacity=".8"/>
<path d="M1560.5,1357.4C1562,1355 1567,1347 1572,1344C1576,1341 1581,1340 1587,1339C1592,1339 1599,1340 1605,1338C1612,1337 1621,1334 1627,1331C1633,1328 1639,1323 1642,1322" stroke="#aa750c" stroke-width="2.4" stroke-opacity=".8"/>
<path d="M1542.9,1342.4C1545,1339 1552,1329 1558,1324C1564,1320 1575,1316 1582,1314C1589,1312 1595,1315 1600,1314C1606,1313 1612,1311 1617,1308C1622,1306 1629,1303 1631,1301" stroke="#f5c669" stroke-width="1.8" stroke-opacity=".8"/>
<path d="M1556.2,1354.3C1559,1354 1569,1353 1575,1352C1581,1351 1587,1349 1594,1349C1600,1349 1605,1350 1613,1352C1620,1354 1635,1360 1640,1361" stroke="#e0a010" stroke-width="14.0"/>
<path d="M1556.6,1358.1C1560,1358 1569,1357 1576,1356C1582,1355 1588,1352 1594,1352C1600,1352 1604,1354 1611,1356C1619,1359 1634,1364 1638,1366" stroke="#b5810d" stroke-width="2.8"/>
<path d="M1555.9,1351.8C1559,1352 1568,1352 1575,1351C1581,1350 1587,1346 1594,1346C1600,1346 1605,1347 1613,1350C1621,1352 1636,1358 1641,1360" stroke="#f1bb41" stroke-width="1.8"/>
<path d="M1556.2,1354.3C1559,1354 1569,1352 1575,1352C1581,1351 1588,1349 1594,1349C1600,1350 1605,1351 1612,1353C1620,1355 1635,1360 1640,1361" stroke="#8f660a" stroke-width="1.2" stroke-opacity=".8"/>
<path d="M1555.5,1348.5C1559,1348 1568,1347 1574,1346C1580,1345 1587,1343 1594,1343C1600,1343 1606,1344 1614,1346C1622,1349 1637,1355 1642,1357" stroke="#a2740c" stroke-width="1.2" stroke-opacity=".8"/>
<path d="M1622,1290C1623,1293 1628,1303 1629,1309C1631,1315 1633,1324 1633,1328" stroke="#f0a818" stroke-width="16.0"/>
<path d="M1617.3,1291.9C1619,1295 1624,1304 1625,1310C1627,1316 1628,1325 1628,1329" stroke="#cd8d0d" stroke-width="3.2"/>
<path d="M1623.5,1289.4C1625,1292 1630,1302 1632,1308C1634,1314 1635,1324 1635,1327" stroke="#f4bf56" stroke-width="2.1"/>
<path d="M1622.5,1289.8C1623,1293 1626,1303 1628,1309C1629,1316 1631,1325 1631,1328" stroke="#a6730b" stroke-width="1.2" stroke-opacity=".8"/>
<path d="M1627.4,1287.8C1629,1291 1632,1301 1634,1307C1636,1314 1638,1323 1639,1326" stroke="#ba800c" stroke-width="1.3" stroke-opacity=".8"/>
<path d="M1651.3,1290C1653,1291 1660,1296 1664,1298C1669,1299 1675,1299 1678,1299" stroke="#e8a010" stroke-width="14.0"/>
<path d="M1649.2,1293.6C1652,1295 1658,1300 1663,1301C1668,1303 1675,1303 1677,1303" stroke="#bd820d" stroke-width="2.8"/>
<path d="M1652.3,1288.1C1654,1289 1661,1294 1665,1296C1669,1297 1676,1296 1678,1296" stroke="#f2ba48" stroke-width="1.8"/>
<path d="M1650.7,1291C1653,1292 1660,1295 1665,1297C1669,1299 1675,1300 1677,1300" stroke="#97680a" stroke-width="1.2" stroke-opacity=".8"/>
<path d="M1653.6,1285.9C1656,1287 1662,1292 1666,1293C1670,1295 1676,1294 1678,1295" stroke="#aa750c" stroke-width="1.2" stroke-opacity=".8"/>
<path d="M1742.4,1184.5C1745,1183 1752,1177 1757,1177C1761,1177 1768,1181 1772,1185C1775,1188 1775,1194 1775,1195" stroke="#e07808" stroke-width="20.0"/>
<path d="M1739.8,1179.6C1743,1178 1751,1171 1757,1171C1762,1172 1771,1177 1775,1181C1779,1184 1780,1191 1781,1194" stroke="#b46006" stroke-width="4.0"/>
<path d="M1744.3,1188.1C1746,1187 1753,1180 1757,1180C1761,1180 1766,1185 1769,1188C1771,1190 1772,1195 1773,1196" stroke="#f89933" stroke-width="2.6"/>
<path d="M1741.2,1182.2C1744,1181 1751,1174 1757,1174C1762,1175 1769,1180 1772,1184C1775,1187 1775,1194 1775,1196" stroke="#8c4b05" stroke-width="1.4" stroke-opacity=".8"/>
<path d="M1745.4,1190.1C1747,1189 1753,1186 1757,1185C1760,1185 1765,1188 1766,1190C1768,1192 1768,1197 1768,1198" stroke="#a05606" stroke-width="1.6" stroke-opacity=".8"/>
<path d="M1738,1176.2C1741,1175 1750,1169 1757,1169C1763,1170 1773,1174 1778,1178C1782,1182 1783,1190 1784,1192" stroke="#f9aa55" stroke-width="1.2" stroke-opacity=".8"/>
<path d="M1745.3,1199.5C1750,1200 1762,1203 1772,1203C1781,1203 1790,1200 1800,1200C1809,1199 1819,1198 1828,1198C1837,1197 1846,1196 1852,1198C1859,1199 1865,1204 1869,1209C1873,1214 1876,1221 1877,1227C1877,1234 1876,1241 1873,1246C1870,1252 1864,1258 1858,1261C1852,1265 1841,1266 1837,1267" stroke="#f09010" stroke-width="20.0"/>
<path d="M1746.3,1192.5C1750,1193 1763,1197 1772,1198C1780,1198 1790,1196 1799,1194C1809,1193 1819,1191 1828,1191C1837,1190 1846,1189 1854,1191C1862,1194 1869,1199 1874,1204C1879,1210 1883,1219 1884,1227C1884,1234 1882,1242 1878,1249C1874,1255 1867,1262 1861,1266C1854,1270 1843,1272 1839,1273" stroke="#c6760c" stroke-width="4.0"/>
<path d="M1744.7,1203.2C1749,1204 1762,1207 1772,1207C1781,1208 1791,1205 1800,1203C1810,1202 1820,1201 1828,1201C1837,1200 1845,1200 1851,1202C1858,1203 1864,1206 1867,1210C1871,1214 1872,1222 1873,1228C1874,1234 1874,1240 1871,1245C1868,1250 1862,1256 1857,1259C1851,1262 1840,1264 1837,1265" stroke="#f4ad4e" stroke-width="2.6"/>
<path d="M1745.4,1198.8C1750,1199 1763,1201 1772,1201C1781,1201 1790,1200 1800,1199C1809,1198 1819,1196 1828,1195C1837,1195 1845,1195 1853,1197C1860,1199 1866,1203 1870,1208C1874,1213 1878,1221 1879,1227C1879,1234 1878,1242 1875,1247C1872,1253 1864,1258 1858,1261C1852,1265 1841,1268 1838,1269" stroke="#9f5f0a" stroke-width="1.4" stroke-opacity=".8"/>
<path d="M1744.3,1206.4C1749,1207 1762,1212 1772,1212C1781,1212 1791,1209 1801,1208C1810,1207 1820,1206 1828,1206C1837,1205 1845,1204 1850,1205C1856,1207 1860,1210 1863,1214C1866,1218 1868,1223 1869,1228C1869,1233 1868,1238 1866,1242C1863,1246 1859,1251 1854,1254C1849,1257 1839,1259 1835,1260" stroke="#b26b0b" stroke-width="1.6" stroke-opacity=".8"/>
<path d="M1746.4,1191.3C1751,1192 1763,1194 1772,1194C1780,1194 1790,1192 1799,1191C1808,1190 1818,1188 1828,1188C1837,1188 1847,1186 1855,1188C1863,1191 1871,1197 1876,1203C1881,1210 1885,1218 1886,1226C1887,1234 1886,1244 1881,1251C1877,1258 1869,1264 1862,1268C1855,1272 1843,1274 1839,1275" stroke="#f6bd70" stroke-width="1.2" stroke-opacity=".8"/>
<path d="M1752.8,1214.6C1757,1215 1772,1217 1781,1218C1790,1220 1800,1220 1809,1222C1819,1224 1829,1227 1837,1230C1846,1232 1858,1236 1862,1237" stroke="#f09818" stroke-width="22.0"/>
<path d="M1751.8,1222C1757,1222 1771,1223 1780,1225C1789,1226 1799,1227 1808,1229C1817,1230 1827,1232 1836,1235C1845,1237 1856,1242 1860,1243" stroke="#cd7f0d" stroke-width="4.4"/>
<path d="M1753.2,1211.3C1758,1212 1772,1214 1781,1215C1791,1216 1800,1218 1810,1220C1819,1221 1830,1223 1839,1225C1848,1227 1859,1232 1863,1233" stroke="#f4b456" stroke-width="2.9"/>
<path d="M1752.8,1214.2C1757,1215 1771,1218 1781,1220C1790,1221 1800,1222 1809,1224C1818,1225 1828,1229 1837,1231C1846,1234 1857,1237 1861,1238" stroke="#a6670b" stroke-width="1.5" stroke-opacity=".8"/>
<path d="M1754,1205.5C1759,1206 1772,1210 1782,1211C1791,1213 1801,1212 1811,1213C1821,1215 1831,1218 1840,1221C1849,1224 1860,1228 1864,1230" stroke="#ba730c" stroke-width="1.8" stroke-opacity=".8"/>
<path d="M1751.6,1223.7C1756,1224 1770,1227 1780,1228C1789,1230 1798,1231 1807,1233C1816,1234 1826,1236 1835,1238C1844,1241 1855,1245 1859,1246" stroke="#f6c378" stroke-width="1.3" stroke-opacity=".8"/>
<path d="M1767.8,1233.4C1772,1235 1782,1238 1790,1241C1799,1243 1810,1246 1819,1248C1827,1251 1839,1254 1843,1256" stroke="#f09414" stroke-width="22.0"/>
<path d="M1769.6,1228C1773,1229 1784,1231 1793,1233C1801,1236 1812,1239 1820,1242C1829,1244 1841,1248 1845,1249" stroke="#c97a0d" stroke-width="4.4"/>
<path d="M1766.6,1237C1770,1238 1781,1241 1790,1244C1798,1246 1809,1251 1817,1253C1826,1256 1838,1258 1842,1259" stroke="#f4b052" stroke-width="2.9"/>
<path d="M1768.5,1231.3C1772,1233 1782,1238 1790,1241C1799,1244 1810,1246 1819,1248C1827,1250 1839,1254 1843,1255" stroke="#a3630a" stroke-width="1.5" stroke-opacity=".8"/>
<path d="M1764.8,1242.4C1769,1244 1779,1248 1788,1250C1796,1252 1808,1253 1817,1256C1825,1258 1836,1263 1840,1265" stroke="#b66f0c" stroke-width="1.8" stroke-opacity=".8"/>
<path d="M1770.6,1225C1774,1226 1785,1228 1793,1231C1802,1233 1812,1236 1821,1239C1830,1242 1841,1246 1845,1247" stroke="#f6c074" stroke-width="1.3" stroke-opacity=".8"/>
<path d="M1782.9,1255.9C1787,1257 1798,1260 1805,1262C1813,1263 1823,1262 1828,1265C1833,1268 1834,1276 1835,1280C1837,1284 1837,1288 1837,1289" stroke="#ec8c10" stroke-width="16.0"/>
<path d="M1781.8,1260.2C1786,1261 1797,1265 1804,1267C1812,1269 1821,1267 1825,1270C1830,1272 1830,1278 1832,1281C1833,1285 1833,1289 1833,1290" stroke="#c1730d" stroke-width="3.2"/>
<path d="M1783.7,1252.5C1787,1254 1798,1258 1806,1260C1813,1262 1824,1260 1829,1264C1834,1267 1836,1275 1837,1279C1839,1283 1840,1287 1840,1289" stroke="#f3aa4b" stroke-width="2.1"/>
<path d="M1782.6,1256.9C1786,1258 1798,1261 1805,1262C1813,1264 1823,1263 1828,1266C1832,1269 1832,1277 1834,1281C1836,1284 1837,1288 1838,1289" stroke="#9b5c0a" stroke-width="1.2" stroke-opacity=".8"/>
<path d="M1784.5,1249.5C1788,1250 1799,1253 1807,1255C1814,1257 1825,1257 1831,1261C1837,1264 1840,1273 1842,1277C1844,1282 1844,1286 1844,1288" stroke="#ae670c" stroke-width="1.3" stroke-opacity=".8"/>
<path d="M1876.8,1222.1C1879,1222 1887,1222 1890,1224C1893,1226 1893,1232 1892,1235C1891,1238 1884,1243 1882,1244" stroke="#f09818" stroke-width="8.0"/>
<path d="M1760.3,1236.8C1761,1240 1762,1250 1764,1256C1767,1262 1773,1270 1775,1272" stroke="#f0a020" stroke-width="4.0"/>
<path d="M1776.8,1215L1785.1,1217.2" stroke="#8a4a08" stroke-width="4.0"/>
<path d="M1820.1,1211.2L1828.3,1213.5" stroke="#8a4a08" stroke-width="4.0"/>
<path d="M1837,1231.9L1845.3,1234.1" stroke="#8a4a08" stroke-width="4.0"/>
<path d="M1793.8,1248.8L1802,1251.1" stroke="#8a4a08" stroke-width="4.0"/>
<path d="M1846.4,1246.9L1854.7,1249.2" stroke="#8a4a08" stroke-width="4.0"/>
<path d="M1812.6,1250.7L1820.8,1252.9" stroke="#8a4a08" stroke-width="4.0"/>
<path d="M1829.8,1210.5C1832,1211 1839,1214 1843,1215C1847,1216 1852,1218 1854,1218" stroke="#ffffff" stroke-width="6.0" stroke-opacity="0.8"/>
<path d="M1703.9,1295C1707,1294 1718,1290 1725,1286C1731,1282 1739,1275 1745,1271C1751,1267 1755,1264 1760,1263C1765,1263 1773,1264 1775,1267C1777,1270 1774,1276 1772,1282C1769,1287 1762,1297 1760,1300" stroke="#f05830" stroke-width="13.0"/>
<path d="M1705.4,1298.4C1709,1297 1719,1293 1726,1289C1733,1285 1742,1278 1747,1274C1753,1271 1757,1268 1761,1267C1765,1266 1771,1267 1773,1269C1774,1271 1771,1275 1768,1280C1765,1285 1759,1295 1757,1298" stroke="#e23c10" stroke-width="2.6"/>
<path d="M1703.1,1293.1C1706,1292 1716,1288 1723,1284C1730,1280 1738,1273 1745,1270C1751,1266 1755,1262 1760,1261C1765,1261 1774,1263 1777,1266C1779,1270 1776,1277 1773,1283C1771,1288 1763,1298 1762,1301" stroke="#f48a6e" stroke-width="1.7"/>
<path d="M1704.5,1296.3C1708,1295 1718,1291 1725,1287C1732,1283 1740,1276 1746,1272C1752,1268 1756,1265 1760,1265C1765,1264 1772,1265 1774,1268C1775,1271 1772,1276 1770,1281C1768,1287 1762,1297 1760,1300" stroke="#bc320e" stroke-width="1.2" stroke-opacity=".8"/>
<path d="M1702,1290.6C1705,1289 1716,1286 1723,1283C1729,1279 1737,1271 1743,1267C1749,1263 1754,1259 1760,1259C1766,1258 1777,1260 1780,1265C1782,1269 1779,1278 1777,1284C1774,1291 1767,1299 1764,1303" stroke="#cf370f" stroke-width="1.2" stroke-opacity=".8"/>
<path d="M1745.3,1299.9C1747,1297 1750,1286 1753,1282C1756,1277 1762,1274 1764,1272" stroke="#f06034" stroke-width="10.0"/>
<path d="M1742.5,1298.8C1744,1296 1747,1285 1751,1280C1754,1276 1760,1272 1762,1270" stroke="#e54311" stroke-width="2.0"/>
<path d="M1746.4,1300.4C1748,1297 1751,1287 1754,1283C1757,1278 1763,1275 1765,1273" stroke="#f59072" stroke-width="1.3"/>
<path d="M1703.9,1294.1C1706,1295 1715,1295 1719,1298C1723,1300 1728,1304 1730,1309C1733,1314 1733,1321 1734,1328C1735,1334 1736,1340 1738,1346C1740,1353 1744,1362 1745,1365" stroke="#f06030" stroke-width="14.0"/>
<path d="M1702.8,1298.7C1705,1299 1713,1299 1717,1301C1721,1303 1725,1306 1727,1311C1729,1315 1728,1322 1729,1329C1730,1335 1731,1341 1733,1348C1735,1354 1740,1364 1741,1367" stroke="#e24510" stroke-width="2.8"/>
<path d="M1704.3,1292.7C1707,1293 1716,1293 1720,1295C1725,1298 1730,1302 1732,1308C1735,1313 1734,1321 1736,1327C1737,1334 1738,1339 1740,1346C1742,1352 1746,1361 1747,1364" stroke="#f48f6e" stroke-width="1.8"/>
<path d="M1703.9,1294.1C1706,1295 1715,1295 1719,1298C1723,1300 1726,1305 1729,1310C1731,1315 1731,1322 1733,1328C1734,1334 1735,1340 1736,1347C1738,1353 1742,1363 1744,1366" stroke="#bc390e" stroke-width="1.2" stroke-opacity=".8"/>
<path d="M1705.1,1289.2C1708,1290 1716,1291 1721,1294C1726,1297 1731,1301 1734,1307C1737,1312 1738,1320 1739,1327C1741,1333 1741,1339 1743,1345C1745,1351 1749,1360 1751,1363" stroke="#cf3f0f" stroke-width="1.2" stroke-opacity=".8"/>
<path d="M1741.5,1290C1742,1293 1744,1303 1745,1309C1747,1315 1748,1321 1749,1328C1750,1334 1752,1340 1753,1346C1754,1353 1754,1362 1755,1365" stroke="#e85030" stroke-width="13.0"/>
<path d="M1738,1290.7C1739,1294 1740,1303 1741,1310C1742,1316 1744,1322 1745,1328C1746,1335 1748,1341 1749,1347C1750,1353 1751,1362 1751,1366" stroke="#d33817" stroke-width="2.6"/>
<path d="M1743.2,1289.7C1744,1293 1747,1302 1748,1308C1749,1315 1750,1321 1751,1327C1753,1333 1754,1340 1755,1346C1756,1352 1756,1362 1756,1365" stroke="#ef826c" stroke-width="1.7"/>
<path d="M1740.2,1290.3C1741,1293 1743,1303 1745,1309C1746,1315 1746,1322 1748,1328C1749,1334 1752,1340 1753,1346C1754,1353 1754,1362 1754,1365" stroke="#ae2e13" stroke-width="1.2" stroke-opacity=".8"/>
<path d="M1745.6,1289.2C1746,1292 1748,1302 1750,1308C1751,1314 1752,1320 1753,1327C1755,1333 1756,1339 1757,1346C1758,1352 1759,1362 1759,1365" stroke="#c03315" stroke-width="1.2" stroke-opacity=".8"/>
<path d="M1771.6,1290C1770,1293 1767,1303 1764,1309C1762,1315 1758,1324 1757,1328" stroke="#f08020" stroke-width="10.0"/>
<path d="M1774.6,1291.2C1773,1294 1769,1303 1766,1310C1764,1316 1761,1326 1760,1329" stroke="#d4690e" stroke-width="2.0"/>
<path d="M1770.6,1289.6C1769,1293 1765,1302 1762,1308C1760,1314 1756,1324 1755,1327" stroke="#f4a35e" stroke-width="1.3"/>
<path d="M1745.3,1369.3C1743,1372 1735,1381 1730,1388C1725,1395 1720,1403 1715,1412C1710,1421 1706,1431 1702,1440C1698,1450 1695,1460 1694,1469C1692,1477 1691,1485 1692,1493C1693,1501 1695,1510 1699,1516C1702,1522 1709,1527 1711,1529" stroke="#f06c10" stroke-width="24.0"/>
<path d="M1738.9,1364.2C1736,1367 1729,1376 1724,1383C1719,1391 1714,1400 1709,1409C1705,1418 1700,1429 1697,1438C1693,1448 1690,1458 1688,1467C1686,1477 1685,1485 1686,1494C1686,1502 1688,1513 1692,1519C1695,1526 1704,1531 1707,1533" stroke="#c6590c" stroke-width="4.8"/>
<path d="M1748.2,1371.7C1746,1375 1739,1383 1734,1390C1729,1397 1725,1406 1720,1415C1715,1423 1708,1432 1704,1441C1700,1450 1698,1461 1697,1469C1695,1478 1694,1485 1695,1493C1696,1500 1698,1508 1702,1514C1705,1519 1713,1523 1715,1525" stroke="#f4924e" stroke-width="3.1"/>
<path d="M1743.3,1367.7C1741,1371 1733,1379 1728,1386C1723,1394 1720,1403 1715,1412C1710,1421 1704,1430 1699,1439C1695,1449 1692,1459 1690,1468C1689,1477 1691,1485 1692,1493C1693,1501 1693,1511 1696,1517C1699,1523 1709,1526 1712,1528" stroke="#9f470a" stroke-width="1.7" stroke-opacity=".8"/>
<path d="M1751.5,1374.4C1749,1377 1741,1385 1736,1392C1732,1399 1728,1408 1724,1417C1720,1426 1714,1435 1710,1444C1707,1453 1706,1463 1704,1471C1702,1479 1700,1485 1700,1492C1701,1499 1705,1505 1708,1511C1711,1516 1716,1521 1718,1523" stroke="#b2500b" stroke-width="1.9" stroke-opacity=".8"/>
<path d="M1737.7,1363.1C1735,1366 1728,1375 1722,1382C1717,1389 1710,1398 1706,1407C1701,1416 1696,1427 1693,1437C1689,1447 1686,1457 1684,1467C1682,1476 1681,1485 1682,1494C1683,1503 1686,1513 1690,1521C1693,1528 1701,1534 1704,1536" stroke="#f6a770" stroke-width="1.4" stroke-opacity=".8"/>
<path d="M1711.4,1528.7C1714,1529 1723,1532 1728,1531C1734,1530 1739,1527 1743,1523C1748,1519 1753,1513 1755,1506C1757,1499 1755,1490 1755,1482C1754,1474 1752,1467 1751,1459C1750,1452 1748,1444 1747,1437C1747,1429 1747,1420 1747,1412C1747,1404 1748,1395 1749,1388C1750,1381 1752,1372 1753,1369" stroke="#f07410" stroke-width="19.0"/>
<path d="M1710.9,1533.6C1714,1534 1723,1536 1729,1535C1735,1534 1742,1532 1747,1527C1753,1523 1758,1515 1760,1508C1762,1500 1760,1490 1760,1481C1759,1473 1757,1466 1756,1458C1754,1451 1753,1444 1752,1436C1751,1429 1751,1420 1752,1412C1753,1404 1755,1396 1756,1389C1757,1382 1758,1373 1758,1370" stroke="#c65f0c" stroke-width="3.8"/>
<path d="M1711.7,1526C1714,1526 1723,1528 1728,1527C1733,1526 1737,1524 1741,1521C1745,1517 1749,1512 1751,1505C1753,1499 1752,1490 1752,1482C1751,1474 1750,1467 1749,1459C1748,1452 1745,1445 1744,1437C1744,1429 1745,1420 1745,1412C1745,1404 1746,1395 1747,1387C1748,1380 1750,1372 1751,1369" stroke="#f4984e" stroke-width="2.5"/>
<path d="M1711.3,1530.1C1714,1530 1723,1532 1728,1531C1734,1530 1739,1528 1744,1524C1749,1520 1754,1514 1756,1507C1758,1500 1757,1489 1756,1482C1755,1474 1752,1467 1750,1459C1749,1452 1748,1444 1748,1437C1748,1429 1749,1420 1749,1412C1750,1404 1751,1395 1751,1388C1752,1381 1752,1372 1752,1369" stroke="#9f4d0a" stroke-width="1.3" stroke-opacity=".8"/>
<path d="M1712.2,1522.1C1715,1522 1723,1524 1727,1523C1732,1523 1736,1522 1739,1519C1743,1516 1747,1511 1749,1505C1751,1499 1749,1490 1749,1482C1748,1475 1746,1468 1745,1460C1744,1453 1741,1445 1741,1437C1740,1429 1741,1420 1741,1412C1741,1404 1741,1394 1741,1387C1742,1379 1745,1371 1745,1367" stroke="#b2560b" stroke-width="1.5" stroke-opacity=".8"/>
<path d="M1710.5,1537.2C1714,1538 1723,1541 1730,1540C1736,1538 1744,1535 1750,1530C1755,1525 1760,1516 1763,1508C1765,1500 1764,1489 1763,1481C1763,1473 1761,1465 1760,1458C1759,1450 1757,1443 1756,1436C1755,1428 1755,1420 1756,1413C1756,1405 1757,1396 1758,1389C1759,1382 1761,1374 1761,1371" stroke="#f6ac70" stroke-width="1.2" stroke-opacity=".8"/>
<path d="M1756.5,1375C1758,1378 1764,1388 1768,1395C1771,1402 1774,1411 1777,1418C1780,1425 1782,1432 1785,1438C1788,1445 1790,1451 1794,1455C1798,1460 1807,1463 1809,1465" stroke="#e84828" stroke-width="17.0"/>
<path d="M1761.7,1372.1C1764,1376 1770,1385 1773,1393C1777,1400 1780,1408 1783,1416C1785,1423 1787,1430 1790,1436C1792,1442 1794,1448 1798,1452C1801,1456 1810,1459 1812,1460" stroke="#cc3416" stroke-width="3.4"/>
<path d="M1753.4,1376.7C1755,1380 1761,1390 1765,1397C1769,1404 1772,1411 1775,1419C1778,1426 1779,1433 1782,1440C1785,1446 1787,1453 1792,1458C1796,1462 1805,1465 1808,1467" stroke="#ee7b64" stroke-width="2.2"/>
<path d="M1756.8,1374.8C1759,1378 1765,1388 1768,1395C1772,1402 1774,1411 1777,1418C1780,1425 1782,1432 1785,1438C1788,1444 1792,1449 1796,1454C1800,1458 1807,1463 1809,1465" stroke="#a72b12" stroke-width="1.2" stroke-opacity=".8"/>
<path d="M1751.6,1377.7C1753,1381 1758,1391 1762,1398C1765,1405 1769,1413 1772,1420C1775,1427 1776,1435 1778,1441C1781,1448 1784,1455 1789,1460C1793,1465 1803,1469 1805,1471" stroke="#ba3014" stroke-width="1.4" stroke-opacity=".8"/>
<path d="M1794.1,1399.4C1795,1402 1799,1410 1802,1414C1805,1418 1809,1424 1813,1425C1817,1427 1823,1420 1826,1422C1830,1423 1832,1428 1834,1433C1835,1438 1837,1445 1835,1450C1834,1455 1829,1460 1824,1463C1820,1466 1814,1467 1809,1467C1804,1467 1797,1464 1794,1463" stroke="#f01808" stroke-width="14.0"/>
<path d="M1789.9,1401.6C1791,1404 1795,1412 1799,1416C1802,1421 1808,1427 1812,1429C1816,1430 1822,1424 1825,1425C1828,1426 1829,1430 1830,1434C1831,1438 1832,1444 1831,1448C1830,1453 1825,1457 1822,1459C1818,1461 1814,1463 1809,1463C1805,1463 1798,1459 1795,1458" stroke="#c41407" stroke-width="2.8"/>
<path d="M1795.5,1398.7C1797,1401 1801,1409 1804,1413C1807,1417 1810,1422 1813,1424C1817,1425 1823,1418 1827,1419C1831,1421 1834,1427 1836,1432C1838,1437 1840,1445 1838,1451C1836,1456 1830,1462 1826,1465C1821,1468 1815,1470 1809,1470C1804,1470 1796,1466 1794,1465" stroke="#f94e42" stroke-width="1.8"/>
<path d="M1792.8,1400.1C1794,1402 1798,1410 1802,1414C1805,1418 1809,1424 1813,1425C1817,1427 1822,1422 1826,1423C1829,1424 1832,1429 1833,1433C1835,1437 1837,1445 1835,1450C1834,1455 1829,1460 1824,1463C1820,1466 1814,1467 1809,1467C1804,1467 1797,1462 1795,1461" stroke="#9c1005" stroke-width="1.2" stroke-opacity=".8"/>
<path d="M1798.4,1397.2C1799,1400 1802,1408 1805,1412C1808,1416 1810,1420 1814,1421C1818,1422 1824,1415 1828,1417C1832,1419 1836,1426 1838,1431C1840,1437 1843,1446 1841,1451C1839,1457 1832,1464 1827,1467C1821,1470 1815,1471 1809,1471C1803,1472 1795,1469 1793,1469" stroke="#b01206" stroke-width="1.2" stroke-opacity=".8"/>
<path d="M1809.2,1436.6C1811,1438 1817,1442 1820,1444C1824,1447 1827,1450 1828,1452" stroke="#f01c0c" stroke-width="16.0"/>
<path d="M1811.3,1433.4C1813,1434 1820,1438 1824,1440C1827,1442 1830,1446 1832,1448" stroke="#c4170a" stroke-width="3.2"/>
<path d="M1808.2,1438.1C1810,1439 1816,1443 1819,1446C1822,1448 1825,1452 1826,1453" stroke="#f65548" stroke-width="2.1"/>
<path d="M1809.1,1436.7C1811,1438 1818,1441 1821,1443C1825,1445 1828,1449 1829,1451" stroke="#9d1208" stroke-width="1.2" stroke-opacity=".8"/>
<path d="M1805.7,1441.9C1807,1443 1813,1447 1816,1449C1819,1451 1823,1454 1825,1455" stroke="#b11509" stroke-width="1.3" stroke-opacity=".8"/>
<path d="M1811.1,1388.1L1814.8,1406.5" stroke="#f02010" stroke-width="5.0"/>
<path d="M1828,1399.4L1824.2,1410.3" stroke="#f02010" stroke-width="5.0"/>
<path d="M1725.3,1239.9C1722,1242 1710,1254 1703,1255C1695,1256 1687,1244 1680,1247C1674,1251 1670,1273 1664,1276C1658,1278 1649,1260 1643,1262C1636,1265 1633,1284 1626,1291C1620,1299 1612,1301 1605,1306C1598,1311 1589,1315 1582,1322C1576,1328 1570,1342 1567,1346" stroke="#e8a010" stroke-width="20.0"/>
<path d="M1728.4,1244.6C1724,1247 1711,1260 1704,1261C1696,1263 1689,1249 1683,1253C1677,1256 1673,1280 1667,1282C1660,1285 1651,1266 1645,1268C1639,1270 1638,1289 1632,1296C1626,1303 1616,1306 1608,1311C1601,1316 1593,1319 1587,1326C1581,1332 1576,1346 1573,1350" stroke="#bd820d" stroke-width="4.0"/>
<path d="M1723.9,1237.8C1720,1240 1710,1250 1702,1252C1695,1253 1686,1242 1679,1245C1672,1248 1669,1270 1663,1272C1656,1274 1648,1257 1641,1259C1635,1262 1630,1281 1624,1289C1617,1296 1611,1299 1604,1305C1597,1310 1587,1313 1581,1320C1574,1326 1567,1340 1564,1344" stroke="#f2ba48" stroke-width="2.6"/>
<path d="M1725.5,1240.1C1722,1243 1711,1255 1703,1256C1695,1257 1686,1243 1680,1247C1674,1250 1671,1275 1665,1278C1659,1281 1649,1261 1643,1263C1637,1266 1634,1285 1628,1293C1622,1300 1613,1303 1606,1308C1599,1313 1590,1316 1584,1323C1578,1329 1571,1343 1569,1347" stroke="#97680a" stroke-width="1.4" stroke-opacity=".8"/>
<path d="M1721.9,1234.8C1719,1237 1709,1248 1702,1249C1694,1249 1683,1237 1677,1240C1670,1244 1668,1267 1662,1270C1656,1272 1647,1253 1640,1256C1633,1258 1626,1278 1620,1286C1613,1293 1607,1294 1600,1300C1593,1305 1585,1310 1578,1317C1571,1324 1563,1338 1561,1342" stroke="#aa750c" stroke-width="1.6" stroke-opacity=".8"/>
<path d="M1730.1,1247.1C1726,1250 1712,1262 1704,1264C1697,1265 1690,1251 1684,1255C1678,1258 1673,1280 1667,1283C1661,1286 1652,1269 1646,1271C1640,1273 1639,1289 1633,1297C1627,1304 1618,1309 1610,1314C1603,1319 1595,1321 1589,1327C1583,1334 1577,1347 1574,1350" stroke="#f5c669" stroke-width="1.2" stroke-opacity=".8"/>
<path d="M1715.9,1245.6L1719.7,1279.4" stroke="#c88408" stroke-width="8.0"/>
<path d="M1689.6,1245.6C1686,1249 1678,1262 1671,1264C1664,1266 1652,1258 1648,1257" stroke="#f4b828" stroke-width="7.0"/>
<path d="M1599.4,1313.2C1603,1314 1612,1320 1618,1321C1624,1321 1634,1318 1637,1317" stroke="#d89010" stroke-width="14.0"/>
<path d="M1597.9,1316.9C1601,1318 1611,1325 1618,1325C1624,1326 1634,1321 1638,1320" stroke="#ad740d" stroke-width="2.8"/>
<path d="M1600,1311.7C1603,1313 1612,1318 1618,1318C1625,1319 1634,1316 1637,1315" stroke="#f0af3a" stroke-width="1.8"/>
<path d="M1598.9,1314.5C1602,1316 1612,1321 1618,1321C1625,1322 1634,1318 1637,1318" stroke="#875a0a" stroke-width="1.2" stroke-opacity=".8"/>
<path d="M1601,1309.3C1604,1310 1613,1315 1619,1316C1625,1316 1633,1313 1636,1312" stroke="#9a670b" stroke-width="1.2" stroke-opacity=".8"/>
<path d="M1768.6,1196.7C1775,1199 1794,1207 1806,1208C1819,1209 1832,1199 1844,1200C1855,1202 1869,1213 1874,1215" stroke="#f09818" stroke-width="12.0"/>
<path d="M1767.6,1199.8C1774,1202 1793,1211 1806,1212C1819,1213 1832,1203 1843,1204C1854,1205 1867,1217 1872,1219" stroke="#cd7f0d" stroke-width="2.4"/>
<path d="M1769.2,1194.7C1775,1197 1794,1206 1806,1207C1819,1207 1832,1198 1844,1199C1855,1200 1870,1211 1875,1213" stroke="#f4b456" stroke-width="1.6"/>
<path d="M1768.4,1197.4C1775,1199 1794,1208 1806,1209C1819,1209 1832,1199 1844,1200C1855,1201 1869,1213 1874,1215" stroke="#a6670b" stroke-width="1.2" stroke-opacity=".8"/>
<path d="M1769.7,1193C1776,1195 1794,1202 1806,1203C1819,1203 1833,1194 1844,1196C1856,1197 1871,1208 1876,1211" stroke="#ba730c" stroke-width="1.2" stroke-opacity=".8"/>
<path d="M1783.6,1260.6C1790,1263 1809,1274 1821,1276C1834,1277 1853,1269 1859,1268" stroke="#f0a020" stroke-width="12.0"/>
<path d="M1782.2,1264.1C1789,1267 1808,1278 1821,1279C1834,1280 1853,1273 1860,1272" stroke="#d4880e" stroke-width="2.4"/>
<path d="M1784.1,1259.4C1790,1262 1809,1272 1821,1273C1834,1275 1852,1268 1859,1267" stroke="#f4ba5e" stroke-width="1.6"/>
<path d="M1783.6,1260.7C1790,1263 1809,1274 1821,1276C1834,1277 1853,1270 1859,1269" stroke="#ae6f0c" stroke-width="1.2" stroke-opacity=".8"/>
<path d="M1785.3,1256.3C1791,1259 1810,1270 1822,1271C1834,1273 1852,1265 1858,1264" stroke="#c17c0d" stroke-width="1.2" stroke-opacity=".8"/>
</g>
<g id="prot3" fill="none" stroke-linecap="round" stroke-linejoin="round" filter="url(#pblur)">
<path d="M1712.2,2076.3C1714,2080 1717,2092 1720,2100C1724,2108 1730,2118 1734,2124C1739,2131 1746,2138 1748,2140" stroke="#9434f0" stroke-width="30.0"/>
<path d="M1720.3,2073.6C1721,2078 1724,2090 1727,2097C1731,2105 1738,2112 1742,2119C1747,2125 1753,2132 1755,2135" stroke="#7d11e5" stroke-width="6.0"/>
<path d="M1706.3,2078.3C1708,2082 1710,2095 1714,2103C1719,2111 1726,2120 1731,2127C1736,2133 1742,2141 1744,2144" stroke="#b572f5" stroke-width="3.9"/>
<path d="M1713,2076C1714,2080 1718,2092 1722,2100C1725,2108 1729,2118 1733,2125C1738,2132 1747,2137 1749,2140" stroke="#690ebf" stroke-width="2.1" stroke-opacity=".8"/>
<path d="M1701.9,2079.7C1703,2084 1705,2097 1708,2106C1712,2114 1719,2124 1725,2131C1730,2138 1738,2145 1741,2147" stroke="#7310d2" stroke-width="2.4" stroke-opacity=".8"/>
<path d="M1725.2,2071.9C1726,2076 1729,2087 1732,2095C1736,2102 1742,2110 1746,2116C1750,2122 1756,2129 1758,2132" stroke="#c693f7" stroke-width="1.8" stroke-opacity=".8"/>
<path d="M1706.2,2064.3C1709,2066 1719,2068 1724,2072C1730,2076 1738,2086 1740,2088" stroke="#9c3cf2" stroke-width="14.0"/>
<path d="M1704.2,2068.6C1707,2070 1716,2072 1722,2075C1728,2079 1735,2088 1737,2091" stroke="#8611ef" stroke-width="2.8"/>
<path d="M1706.9,2062.6C1710,2064 1720,2066 1726,2070C1731,2074 1739,2084 1741,2087" stroke="#bc7af6" stroke-width="1.8"/>
<path d="M1706.1,2064.5C1709,2066 1718,2069 1723,2074C1729,2078 1736,2087 1739,2090" stroke="#710dca" stroke-width="1.2" stroke-opacity=".8"/>
<path d="M1707.9,2060.4C1711,2062 1722,2063 1728,2067C1734,2071 1741,2082 1744,2084" stroke="#7c0fdd" stroke-width="1.2" stroke-opacity=".8"/>
<path d="M1744.3,2164.5C1748,2166 1757,2173 1764,2173C1772,2173 1783,2163 1788,2165C1794,2166 1798,2176 1796,2181C1795,2185 1783,2191 1780,2193" stroke="#8a30f0" stroke-width="26.0"/>
<path d="M1741.1,2172.5C1745,2174 1757,2181 1764,2180C1772,2180 1782,2172 1787,2172C1791,2171 1791,2176 1789,2179C1787,2181 1778,2185 1775,2186" stroke="#7310e2" stroke-width="5.2"/>
<path d="M1745.7,2160.8C1749,2162 1757,2168 1764,2168C1772,2168 1783,2159 1789,2161C1795,2163 1800,2176 1799,2181C1798,2187 1786,2194 1783,2196" stroke="#ad6ef4" stroke-width="3.4"/>
<path d="M1743.6,2166.3C1747,2168 1757,2175 1764,2175C1772,2175 1782,2166 1788,2167C1793,2168 1798,2176 1797,2181C1796,2185 1783,2191 1781,2193" stroke="#5f0ebc" stroke-width="1.8" stroke-opacity=".8"/>
<path d="M1747.4,2156.6C1750,2157 1757,2161 1764,2161C1772,2161 1784,2151 1791,2155C1798,2159 1807,2176 1806,2183C1805,2191 1789,2197 1785,2199" stroke="#690fcf" stroke-width="2.1" stroke-opacity=".8"/>
<path d="M1739.8,2175.6C1744,2177 1757,2184 1764,2184C1772,2184 1782,2177 1786,2176C1789,2175 1787,2176 1785,2177C1783,2178 1775,2182 1773,2183" stroke="#c08ff7" stroke-width="1.6" stroke-opacity=".8"/>
<path d="M1784.4,2054.2C1787,2055 1796,2057 1800,2060C1805,2063 1808,2068 1812,2072C1816,2076 1822,2082 1824,2084" stroke="#a040f0" stroke-width="12.0"/>
<path d="M1783,2058C1786,2059 1794,2060 1799,2063C1803,2066 1806,2070 1810,2074C1814,2078 1820,2085 1822,2087" stroke="#8b15ed" stroke-width="2.4"/>
<path d="M1785.1,2052.3C1788,2053 1796,2056 1801,2059C1806,2062 1810,2066 1814,2071C1818,2075 1824,2081 1825,2083" stroke="#bf7df5" stroke-width="1.6"/>
<path d="M1784.5,2053.8C1787,2055 1795,2058 1800,2061C1805,2064 1808,2069 1812,2073C1816,2077 1822,2082 1824,2084" stroke="#7510c9" stroke-width="1.2" stroke-opacity=".8"/>
<path d="M1785.7,2050.7C1789,2052 1798,2054 1803,2057C1808,2060 1812,2065 1816,2069C1820,2073 1826,2079 1828,2081" stroke="#8011dc" stroke-width="1.2" stroke-opacity=".8"/>
<path d="M1764.3,2120.4C1767,2123 1776,2131 1780,2136C1785,2142 1790,2150 1792,2152" stroke="#9838f0" stroke-width="16.0"/>
<path d="M1761.6,2123.2C1764,2126 1773,2134 1777,2139C1782,2144 1787,2153 1788,2155" stroke="#8212e9" stroke-width="3.2"/>
<path d="M1765.8,2118.9C1769,2122 1778,2129 1782,2135C1787,2140 1793,2148 1795,2151" stroke="#b876f5" stroke-width="2.1"/>
<path d="M1763.7,2121C1766,2124 1776,2131 1780,2137C1785,2142 1789,2151 1791,2154" stroke="#6d0fc3" stroke-width="1.2" stroke-opacity=".8"/>
<path d="M1767.8,2116.9C1771,2120 1780,2127 1785,2133C1790,2138 1796,2146 1798,2148" stroke="#7710d6" stroke-width="1.3" stroke-opacity=".8"/>
<path d="M1760.3,2194C1762,2197 1768,2206 1772,2210C1777,2214 1783,2219 1788,2220C1794,2221 1799,2218 1804,2216C1810,2214 1818,2208 1820,2206" stroke="#8a30f0" stroke-width="20.0"/>
<path d="M1755.9,2197.3C1758,2200 1762,2211 1768,2215C1773,2220 1781,2224 1787,2225C1794,2226 1801,2225 1807,2223C1813,2220 1821,2214 1824,2212" stroke="#7310e2" stroke-width="4.0"/>
<path d="M1763.2,2191.8C1765,2195 1770,2204 1774,2209C1778,2213 1784,2217 1789,2218C1794,2219 1798,2215 1803,2212C1808,2210 1816,2205 1819,2204" stroke="#ad6ef4" stroke-width="2.6"/>
<path d="M1759.9,2194.3C1762,2197 1767,2206 1772,2211C1776,2215 1782,2222 1788,2223C1793,2224 1799,2219 1805,2216C1810,2214 1818,2209 1821,2207" stroke="#5f0ebc" stroke-width="1.4" stroke-opacity=".8"/>
<path d="M1766.5,2189.3C1768,2192 1773,2201 1777,2205C1781,2209 1786,2213 1790,2213C1794,2214 1796,2210 1801,2208C1805,2206 1814,2202 1817,2200" stroke="#690fcf" stroke-width="1.6" stroke-opacity=".8"/>
<path d="M1752.6,2199.8C1755,2202 1761,2211 1767,2216C1773,2221 1780,2227 1787,2229C1794,2230 1802,2227 1808,2225C1815,2222 1823,2216 1825,2214" stroke="#c08ff7" stroke-width="1.2" stroke-opacity=".8"/>
<path d="M1788.4,2220.1L1792.4,2232.1" stroke="#8a30f0" stroke-width="10.0"/>
<path d="M1791.1,2219.2L1795.6,2231" stroke="#7310e2" stroke-width="2.0"/>
<path d="M1787.2,2220.5L1790.4,2232.8" stroke="#ad6ef4" stroke-width="1.3"/>
<path d="M1836.5,2084.3C1839,2083 1847,2077 1853,2077C1858,2076 1865,2077 1871,2080C1876,2084 1881,2090 1885,2096C1888,2102 1892,2110 1893,2116C1893,2123 1891,2130 1889,2136C1887,2142 1883,2147 1881,2152C1879,2158 1877,2166 1877,2169" stroke="#c030f0" stroke-width="20.0"/>
<path d="M1833.5,2077.9C1837,2077 1845,2072 1852,2071C1859,2071 1868,2071 1874,2074C1881,2078 1886,2086 1890,2093C1894,2100 1898,2108 1899,2116C1899,2123 1897,2132 1895,2138C1892,2145 1887,2149 1885,2154C1884,2160 1884,2168 1883,2170" stroke="#ad10e2" stroke-width="4.0"/>
<path d="M1837.4,2086.2C1840,2085 1848,2079 1853,2079C1858,2078 1864,2081 1868,2084C1873,2087 1879,2092 1882,2098C1885,2103 1888,2111 1889,2117C1889,2123 1887,2130 1885,2135C1884,2141 1880,2146 1878,2152C1876,2157 1874,2165 1873,2168" stroke="#d36ef4" stroke-width="2.6"/>
<path d="M1836.3,2084C1839,2083 1846,2076 1852,2075C1858,2074 1867,2075 1872,2078C1877,2082 1881,2090 1884,2097C1888,2103 1893,2110 1894,2116C1895,2123 1892,2131 1890,2137C1888,2143 1885,2148 1883,2153C1881,2159 1878,2166 1877,2169" stroke="#900ebc" stroke-width="1.4" stroke-opacity=".8"/>
<path d="M1840.1,2092C1842,2091 1849,2086 1853,2085C1858,2084 1862,2084 1867,2087C1871,2089 1876,2095 1879,2100C1882,2105 1885,2111 1886,2117C1886,2123 1884,2129 1882,2134C1879,2140 1875,2144 1873,2150C1871,2155 1871,2164 1871,2167" stroke="#9f0fcf" stroke-width="1.6" stroke-opacity=".8"/>
<path d="M1832.6,2076.2C1836,2075 1844,2069 1852,2068C1859,2068 1869,2068 1875,2072C1882,2076 1887,2085 1891,2092C1896,2099 1901,2108 1901,2116C1902,2123 1898,2132 1896,2139C1894,2146 1891,2150 1889,2156C1888,2161 1886,2168 1886,2171" stroke="#dd8ff7" stroke-width="1.2" stroke-opacity=".8"/>
<path d="M1860.6,2100.4C1863,2102 1873,2107 1877,2112C1881,2117 1883,2127 1885,2130" stroke="#b828e8" stroke-width="22.0"/>
<path d="M1865.1,2094.3C1868,2097 1878,2103 1882,2108C1886,2114 1889,2124 1891,2128" stroke="#9f16cc" stroke-width="4.4"/>
<path d="M1858.7,2102.8C1861,2105 1869,2110 1873,2115C1877,2120 1881,2129 1883,2131" stroke="#cc64ee" stroke-width="2.9"/>
<path d="M1862.3,2098C1865,2100 1874,2106 1879,2111C1883,2116 1885,2126 1887,2129" stroke="#8212a7" stroke-width="1.5" stroke-opacity=".8"/>
<path d="M1855.2,2107.4C1858,2109 1867,2113 1871,2117C1874,2121 1876,2131 1877,2134" stroke="#9014ba" stroke-width="1.8" stroke-opacity=".8"/>
<path d="M1865.9,2093.2C1869,2095 1880,2101 1884,2106C1889,2112 1892,2123 1893,2127" stroke="#d684f2" stroke-width="1.3" stroke-opacity=".8"/>
<path d="M1844.5,2100.4C1847,2104 1852,2114 1857,2120C1861,2127 1868,2137 1871,2140" stroke="#c438f2" stroke-width="12.0"/>
<path d="M1840.9,2102.5C1843,2106 1849,2115 1854,2122C1858,2129 1865,2139 1867,2143" stroke="#b60fed" stroke-width="2.4"/>
<path d="M1846.4,2099.2C1848,2103 1854,2113 1858,2119C1863,2126 1870,2136 1873,2139" stroke="#d676f6" stroke-width="1.6"/>
<path d="M1844.8,2100.2C1847,2104 1851,2114 1855,2121C1860,2128 1868,2137 1871,2140" stroke="#980dc6" stroke-width="1.2" stroke-opacity=".8"/>
<path d="M1847.7,2098.5C1850,2102 1856,2111 1860,2118C1865,2124 1872,2134 1875,2138" stroke="#a70ed9" stroke-width="1.2" stroke-opacity=".8"/>
<path d="M1888.6,2088.3L1916.7,2074.3" stroke="#c840f4" stroke-width="4.0"/>
<path d="M1892.6,2084.3L1926.7,2080.3" stroke="#c840f4" stroke-width="4.0"/>
<path d="M1900.7,2104.4L1932.7,2090.3" stroke="#c840f4" stroke-width="4.0"/>
<path d="M1900.7,2124.4L1930.7,2124.4" stroke="#c840f4" stroke-width="4.0"/>
<path d="M1896.6,2140.5L1908.7,2184.6" stroke="#c840f4" stroke-width="4.0"/>
<path d="M1880.6,2160.5L1884.6,2194.6" stroke="#c840f4" stroke-width="4.0"/>
<path d="M1888.6,2156.5L1902.7,2176.5" stroke="#c840f4" stroke-width="4.0"/>
<path d="M1840.5,2080.3L1852.5,2072.3" stroke="#c840f4" stroke-width="4.0"/>
<path d="M1652,2006.5C1651,2010 1646,2021 1644,2028C1642,2036 1642,2044 1642,2052C1642,2061 1644,2072 1646,2080C1648,2088 1651,2097 1652,2100" stroke="#20a0f0" stroke-width="12.0"/>
<path d="M1649.3,2005.5C1648,2009 1643,2020 1641,2027C1639,2035 1638,2043 1638,2052C1638,2061 1641,2073 1642,2081C1644,2089 1647,2098 1648,2102" stroke="#0e88d4" stroke-width="2.4"/>
<path d="M1654,2007.2C1653,2011 1647,2021 1645,2028C1644,2036 1644,2044 1645,2052C1645,2061 1646,2072 1648,2080C1649,2088 1653,2096 1654,2100" stroke="#5ebaf4" stroke-width="1.6"/>
<path d="M1652.1,2006.5C1650,2010 1644,2020 1643,2028C1641,2035 1641,2043 1642,2052C1642,2061 1643,2073 1645,2081C1646,2089 1651,2097 1652,2100" stroke="#0c6fae" stroke-width="1.2" stroke-opacity=".8"/>
<path d="M1655.8,2007.9C1654,2011 1649,2022 1648,2029C1646,2036 1646,2044 1646,2052C1647,2060 1649,2071 1651,2079C1652,2087 1655,2096 1656,2099" stroke="#0d7cc1" stroke-width="1.2" stroke-opacity=".8"/>
<path d="M1640,2140.5C1642,2144 1647,2154 1652,2161C1657,2167 1662,2173 1668,2177C1674,2181 1681,2183 1688,2185C1695,2186 1705,2186 1708,2187" stroke="#28c0f4" stroke-width="12.0"/>
<path d="M1636.5,2142.5C1639,2146 1644,2157 1649,2163C1654,2169 1660,2175 1666,2179C1673,2184 1680,2186 1687,2187C1694,2189 1704,2190 1708,2191" stroke="#0cace3" stroke-width="2.4"/>
<path d="M1642.1,2139.2C1644,2143 1649,2153 1654,2159C1658,2165 1664,2171 1670,2174C1675,2178 1682,2181 1689,2182C1695,2184 1705,2184 1708,2184" stroke="#67d2f7" stroke-width="1.6"/>
<path d="M1639.5,2140.7C1642,2144 1647,2154 1652,2160C1657,2166 1662,2173 1668,2177C1674,2181 1681,2184 1688,2186C1695,2187 1705,2186 1708,2186" stroke="#0a8ebc" stroke-width="1.2" stroke-opacity=".8"/>
<path d="M1644.3,2137.9C1646,2141 1651,2152 1656,2158C1660,2164 1665,2170 1670,2173C1676,2177 1683,2179 1689,2181C1695,2182 1705,2182 1709,2182" stroke="#0b9dcf" stroke-width="1.2" stroke-opacity=".8"/>
<path d="M1668.1,2112.4C1667,2116 1665,2130 1664,2136C1663,2143 1661,2150 1660,2152" stroke="#30c4f6" stroke-width="8.0"/>
<path d="M1616.7,1996.5C1615,2000 1610,2010 1609,2016C1608,2023 1609,2030 1611,2036C1613,2042 1616,2048 1621,2052C1626,2056 1637,2059 1640,2060" stroke="#20e080" stroke-width="14.0"/>
<path d="M1620.2,1997.9C1619,2001 1614,2011 1613,2017C1612,2023 1614,2029 1615,2035C1617,2040 1619,2045 1623,2049C1628,2053 1639,2055 1642,2056" stroke="#1ab869" stroke-width="2.8"/>
<path d="M1615.4,1996C1614,1999 1608,2009 1607,2016C1606,2023 1606,2031 1608,2037C1610,2043 1614,2050 1619,2054C1625,2058 1636,2061 1639,2062" stroke="#5ae8a1" stroke-width="1.8"/>
<path d="M1616.6,1996.4C1616,2000 1611,2010 1610,2016C1609,2023 1608,2030 1610,2036C1612,2042 1616,2048 1621,2052C1626,2055 1637,2058 1640,2060" stroke="#159555" stroke-width="1.2" stroke-opacity=".8"/>
<path d="M1611.2,1994.2C1610,1998 1604,2008 1603,2015C1602,2023 1604,2031 1606,2038C1608,2044 1613,2051 1618,2055C1623,2060 1635,2063 1638,2064" stroke="#17a75f" stroke-width="1.2" stroke-opacity=".8"/>
<path d="M1628.8,1984.1C1628,1988 1624,2001 1625,2008C1625,2015 1631,2025 1633,2028" stroke="#28e488" stroke-width="14.0"/>
<path d="M1625,1983.4C1624,1988 1619,2001 1620,2009C1621,2016 1627,2026 1628,2030" stroke="#19c571" stroke-width="2.8"/>
<path d="M1630.4,1984.3C1630,1988 1626,2001 1626,2008C1627,2015 1634,2024 1635,2027" stroke="#63eba9" stroke-width="1.8"/>
<path d="M1628.2,1984C1627,1988 1622,2001 1623,2008C1624,2016 1631,2025 1633,2028" stroke="#14a15c" stroke-width="1.2" stroke-opacity=".8"/>
<path d="M1633.7,1984.9C1633,1989 1629,2001 1629,2008C1630,2015 1636,2023 1637,2027" stroke="#17b367" stroke-width="1.2" stroke-opacity=".8"/>
<path d="M1588.7,2056.6C1591,2058 1599,2062 1605,2064C1610,2067 1615,2070 1621,2072C1627,2075 1637,2079 1640,2080" stroke="#20dc78" stroke-width="14.0"/>
<path d="M1586.7,2060.7C1589,2062 1598,2065 1603,2068C1608,2070 1613,2073 1619,2076C1625,2079 1635,2082 1639,2084" stroke="#1ab462" stroke-width="2.8"/>
<path d="M1589.5,2055C1592,2056 1600,2060 1606,2062C1611,2065 1615,2068 1621,2071C1627,2074 1637,2077 1641,2079" stroke="#58e79b" stroke-width="1.8"/>
<path d="M1587.9,2058.3C1591,2059 1599,2063 1604,2065C1610,2068 1614,2071 1620,2074C1626,2076 1637,2079 1640,2080" stroke="#15904f" stroke-width="1.2" stroke-opacity=".8"/>
<path d="M1591.3,2051.1C1594,2053 1601,2057 1607,2060C1612,2063 1617,2064 1623,2067C1629,2070 1639,2074 1642,2076" stroke="#18a258" stroke-width="1.2" stroke-opacity=".8"/>
<path d="M1570.6,2076.7C1574,2077 1584,2078 1591,2080C1597,2082 1605,2085 1611,2088C1616,2092 1622,2098 1625,2100" stroke="#24e080" stroke-width="14.0"/>
<path d="M1571.5,2071.8C1575,2073 1585,2075 1592,2077C1599,2079 1607,2081 1613,2084C1619,2087 1625,2095 1628,2097" stroke="#1bbc69" stroke-width="2.8"/>
<path d="M1570.3,2078.6C1574,2079 1583,2081 1590,2083C1596,2085 1604,2087 1610,2090C1615,2093 1621,2100 1623,2102" stroke="#5ee8a2" stroke-width="1.8"/>
<path d="M1570.8,2075.6C1574,2076 1584,2077 1591,2079C1598,2081 1606,2084 1611,2087C1617,2090 1624,2097 1626,2099" stroke="#159855" stroke-width="1.2" stroke-opacity=".8"/>
<path d="M1569.9,2080.9C1573,2082 1583,2083 1589,2085C1596,2087 1603,2090 1608,2093C1613,2096 1619,2103 1621,2105" stroke="#18aa5f" stroke-width="1.2" stroke-opacity=".8"/>
<path d="M1572.6,2100.4C1575,2102 1581,2109 1585,2109C1588,2109 1591,2102 1593,2100" stroke="#20d870" stroke-width="4.0"/>
<path d="M1640,1972.4C1643,1972 1653,1968 1660,1968C1667,1969 1673,1973 1680,1976C1687,1980 1693,1986 1700,1990C1707,1994 1717,1998 1720,2000" stroke="#30e090" stroke-width="30.0"/>
<path d="M1641.7,1981.1C1645,1980 1653,1976 1659,1977C1665,1977 1670,1980 1676,1984C1682,1987 1689,1994 1695,1998C1702,2002 1712,2007 1716,2009" stroke="#1dc579" stroke-width="6.0"/>
<path d="M1639,1967.3C1643,1967 1653,1962 1661,1962C1668,1963 1676,1968 1683,1972C1690,1976 1696,1983 1702,1987C1709,1991 1719,1994 1722,1996" stroke="#6ae9af" stroke-width="3.9"/>
<path d="M1640.6,1975.5C1644,1974 1654,1969 1660,1969C1666,1970 1672,1975 1679,1979C1685,1982 1693,1986 1700,1990C1707,1994 1716,2000 1719,2002" stroke="#18a163" stroke-width="2.1" stroke-opacity=".8"/>
<path d="M1637.4,1959.5C1641,1959 1653,1954 1661,1956C1669,1957 1677,1964 1684,1968C1692,1972 1699,1976 1706,1980C1713,1984 1722,1989 1725,1991" stroke="#1bb36e" stroke-width="2.4" stroke-opacity=".8"/>
<path d="M1642.8,1986.4C1645,1985 1654,1980 1659,1981C1664,1981 1669,1984 1674,1987C1680,1991 1687,1997 1693,2001C1700,2005 1711,2009 1715,2011" stroke="#89edc0" stroke-width="1.8" stroke-opacity=".8"/>
<path d="M1640,1988.1C1643,1988 1651,1988 1656,1990C1661,1992 1669,1997 1672,1998" stroke="#28d888" stroke-width="16.0"/>
<path d="M1640.7,1982.7C1643,1983 1652,1984 1657,1986C1663,1988 1672,1992 1674,1993" stroke="#20b270" stroke-width="3.2"/>
<path d="M1639.8,1990C1642,1990 1650,1991 1655,1993C1660,1994 1669,1999 1671,2000" stroke="#60e2a7" stroke-width="2.1"/>
<path d="M1640,1987.7C1643,1988 1651,1989 1656,1990C1662,1991 1670,1995 1673,1996" stroke="#1a8f5a" stroke-width="1.2" stroke-opacity=".8"/>
<path d="M1639.2,1994.2C1642,1994 1649,1994 1654,1995C1660,1997 1667,2002 1670,2003" stroke="#1da165" stroke-width="1.3" stroke-opacity=".8"/>
<path d="M1720.2,2000.1C1723,1999 1730,1993 1736,1992C1742,1992 1751,1992 1756,1994C1762,1997 1768,2002 1768,2006C1769,2010 1765,2016 1760,2018C1756,2020 1746,2021 1740,2020C1734,2019 1728,2015 1724,2012C1721,2009 1721,2002 1720,2000" stroke="#28e0a0" stroke-width="14.0"/>
<path d="M1722.3,2004.6C1725,2003 1731,1997 1737,1996C1742,1995 1750,1997 1754,1999C1759,2000 1764,2004 1764,2007C1765,2009 1762,2012 1758,2014C1754,2015 1746,2017 1741,2017C1736,2016 1730,2012 1727,2009C1724,2006 1724,2001 1724,1999" stroke="#1bbf86" stroke-width="2.8"/>
<path d="M1719.3,1998.2C1722,1997 1730,1992 1736,1991C1742,1990 1751,1991 1757,1993C1763,1996 1769,2001 1770,2006C1771,2010 1766,2017 1761,2020C1756,2023 1746,2024 1740,2023C1733,2021 1726,2017 1723,2014C1719,2010 1719,2003 1718,2001" stroke="#62e8ba" stroke-width="1.8"/>
<path d="M1720.6,2001C1723,2000 1731,1995 1736,1994C1742,1993 1751,1994 1756,1996C1761,1998 1766,2003 1767,2006C1767,2010 1764,2015 1760,2017C1756,2019 1746,2020 1741,2019C1735,2018 1728,2014 1725,2011C1722,2008 1721,2002 1721,2000" stroke="#169b6d" stroke-width="1.2" stroke-opacity=".8"/>
<path d="M1718.2,1996C1721,1994 1729,1988 1735,1987C1742,1986 1752,1987 1758,1990C1764,1993 1772,2000 1773,2005C1773,2011 1768,2019 1762,2022C1757,2025 1746,2026 1740,2024C1733,2023 1725,2019 1721,2016C1717,2012 1716,2004 1715,2002" stroke="#19ad79" stroke-width="1.2" stroke-opacity=".8"/>
<path d="M1734.2,2036.2C1737,2035 1745,2028 1752,2027C1759,2025 1771,2026 1776,2029C1782,2031 1784,2036 1784,2040C1784,2044 1781,2050 1776,2052C1772,2055 1763,2055 1756,2054C1750,2054 1740,2051 1736,2048C1733,2045 1735,2038 1734,2036" stroke="#20e0a8" stroke-width="14.0"/>
<path d="M1736.6,2040.6C1739,2039 1747,2032 1753,2030C1759,2029 1770,2031 1774,2033C1779,2035 1780,2038 1780,2040C1780,2043 1778,2047 1774,2048C1771,2050 1763,2050 1757,2050C1751,2049 1742,2048 1739,2045C1735,2043 1738,2037 1738,2035" stroke="#1ab88a" stroke-width="2.8"/>
<path d="M1732.9,2033.8C1736,2032 1744,2025 1752,2024C1759,2023 1771,2024 1777,2027C1783,2030 1786,2036 1786,2040C1786,2045 1782,2051 1777,2054C1772,2056 1763,2058 1756,2057C1749,2057 1738,2054 1734,2050C1730,2047 1732,2039 1732,2037" stroke="#5ae8bf" stroke-width="1.8"/>
<path d="M1734.4,2036.6C1737,2035 1745,2029 1752,2027C1759,2026 1771,2026 1776,2028C1782,2030 1783,2036 1783,2040C1783,2044 1781,2050 1776,2052C1772,2054 1763,2055 1756,2054C1750,2053 1740,2051 1737,2048C1733,2045 1734,2038 1734,2036" stroke="#15956f" stroke-width="1.2" stroke-opacity=".8"/>
<path d="M1732.1,2032.2C1735,2030 1743,2022 1751,2021C1759,2019 1772,2020 1779,2023C1785,2027 1789,2035 1789,2040C1789,2046 1785,2054 1779,2058C1773,2061 1763,2061 1756,2060C1748,2059 1737,2056 1733,2052C1728,2049 1729,2040 1728,2037" stroke="#17a77d" stroke-width="1.2" stroke-opacity=".8"/>
<path d="M1760.3,2064.3C1764,2063 1774,2059 1780,2059C1787,2059 1796,2061 1800,2064C1804,2067 1804,2074 1804,2076" stroke="#20d8a0" stroke-width="12.0"/>
<path d="M1759.5,2061.2C1763,2060 1773,2055 1780,2055C1788,2055 1798,2058 1802,2061C1807,2065 1807,2073 1808,2075" stroke="#1ab082" stroke-width="2.4"/>
<path d="M1760.8,2066C1764,2065 1774,2060 1780,2060C1787,2060 1796,2063 1799,2066C1803,2068 1802,2075 1803,2077" stroke="#55e6ba" stroke-width="1.6"/>
<path d="M1760.4,2064.5C1764,2063 1774,2058 1780,2057C1787,2057 1797,2060 1801,2063C1805,2066 1805,2074 1805,2076" stroke="#158c68" stroke-width="1.2" stroke-opacity=".8"/>
<path d="M1761.3,2068C1765,2067 1774,2062 1780,2062C1786,2062 1794,2066 1797,2068C1801,2071 1800,2076 1800,2078" stroke="#179e75" stroke-width="1.2" stroke-opacity=".8"/>
<path d="M1700.2,2016.5C1703,2018 1711,2024 1716,2028C1721,2033 1728,2042 1730,2044" stroke="#24dca0" stroke-width="10.0"/>
<path d="M1701.8,2014.3C1704,2016 1713,2022 1718,2026C1723,2031 1730,2040 1732,2042" stroke="#1db584" stroke-width="2.0"/>
<path d="M1699.3,2017.8C1702,2020 1710,2025 1715,2030C1720,2034 1727,2043 1729,2045" stroke="#5de5b9" stroke-width="1.3"/>
<path d="M1640,2020.2C1642,2024 1651,2036 1652,2044C1653,2053 1649,2068 1648,2072" stroke="#1cd098" stroke-width="10.0"/>
<path d="M1637,2021.6C1639,2025 1648,2036 1649,2045C1650,2053 1646,2067 1646,2072" stroke="#17a87a" stroke-width="2.0"/>
<path d="M1641.5,2019.4C1643,2023 1652,2035 1653,2044C1655,2053 1650,2068 1649,2072" stroke="#48e6b5" stroke-width="1.3"/>
<path d="M1652,2006.5C1655,2005 1664,1998 1670,1998C1676,1999 1682,2006 1686,2012C1690,2018 1693,2028 1694,2036C1695,2044 1694,2052 1692,2060C1690,2068 1687,2076 1684,2084C1681,2092 1678,2100 1676,2108C1674,2116 1673,2124 1674,2132C1675,2140 1677,2148 1680,2156C1683,2165 1689,2173 1692,2181C1695,2188 1697,2197 1698,2200" stroke="#1870e8" stroke-width="14.0"/>
<path d="M1653.7,2010.2C1656,2009 1665,2002 1669,2003C1674,2004 1679,2009 1682,2015C1685,2020 1688,2029 1689,2037C1690,2044 1689,2052 1687,2059C1686,2067 1682,2075 1680,2083C1677,2091 1674,2099 1672,2108C1671,2116 1669,2124 1670,2133C1671,2141 1673,2150 1676,2158C1679,2166 1686,2175 1689,2182C1692,2189 1694,2198 1694,2201" stroke="#135cbf" stroke-width="2.8"/>
<path d="M1651,2004.3C1654,2003 1664,1995 1671,1996C1677,1997 1684,2004 1688,2011C1693,2017 1695,2028 1696,2036C1697,2044 1696,2053 1695,2061C1693,2069 1690,2077 1687,2085C1684,2093 1680,2101 1678,2109C1676,2117 1675,2125 1676,2132C1676,2140 1680,2148 1683,2156C1686,2163 1691,2173 1694,2180C1697,2187 1700,2196 1701,2199" stroke="#5495ee" stroke-width="1.8"/>
<path d="M1652,2006.5C1655,2005 1665,1997 1670,1998C1676,1999 1681,2006 1685,2013C1689,2019 1692,2028 1693,2036C1694,2044 1692,2052 1691,2060C1689,2068 1686,2076 1683,2084C1680,2092 1677,2100 1675,2108C1673,2116 1672,2124 1672,2133C1673,2141 1676,2149 1679,2157C1683,2165 1689,2173 1692,2181C1695,2188 1697,2197 1698,2200" stroke="#0f4a9a" stroke-width="1.2" stroke-opacity=".8"/>
<path d="M1650.2,2002.4C1654,2001 1664,1993 1671,1994C1677,1995 1686,2003 1690,2009C1695,2016 1697,2027 1698,2036C1699,2044 1698,2053 1697,2061C1695,2070 1692,2078 1689,2086C1687,2094 1683,2102 1682,2110C1680,2117 1679,2124 1679,2132C1680,2140 1681,2147 1684,2155C1687,2163 1693,2172 1696,2179C1700,2186 1703,2195 1704,2198" stroke="#1153ad" stroke-width="1.2" stroke-opacity=".8"/>
<path d="M1662.1,2012.1C1664,2013 1673,2015 1676,2020C1679,2025 1681,2037 1682,2040" stroke="#2080f0" stroke-width="8.0"/>
<path d="M1608.7,2080.7C1608,2086 1608,2100 1607,2110C1606,2120 1604,2130 1603,2140C1601,2150 1598,2161 1597,2171C1595,2180 1593,2195 1593,2200" stroke="#20e840" stroke-width="10.0"/>
<path d="M1611.1,2080.9C1611,2086 1610,2101 1609,2111C1608,2121 1607,2131 1606,2141C1604,2151 1602,2161 1600,2171C1598,2181 1597,2196 1596,2200" stroke="#14c631" stroke-width="2.0"/>
<path d="M1607.3,2080.6C1607,2086 1606,2100 1605,2110C1604,2120 1603,2130 1602,2140C1600,2150 1597,2160 1595,2170C1593,2180 1592,2195 1592,2200" stroke="#5cee73" stroke-width="1.3"/>
<path d="M1648.8,2120.4C1647,2123 1643,2130 1640,2137C1637,2144 1632,2153 1629,2161C1625,2168 1621,2175 1619,2181C1616,2186 1615,2191 1615,2193" stroke="#18dc28" stroke-width="22.0"/>
<path d="M1654,2123.2C1653,2126 1648,2133 1645,2139C1642,2146 1638,2156 1635,2164C1632,2171 1628,2178 1625,2183C1623,2189 1622,2193 1622,2195" stroke="#13b320" stroke-width="4.4"/>
<path d="M1644.6,2118.1C1643,2121 1640,2129 1637,2135C1634,2142 1629,2151 1625,2159C1622,2166 1618,2174 1616,2179C1613,2185 1611,2189 1610,2191" stroke="#4beb58" stroke-width="2.9"/>
<path d="M1649.1,2120.6C1648,2123 1646,2131 1643,2138C1639,2145 1633,2154 1630,2161C1626,2168 1624,2176 1621,2182C1619,2187 1616,2191 1615,2193" stroke="#0f8e1a" stroke-width="1.5" stroke-opacity=".8"/>
<path d="M1640.6,2116C1639,2119 1635,2126 1631,2133C1628,2139 1624,2149 1621,2157C1617,2164 1614,2172 1612,2177C1610,2183 1609,2188 1608,2190" stroke="#11a01d" stroke-width="1.8" stroke-opacity=".8"/>
<path d="M1658.2,2125.4C1657,2128 1653,2135 1649,2141C1646,2148 1640,2157 1637,2164C1633,2172 1630,2180 1628,2185C1626,2190 1625,2194 1625,2196" stroke="#6bef76" stroke-width="1.3" stroke-opacity=".8"/>
<path d="M1620.8,2100.4C1620,2105 1618,2120 1617,2130C1615,2140 1612,2155 1611,2161" stroke="#28e848" stroke-width="8.0"/>
<path d="M1640,2140.5C1641,2137 1645,2127 1648,2120C1651,2114 1654,2107 1658,2100C1662,2094 1665,2086 1670,2080C1675,2074 1680,2069 1686,2065C1692,2060 1699,2056 1706,2055C1714,2053 1723,2053 1730,2055C1738,2056 1745,2060 1752,2063C1759,2066 1766,2069 1772,2072C1779,2076 1786,2081 1792,2084C1798,2088 1806,2091 1808,2092" stroke="#38e810" stroke-width="24.0"/>
<path d="M1633.3,2137.8C1635,2134 1639,2125 1642,2118C1645,2111 1649,2104 1652,2097C1656,2090 1659,2082 1664,2075C1669,2069 1675,2063 1682,2058C1688,2054 1696,2049 1705,2047C1713,2046 1723,2046 1731,2047C1740,2049 1747,2054 1755,2057C1762,2061 1768,2064 1775,2067C1782,2070 1791,2074 1797,2077C1803,2080 1809,2085 1811,2086" stroke="#2ebd0d" stroke-width="4.8"/>
<path d="M1642.6,2141.5C1644,2138 1649,2129 1652,2122C1656,2116 1658,2109 1661,2102C1665,2096 1669,2089 1674,2083C1679,2078 1683,2073 1689,2069C1695,2065 1701,2061 1707,2060C1714,2058 1722,2057 1730,2057C1737,2058 1745,2062 1751,2065C1758,2068 1764,2073 1770,2076C1777,2080 1785,2084 1791,2088C1797,2091 1804,2095 1806,2096" stroke="#67f248" stroke-width="3.1"/>
<path d="M1638.7,2139.9C1640,2137 1643,2126 1647,2120C1650,2113 1654,2107 1658,2100C1662,2094 1664,2085 1669,2079C1673,2073 1679,2068 1685,2064C1692,2059 1698,2055 1706,2053C1713,2051 1722,2053 1730,2054C1738,2055 1746,2057 1753,2060C1761,2063 1766,2067 1773,2071C1780,2075 1787,2080 1793,2084C1799,2087 1806,2091 1809,2092" stroke="#24970a" stroke-width="1.7" stroke-opacity=".8"/>
<path d="M1649.5,2144.3C1651,2141 1653,2130 1656,2124C1659,2117 1664,2112 1667,2105C1671,2099 1674,2092 1678,2086C1682,2081 1686,2075 1691,2072C1696,2068 1702,2065 1708,2063C1714,2062 1722,2062 1729,2063C1736,2064 1742,2069 1749,2071C1755,2074 1762,2075 1769,2079C1775,2082 1781,2090 1787,2093C1793,2097 1802,2099 1805,2100" stroke="#29aa0c" stroke-width="1.9" stroke-opacity=".8"/>
<path d="M1629.1,2136.1C1631,2133 1634,2122 1637,2116C1641,2109 1644,2102 1648,2095C1652,2088 1656,2080 1661,2073C1667,2067 1673,2062 1680,2057C1688,2052 1695,2046 1704,2044C1712,2042 1723,2044 1732,2045C1741,2047 1749,2050 1757,2052C1764,2055 1771,2059 1778,2063C1784,2067 1791,2073 1797,2076C1803,2080 1810,2082 1813,2084" stroke="#83f569" stroke-width="1.4" stroke-opacity=".8"/>
<path d="M1664.1,2096.3C1667,2093 1673,2080 1680,2074C1687,2069 1696,2064 1704,2062C1713,2060 1726,2061 1730,2061" stroke="#20b008" stroke-width="4.0"/>
<path d="M1620.8,2190C1619,2193 1614,2202 1611,2208C1607,2214 1604,2220 1601,2226C1597,2232 1594,2239 1591,2246C1588,2253 1584,2263 1583,2266" stroke="#18d820" stroke-width="24.0"/>
<path d="M1627.4,2193.7C1626,2197 1621,2206 1618,2212C1614,2218 1611,2223 1607,2230C1604,2236 1601,2243 1598,2249C1595,2256 1591,2266 1590,2269" stroke="#13af1a" stroke-width="4.8"/>
<path d="M1617.7,2188.3C1616,2191 1612,2201 1608,2207C1605,2213 1600,2218 1597,2224C1593,2230 1590,2238 1587,2245C1584,2251 1580,2261 1578,2264" stroke="#48eb4e" stroke-width="3.1"/>
<path d="M1623.6,2191.6C1622,2194 1616,2203 1612,2209C1608,2215 1604,2220 1601,2226C1598,2233 1596,2241 1594,2247C1591,2254 1586,2264 1585,2267" stroke="#0f8a14" stroke-width="1.7" stroke-opacity=".8"/>
<path d="M1611.8,2185C1611,2188 1607,2198 1604,2204C1601,2210 1597,2216 1593,2222C1589,2228 1585,2236 1582,2242C1579,2249 1576,2259 1574,2263" stroke="#119c17" stroke-width="1.9" stroke-opacity=".8"/>
<path d="M1629,2194.6C1628,2198 1624,2208 1621,2214C1617,2220 1613,2225 1610,2231C1606,2237 1602,2243 1599,2250C1596,2257 1594,2267 1592,2270" stroke="#68ee6d" stroke-width="1.4" stroke-opacity=".8"/>
<path d="M1578.6,2262.2L1588.7,2268.2" stroke="#0a9020" stroke-width="10.0"/>
<path d="M1580.5,2259.1L1589.9,2266.1" stroke="#076516" stroke-width="2.0"/>
<path d="M1577.5,2264L1587.9,2269.4" stroke="#0ece2e" stroke-width="1.3"/>
<path d="M1816.4,2096.7C1818,2096 1824,2090 1828,2091C1832,2091 1836,2097 1841,2100C1845,2104 1849,2108 1853,2112C1856,2117 1859,2122 1861,2128C1862,2134 1863,2142 1863,2148C1862,2155 1861,2163 1859,2169C1856,2175 1853,2180 1849,2185C1844,2189 1838,2192 1832,2195C1826,2197 1816,2199 1812,2200" stroke="#20e0d0" stroke-width="30.0"/>
<path d="M1821.2,2106.2C1822,2105 1825,2099 1827,2099C1829,2099 1832,2104 1835,2107C1838,2110 1842,2114 1845,2118C1848,2122 1849,2126 1851,2131C1852,2136 1854,2142 1854,2148C1854,2154 1852,2160 1849,2165C1847,2170 1844,2173 1841,2177C1838,2181 1834,2185 1829,2187C1824,2189 1813,2189 1810,2190" stroke="#1ab8ab" stroke-width="6.0"/>
<path d="M1813.7,2091.3C1816,2090 1824,2085 1829,2086C1834,2087 1838,2094 1843,2098C1848,2102 1853,2105 1857,2109C1861,2114 1864,2120 1866,2127C1868,2133 1869,2141 1868,2149C1868,2156 1866,2164 1863,2170C1861,2177 1857,2183 1852,2188C1847,2193 1841,2196 1834,2199C1828,2202 1817,2204 1814,2206" stroke="#5ae8dc" stroke-width="3.9"/>
<path d="M1817.3,2098.5C1819,2097 1825,2090 1828,2091C1832,2091 1837,2097 1840,2101C1844,2104 1849,2108 1851,2113C1854,2118 1855,2124 1857,2129C1859,2135 1862,2142 1862,2148C1863,2155 1861,2163 1859,2169C1856,2174 1851,2178 1846,2182C1842,2186 1837,2190 1832,2193C1826,2196 1816,2199 1813,2201" stroke="#15958a" stroke-width="2.1" stroke-opacity=".8"/>
<path d="M1812.4,2088.6C1815,2087 1824,2078 1830,2079C1836,2079 1842,2088 1848,2093C1853,2097 1859,2100 1862,2105C1866,2111 1868,2119 1870,2126C1872,2133 1874,2141 1874,2149C1874,2157 1872,2165 1868,2172C1865,2179 1861,2186 1855,2192C1850,2197 1843,2201 1837,2204C1830,2207 1819,2210 1816,2211" stroke="#17a79b" stroke-width="2.4" stroke-opacity=".8"/>
<path d="M1822.1,2108C1823,2107 1825,2104 1826,2104C1828,2104 1829,2107 1832,2110C1834,2113 1838,2117 1841,2120C1844,2124 1848,2127 1849,2132C1851,2136 1851,2142 1851,2148C1850,2153 1850,2160 1848,2164C1846,2169 1842,2171 1839,2175C1835,2178 1833,2181 1828,2183C1823,2185 1812,2186 1809,2187" stroke="#7aece3" stroke-width="1.8" stroke-opacity=".8"/>
<path d="M1792.4,2116.8C1795,2119 1803,2124 1808,2128C1814,2132 1820,2136 1824,2140C1829,2144 1834,2150 1836,2152" stroke="#28e8d8" stroke-width="16.0"/>
<path d="M1789.8,2120.3C1792,2122 1800,2129 1805,2133C1810,2137 1817,2140 1822,2144C1826,2147 1831,2154 1833,2156" stroke="#16ccbd" stroke-width="3.2"/>
<path d="M1793.5,2115.3C1796,2117 1804,2123 1810,2126C1816,2130 1822,2134 1827,2138C1831,2142 1836,2148 1838,2151" stroke="#64eee3" stroke-width="2.1"/>
<path d="M1791.4,2118.2C1794,2120 1803,2125 1808,2129C1813,2133 1819,2138 1823,2142C1828,2146 1834,2151 1837,2152" stroke="#12a79b" stroke-width="1.2" stroke-opacity=".8"/>
<path d="M1796,2111.8C1799,2114 1807,2119 1812,2123C1818,2127 1824,2131 1829,2135C1834,2139 1839,2146 1841,2148" stroke="#14baac" stroke-width="1.3" stroke-opacity=".8"/>
<path d="M1752.3,2202C1756,2201 1768,2198 1776,2196C1784,2195 1791,2194 1800,2194C1809,2194 1822,2195 1830,2196C1839,2197 1849,2199 1853,2200" stroke="#20e0d0" stroke-width="12.0"/>
<path d="M1753.2,2206.1C1757,2205 1769,2201 1777,2199C1785,2198 1792,2199 1800,2199C1809,2199 1822,2198 1830,2199C1839,2200 1848,2203 1852,2204" stroke="#1ab8ab" stroke-width="2.4"/>
<path d="M1752,2200.8C1756,2200 1768,2196 1776,2195C1784,2193 1791,2193 1800,2193C1810,2193 1822,2193 1831,2194C1839,2194 1849,2198 1853,2199" stroke="#5ae8dc" stroke-width="1.6"/>
<path d="M1752.2,2201.6C1756,2201 1768,2198 1776,2197C1785,2196 1791,2196 1800,2196C1809,2196 1822,2196 1830,2197C1839,2198 1849,2200 1852,2201" stroke="#15958a" stroke-width="1.2" stroke-opacity=".8"/>
<path d="M1751.3,2197.9C1755,2197 1768,2194 1776,2193C1784,2191 1791,2190 1800,2190C1810,2189 1822,2191 1831,2192C1840,2193 1850,2196 1853,2196" stroke="#17a79b" stroke-width="1.2" stroke-opacity=".8"/>
<path d="M1740.3,2096.7C1742,2095 1747,2090 1752,2089C1758,2087 1766,2088 1772,2089C1779,2089 1786,2091 1792,2092C1798,2094 1806,2094 1808,2097C1810,2099 1808,2106 1804,2108C1800,2111 1791,2111 1784,2112C1778,2113 1771,2115 1764,2114C1758,2114 1748,2113 1744,2110C1740,2107 1741,2099 1740,2097" stroke="#80e810" stroke-width="18.0"/>
<path d="M1736.7,2091.4C1739,2090 1745,2084 1751,2083C1757,2081 1766,2083 1773,2084C1780,2084 1787,2085 1794,2087C1800,2089 1810,2090 1812,2094C1814,2099 1812,2109 1808,2113C1803,2117 1793,2118 1785,2119C1778,2120 1771,2119 1764,2119C1757,2118 1746,2118 1741,2115C1736,2112 1735,2101 1734,2098" stroke="#68bd0d" stroke-width="3.6"/>
<path d="M1742.3,2099.8C1744,2098 1748,2093 1753,2091C1758,2090 1766,2092 1772,2092C1779,2093 1786,2094 1792,2095C1798,2096 1805,2096 1807,2098C1808,2100 1806,2104 1803,2105C1799,2107 1790,2108 1784,2109C1778,2111 1771,2113 1764,2112C1758,2112 1749,2111 1746,2108C1742,2106 1744,2098 1744,2096" stroke="#a0f248" stroke-width="2.3"/>
<path d="M1739.7,2095.9C1742,2095 1747,2090 1752,2089C1758,2087 1766,2088 1772,2089C1779,2089 1786,2091 1792,2092C1798,2094 1806,2094 1808,2097C1811,2100 1810,2108 1806,2110C1802,2113 1791,2111 1784,2112C1777,2112 1771,2114 1764,2114C1758,2114 1748,2113 1744,2110C1740,2108 1740,2099 1739,2097" stroke="#53970a" stroke-width="1.3" stroke-opacity=".8"/>
<path d="M1743.8,2102.1C1745,2101 1749,2095 1754,2094C1758,2094 1765,2096 1772,2096C1778,2097 1786,2097 1791,2098C1796,2099 1802,2100 1804,2100C1805,2101 1804,2101 1800,2102C1797,2103 1789,2105 1783,2106C1778,2107 1770,2107 1765,2107C1759,2106 1752,2106 1749,2104C1746,2102 1746,2097 1746,2095" stroke="#5eaa0c" stroke-width="1.4" stroke-opacity=".8"/>
<path d="M1735.5,2089.6C1738,2088 1744,2083 1751,2082C1757,2080 1766,2081 1773,2081C1780,2082 1787,2083 1794,2085C1801,2087 1812,2087 1814,2092C1817,2097 1814,2111 1809,2116C1804,2120 1793,2119 1786,2120C1778,2121 1772,2123 1764,2122C1756,2121 1745,2120 1740,2117C1735,2113 1734,2102 1733,2099" stroke="#b2f569" stroke-width="1.2" stroke-opacity=".8"/>
<path d="M1800.4,2092.7L1810.4,2100.4" stroke="#709008" stroke-width="8.0"/>
<path d="M1752.3,2120.4C1754,2122 1760,2129 1764,2132C1769,2136 1776,2138 1780,2140C1784,2143 1787,2147 1788,2148" stroke="#78e010" stroke-width="16.0"/>
<path d="M1748.5,2124.2C1751,2126 1757,2132 1762,2136C1767,2139 1774,2141 1778,2144C1782,2147 1784,2151 1785,2152" stroke="#61b50d" stroke-width="3.2"/>
<path d="M1753.5,2119.2C1756,2121 1761,2127 1766,2131C1770,2134 1778,2135 1782,2138C1786,2141 1788,2146 1790,2147" stroke="#99f141" stroke-width="2.1"/>
<path d="M1751.8,2120.9C1754,2123 1759,2130 1764,2133C1768,2137 1776,2138 1780,2141C1784,2144 1786,2148 1787,2150" stroke="#4d8f0a" stroke-width="1.2" stroke-opacity=".8"/>
<path d="M1756.3,2116.4C1758,2118 1764,2124 1768,2127C1773,2130 1779,2133 1783,2136C1788,2139 1791,2143 1793,2144" stroke="#57a20c" stroke-width="1.3" stroke-opacity=".8"/>
<path d="M1714.2,2148.9C1717,2148 1724,2142 1730,2141C1737,2140 1745,2140 1752,2141C1760,2142 1770,2143 1776,2145C1782,2147 1788,2149 1788,2152C1789,2156 1785,2162 1780,2165C1776,2167 1768,2168 1760,2169C1753,2169 1744,2168 1736,2167C1729,2166 1720,2165 1716,2163C1713,2160 1715,2151 1714,2149" stroke="#84ec14" stroke-width="18.0"/>
<path d="M1711.7,2143.9C1715,2143 1722,2137 1729,2136C1736,2135 1745,2135 1753,2135C1761,2136 1771,2136 1778,2139C1785,2142 1793,2146 1794,2151C1794,2157 1789,2166 1783,2169C1778,2173 1768,2173 1761,2173C1753,2174 1743,2173 1736,2172C1728,2171 1718,2170 1713,2166C1709,2163 1710,2152 1709,2150" stroke="#6cc210" stroke-width="3.6"/>
<path d="M1715.6,2151.7C1718,2150 1725,2146 1731,2144C1737,2143 1745,2142 1752,2143C1760,2143 1770,2146 1775,2148C1781,2149 1784,2151 1785,2153C1785,2156 1783,2160 1779,2162C1775,2164 1767,2166 1760,2166C1753,2166 1744,2165 1737,2164C1730,2163 1721,2163 1718,2160C1715,2158 1717,2150 1717,2149" stroke="#a4f151" stroke-width="2.3"/>
<path d="M1713.8,2148.1C1716,2147 1723,2140 1730,2139C1736,2137 1745,2138 1752,2139C1760,2140 1770,2143 1776,2145C1782,2148 1789,2149 1790,2152C1791,2156 1786,2163 1781,2165C1776,2168 1768,2170 1760,2170C1753,2170 1743,2169 1736,2168C1729,2167 1720,2166 1716,2163C1712,2159 1713,2151 1712,2149" stroke="#579d0d" stroke-width="1.3" stroke-opacity=".8"/>
<path d="M1717.2,2154.8C1720,2153 1726,2148 1731,2147C1737,2145 1745,2145 1752,2146C1759,2147 1769,2150 1774,2152C1779,2153 1781,2152 1782,2154C1782,2155 1781,2158 1778,2160C1774,2161 1767,2162 1760,2162C1753,2162 1744,2161 1737,2160C1731,2159 1723,2159 1721,2157C1718,2155 1720,2149 1720,2148" stroke="#62b00e" stroke-width="1.4" stroke-opacity=".8"/>
<path d="M1711,2142.6C1714,2141 1722,2134 1729,2133C1736,2131 1745,2131 1753,2132C1761,2133 1772,2134 1779,2137C1786,2140 1795,2145 1796,2151C1797,2157 1791,2168 1785,2172C1779,2176 1769,2176 1761,2177C1752,2177 1743,2176 1735,2174C1727,2173 1716,2172 1712,2168C1707,2164 1708,2153 1707,2150" stroke="#b5f472" stroke-width="1.2" stroke-opacity=".8"/>
<path d="M1720.2,2176.5C1723,2178 1732,2181 1736,2185C1741,2188 1746,2197 1748,2200" stroke="#7ce410" stroke-width="16.0"/>
<path d="M1722.2,2172.6C1725,2174 1735,2176 1740,2180C1745,2185 1750,2194 1752,2197" stroke="#65b90d" stroke-width="3.2"/>
<path d="M1719,2178.9C1722,2180 1730,2183 1735,2186C1739,2190 1744,2199 1746,2201" stroke="#9df244" stroke-width="2.1"/>
<path d="M1720.9,2175.1C1724,2177 1733,2179 1737,2183C1742,2188 1747,2197 1748,2200" stroke="#50930a" stroke-width="1.2" stroke-opacity=".8"/>
<path d="M1717.1,2182.8C1720,2184 1728,2186 1732,2189C1737,2193 1742,2201 1744,2203" stroke="#5aa60c" stroke-width="1.3" stroke-opacity=".8"/>
<path d="M1760.3,2100.4L1780.4,2098.3" stroke="#d8f880" stroke-width="4.0"/>
<path d="M1734.2,2152.5L1752.3,2148.5" stroke="#d8f880" stroke-width="4.0"/>
<path d="M1684.1,2210.1C1687,2208 1693,2199 1700,2196C1707,2193 1717,2192 1724,2192C1732,2193 1740,2195 1744,2198C1748,2201 1750,2207 1748,2210C1747,2213 1742,2216 1736,2216C1731,2216 1722,2212 1716,2212C1710,2212 1703,2215 1700,2216" stroke="#80e810" stroke-width="16.0"/>
<path d="M1687.3,2213.8C1690,2212 1696,2204 1702,2202C1709,2199 1717,2198 1724,2198C1731,2198 1738,2200 1742,2202C1745,2203 1745,2207 1744,2208C1743,2210 1741,2211 1736,2211C1731,2212 1722,2208 1716,2208C1710,2209 1702,2212 1699,2212" stroke="#68bd0d" stroke-width="3.2"/>
<path d="M1682,2207.6C1685,2205 1692,2198 1699,2194C1706,2191 1717,2189 1724,2189C1732,2190 1741,2192 1746,2196C1750,2200 1753,2208 1751,2211C1750,2215 1742,2218 1736,2219C1731,2219 1722,2215 1716,2215C1710,2214 1703,2217 1701,2218" stroke="#a0f248" stroke-width="2.1"/>
<path d="M1684.6,2210.6C1687,2209 1694,2201 1701,2198C1708,2196 1717,2193 1724,2193C1731,2194 1740,2196 1743,2199C1747,2202 1749,2207 1748,2210C1747,2213 1742,2216 1736,2216C1731,2216 1722,2211 1716,2211C1710,2210 1702,2214 1700,2214" stroke="#53970a" stroke-width="1.2" stroke-opacity=".8"/>
<path d="M1680.9,2206.3C1684,2204 1691,2195 1698,2192C1705,2188 1716,2185 1724,2186C1733,2186 1742,2190 1747,2194C1752,2199 1756,2208 1754,2213C1752,2217 1743,2221 1737,2222C1730,2223 1722,2218 1716,2218C1710,2218 1704,2221 1701,2222" stroke="#5eaa0c" stroke-width="1.3" stroke-opacity=".8"/>
<path d="M1700.2,2216.1C1702,2219 1708,2229 1712,2234C1716,2239 1723,2244 1724,2248C1726,2252 1724,2258 1720,2260C1717,2263 1710,2265 1704,2264C1698,2264 1691,2259 1684,2256C1677,2254 1669,2248 1664,2249C1659,2249 1656,2256 1656,2260C1656,2265 1660,2271 1664,2276C1668,2281 1676,2285 1680,2290C1684,2295 1688,2302 1688,2306C1688,2311 1685,2317 1680,2318C1675,2320 1666,2316 1660,2314C1654,2312 1647,2306 1644,2307C1641,2308 1641,2318 1640,2320" stroke="#84ec14" stroke-width="20.0"/>
<path d="M1695.1,2219.4C1697,2222 1703,2233 1707,2238C1711,2243 1717,2247 1719,2250C1720,2253 1719,2254 1716,2255C1714,2257 1710,2259 1705,2258C1700,2257 1693,2254 1686,2251C1679,2248 1669,2241 1663,2243C1657,2244 1652,2254 1651,2260C1650,2266 1655,2275 1659,2280C1663,2286 1672,2289 1676,2294C1680,2298 1682,2303 1683,2306C1683,2310 1682,2313 1679,2313C1675,2314 1668,2310 1662,2308C1656,2306 1647,2299 1642,2301C1638,2303 1635,2316 1634,2319" stroke="#6cc210" stroke-width="4.0"/>
<path d="M1702.8,2214.3C1705,2217 1710,2227 1715,2232C1719,2238 1726,2242 1728,2247C1729,2252 1727,2260 1723,2263C1719,2266 1710,2267 1704,2267C1697,2266 1690,2261 1683,2259C1677,2256 1668,2252 1665,2253C1661,2253 1660,2257 1660,2260C1660,2264 1663,2269 1667,2274C1670,2279 1678,2283 1682,2289C1686,2294 1692,2301 1692,2306C1692,2312 1687,2320 1681,2322C1676,2324 1665,2320 1659,2318C1653,2315 1648,2309 1645,2310C1642,2310 1643,2319 1643,2321" stroke="#a4f151" stroke-width="2.6"/>
<path d="M1699.9,2216.3C1702,2219 1708,2229 1712,2234C1715,2240 1720,2245 1722,2249C1723,2253 1722,2256 1719,2259C1716,2261 1710,2265 1704,2264C1698,2264 1691,2258 1684,2255C1678,2253 1669,2248 1664,2249C1659,2250 1653,2256 1653,2260C1653,2265 1660,2271 1664,2276C1668,2282 1674,2287 1678,2292C1682,2297 1688,2302 1688,2306C1688,2311 1685,2317 1680,2318C1675,2320 1666,2316 1660,2314C1654,2312 1647,2305 1644,2306C1640,2307 1640,2318 1640,2320" stroke="#579d0d" stroke-width="1.4" stroke-opacity=".8"/>
<path d="M1706.6,2211.8C1709,2215 1714,2224 1718,2230C1723,2235 1731,2240 1732,2246C1733,2252 1729,2261 1725,2266C1720,2270 1711,2271 1703,2271C1696,2271 1687,2266 1681,2264C1675,2261 1668,2257 1665,2257C1663,2256 1664,2258 1665,2260C1666,2263 1667,2267 1671,2271C1674,2275 1682,2280 1686,2286C1690,2292 1696,2300 1695,2306C1694,2313 1688,2322 1682,2324C1676,2327 1664,2322 1658,2321C1652,2319 1648,2314 1646,2315C1645,2315 1648,2321 1648,2323" stroke="#62b00e" stroke-width="1.6" stroke-opacity=".8"/>
<path d="M1693.3,2220.6C1695,2224 1702,2234 1706,2239C1710,2244 1715,2248 1717,2250C1718,2253 1717,2253 1715,2253C1713,2254 1710,2256 1705,2255C1701,2254 1695,2249 1688,2247C1681,2245 1670,2239 1663,2241C1656,2243 1649,2253 1648,2260C1647,2267 1653,2276 1657,2282C1662,2288 1669,2292 1673,2296C1676,2300 1679,2304 1680,2306C1681,2309 1681,2310 1678,2310C1675,2310 1669,2307 1663,2305C1657,2303 1646,2296 1641,2298C1636,2300 1634,2315 1632,2318" stroke="#b5f472" stroke-width="1.2" stroke-opacity=".8"/>
<path d="M1648,2334.8C1650,2337 1657,2346 1660,2350C1663,2355 1663,2360 1664,2362" stroke="#70d808" stroke-width="14.0"/>
<path d="M1645.2,2336.9C1647,2340 1653,2348 1656,2353C1658,2357 1659,2362 1660,2364" stroke="#59ac06" stroke-width="2.8"/>
<path d="M1650,2333.3C1652,2336 1659,2344 1662,2349C1665,2354 1666,2359 1667,2362" stroke="#91f72b" stroke-width="1.8"/>
<path d="M1646.7,2335.8C1649,2338 1657,2346 1660,2350C1663,2355 1663,2361 1663,2363" stroke="#458405" stroke-width="1.2" stroke-opacity=".8"/>
<path d="M1651.8,2331.8C1654,2335 1662,2343 1664,2348C1667,2353 1668,2359 1668,2361" stroke="#4f9806" stroke-width="1.2" stroke-opacity=".8"/>
<path d="M1703.2,2202.4L1713.2,2197.6" stroke="#e0fa90" stroke-width="4.0"/>
<path d="M1697.1,2242.5L1707.2,2237.7" stroke="#e0fa90" stroke-width="4.0"/>
<path d="M1669.1,2286.6L1679.1,2281.8" stroke="#e0fa90" stroke-width="4.0"/>
<path d="M1647,2312.7L1657,2307.9" stroke="#e0fa90" stroke-width="4.0"/>
<path d="M1620.8,2310.7C1623,2313 1630,2321 1633,2326C1636,2332 1639,2340 1640,2342" stroke="#80e810" stroke-width="14.0"/>
<path d="M1618,2312.8C1620,2315 1627,2323 1630,2328C1633,2333 1635,2342 1635,2344" stroke="#68bd0d" stroke-width="2.8"/>
<path d="M1622.3,2309.5C1624,2312 1631,2320 1634,2326C1637,2331 1641,2339 1642,2341" stroke="#a0f248" stroke-width="1.8"/>
<path d="M1621,2310.5C1623,2313 1630,2321 1633,2326C1636,2331 1639,2340 1640,2342" stroke="#53970a" stroke-width="1.2" stroke-opacity=".8"/>
<path d="M1624.2,2308C1626,2311 1634,2318 1637,2324C1640,2329 1643,2338 1644,2341" stroke="#5eaa0c" stroke-width="1.2" stroke-opacity=".8"/>
<path d="M1624.8,2334.4C1626,2338 1630,2349 1633,2354C1635,2360 1639,2364 1640,2366" stroke="#88ec18" stroke-width="14.0"/>
<path d="M1628,2333.1C1629,2336 1634,2347 1637,2353C1639,2358 1643,2362 1644,2364" stroke="#70c610" stroke-width="2.8"/>
<path d="M1622.6,2335.2C1624,2339 1628,2350 1631,2355C1633,2361 1637,2365 1638,2367" stroke="#a8f155" stroke-width="1.8"/>
<path d="M1625.4,2334.1C1627,2338 1630,2349 1633,2355C1635,2360 1640,2364 1641,2366" stroke="#5ba00d" stroke-width="1.2" stroke-opacity=".8"/>
<path d="M1619.2,2336.6C1621,2340 1625,2351 1628,2357C1631,2362 1635,2367 1636,2369" stroke="#65b30f" stroke-width="1.2" stroke-opacity=".8"/>
<path d="M1708.2,2218.1C1712,2219 1722,2223 1730,2226C1738,2229 1748,2232 1756,2234C1765,2237 1772,2239 1780,2242C1788,2245 1798,2248 1804,2251C1811,2254 1818,2259 1820,2260" stroke="#3a10e8" stroke-width="24.0"/>
<path d="M1711.1,2210C1715,2212 1724,2218 1732,2220C1740,2223 1750,2223 1759,2226C1767,2229 1774,2233 1782,2236C1790,2239 1800,2242 1807,2245C1814,2248 1821,2253 1824,2254" stroke="#2f0dbd" stroke-width="4.8"/>
<path d="M1707,2221.3C1711,2223 1721,2226 1729,2229C1737,2232 1747,2235 1755,2238C1763,2241 1771,2244 1779,2247C1787,2249 1797,2251 1803,2254C1810,2256 1816,2262 1819,2263" stroke="#6948f2" stroke-width="3.1"/>
<path d="M1708.4,2217.4C1712,2219 1722,2224 1730,2227C1738,2230 1748,2231 1756,2234C1765,2236 1772,2240 1780,2242C1788,2245 1798,2248 1805,2251C1811,2254 1818,2258 1821,2259" stroke="#260a97" stroke-width="1.7" stroke-opacity=".8"/>
<path d="M1704.6,2227.8C1709,2229 1720,2230 1728,2233C1736,2236 1745,2241 1753,2243C1762,2246 1770,2246 1778,2249C1786,2251 1795,2255 1801,2258C1808,2261 1814,2265 1817,2267" stroke="#2a0caa" stroke-width="1.9" stroke-opacity=".8"/>
<path d="M1711.8,2208C1715,2209 1725,2214 1733,2217C1741,2220 1751,2222 1759,2225C1768,2227 1775,2229 1784,2232C1792,2235 1802,2238 1809,2241C1816,2244 1823,2249 1826,2251" stroke="#8469f5" stroke-width="1.4" stroke-opacity=".8"/>
<path d="M1820.5,2270.6C1824,2272 1834,2276 1841,2278C1847,2280 1855,2285 1861,2284C1866,2284 1871,2278 1873,2276" stroke="#3010d8" stroke-width="46.0"/>
<path d="M1816.2,2281.8C1820,2283 1829,2288 1836,2290C1844,2293 1854,2297 1861,2297C1869,2297 1877,2290 1881,2288" stroke="#270dad" stroke-width="9.2"/>
<path d="M1823.7,2262C1827,2264 1836,2270 1842,2273C1848,2275 1856,2276 1860,2275C1864,2275 1867,2271 1868,2270" stroke="#573af0" stroke-width="6.0"/>
<path d="M1820.5,2270.3C1824,2272 1832,2281 1839,2283C1846,2285 1854,2283 1860,2283C1867,2283 1874,2282 1876,2282" stroke="#1e0a87" stroke-width="3.2" stroke-opacity=".8"/>
<path d="M1827.6,2251.8C1831,2253 1842,2257 1847,2259C1852,2262 1857,2267 1859,2267C1862,2267 1862,2262 1863,2261" stroke="#220b9a" stroke-width="3.7" stroke-opacity=".8"/>
<path d="M1813.2,2289.6C1817,2291 1826,2293 1835,2296C1843,2298 1854,2305 1862,2305C1870,2304 1879,2294 1883,2292" stroke="#735bf3" stroke-width="2.8" stroke-opacity=".8"/>
<path d="M1830.5,2246.5C1833,2247 1843,2248 1849,2250C1855,2253 1864,2260 1867,2262" stroke="#3814e4" stroke-width="30.0"/>
<path d="M1832.5,2236.7C1836,2237 1846,2238 1852,2241C1859,2244 1869,2251 1872,2254" stroke="#2e10ba" stroke-width="6.0"/>
<path d="M1829.3,2252.7C1832,2253 1841,2253 1846,2255C1852,2258 1861,2265 1863,2267" stroke="#674bef" stroke-width="3.9"/>
<path d="M1830.6,2245.9C1834,2247 1842,2248 1848,2251C1854,2254 1863,2260 1867,2262" stroke="#240d94" stroke-width="2.1" stroke-opacity=".8"/>
<path d="M1828.6,2255.9C1831,2256 1839,2257 1845,2259C1850,2262 1857,2270 1860,2272" stroke="#290fa7" stroke-width="2.4" stroke-opacity=".8"/>
<path d="M1833.3,2232.5C1837,2233 1847,2234 1854,2237C1861,2240 1871,2248 1874,2250" stroke="#836cf2" stroke-width="1.8" stroke-opacity=".8"/>
<path d="M1840.5,2232.1L1846.5,2242.1" stroke="#3410e0" stroke-width="14.0"/>
<path d="M1844.2,2229.9L1850.6,2239.7" stroke="#2a0db5" stroke-width="2.8"/>
<path d="M1839,2233L1844.9,2243.1" stroke="#5f41f1" stroke-width="1.8"/>
<path d="M1840.7,2232L1847.3,2241.7" stroke="#210a8f" stroke-width="1.2" stroke-opacity=".8"/>
<path d="M1835.5,2235.1L1842.4,2244.6" stroke="#260ca2" stroke-width="1.2" stroke-opacity=".8"/>
<path d="M1820.5,2256.2C1824,2258 1834,2264 1841,2266C1847,2269 1857,2270 1861,2270" stroke="#2a0cc8" stroke-width="6.0"/>
<path d="M1530.5,2006.5C1532,2008 1536,2011 1537,2013C1537,2014 1533,2017 1533,2018" stroke="#e0a810" stroke-width="10.0"/>
<path d="M1528.2,2008.9C1529,2010 1534,2012 1534,2013C1534,2014 1531,2016 1530,2016" stroke="#b5880d" stroke-width="2.0"/>
<path d="M1531.8,2005.3C1533,2006 1538,2010 1538,2012C1539,2014 1534,2018 1533,2019" stroke="#f1c241" stroke-width="1.3"/>
<path d="M1540.6,2020.2C1540,2023 1538,2034 1539,2040C1539,2046 1541,2052 1545,2056C1548,2060 1555,2064 1561,2064C1566,2065 1572,2063 1577,2060C1581,2057 1585,2052 1589,2046C1592,2041 1596,2034 1597,2028C1597,2022 1594,2016 1591,2012C1587,2008 1582,2006 1577,2005C1572,2004 1565,2004 1561,2006C1556,2008 1551,2014 1549,2016" stroke="#e8b010" stroke-width="18.0"/>
<path d="M1535.2,2019.6C1535,2023 1531,2034 1532,2041C1533,2048 1537,2055 1541,2059C1546,2064 1554,2068 1560,2069C1566,2070 1575,2069 1580,2065C1585,2062 1589,2055 1593,2049C1597,2043 1603,2035 1603,2029C1603,2022 1598,2014 1594,2009C1590,2004 1584,2001 1578,2000C1572,1998 1564,2000 1559,2002C1553,2004 1547,2010 1545,2012" stroke="#bd8f0d" stroke-width="3.6"/>
<path d="M1542.9,2020.4C1543,2024 1541,2034 1541,2040C1542,2046 1543,2051 1546,2055C1549,2058 1556,2061 1561,2061C1566,2062 1571,2061 1575,2058C1579,2055 1584,2050 1587,2045C1590,2040 1593,2033 1593,2028C1593,2023 1591,2018 1588,2015C1585,2011 1580,2009 1576,2007C1572,2006 1566,2006 1561,2008C1557,2010 1552,2016 1550,2018" stroke="#f2c648" stroke-width="2.3"/>
<path d="M1541.1,2020.2C1540,2024 1537,2034 1537,2040C1538,2046 1541,2051 1545,2056C1549,2060 1555,2066 1560,2067C1566,2067 1572,2064 1577,2060C1582,2057 1587,2052 1590,2047C1594,2042 1598,2034 1598,2028C1598,2022 1595,2016 1591,2012C1588,2007 1582,2003 1577,2003C1572,2002 1566,2004 1561,2006C1556,2008 1550,2014 1548,2016" stroke="#97720a" stroke-width="1.3" stroke-opacity=".8"/>
<path d="M1546.5,2020.7C1546,2024 1545,2034 1545,2039C1546,2045 1547,2048 1550,2051C1553,2055 1557,2058 1561,2059C1565,2059 1569,2057 1573,2054C1577,2052 1581,2048 1584,2043C1587,2039 1591,2032 1591,2028C1591,2023 1589,2018 1587,2016C1584,2013 1579,2012 1575,2011C1571,2011 1567,2011 1563,2013C1559,2014 1554,2019 1552,2020" stroke="#aa810c" stroke-width="1.4" stroke-opacity=".8"/>
<path d="M1532.8,2019.4C1533,2023 1531,2034 1532,2041C1532,2048 1533,2057 1538,2062C1543,2067 1553,2071 1560,2071C1567,2072 1575,2070 1581,2066C1587,2063 1592,2057 1595,2050C1599,2044 1604,2036 1604,2029C1604,2021 1601,2012 1597,2007C1593,2002 1585,1998 1578,1997C1572,1995 1563,1997 1558,1999C1552,2001 1546,2008 1543,2010" stroke="#f5d169" stroke-width="1.2" stroke-opacity=".8"/>
<path d="M1546.6,2030.2L1550.6,2050.2" stroke="#b88c08" stroke-width="8.0"/>
<path d="M1564.6,2020.2C1567,2021 1574,2023 1577,2026C1579,2030 1580,2038 1581,2040" stroke="#f0c020" stroke-width="14.0"/>
<path d="M1562.4,2024.6C1564,2025 1571,2026 1573,2029C1575,2032 1576,2039 1577,2041" stroke="#d4a60e" stroke-width="2.8"/>
<path d="M1565.5,2018.4C1568,2020 1575,2021 1578,2025C1581,2028 1582,2037 1583,2039" stroke="#f4d25e" stroke-width="1.8"/>
<path d="M1564.5,2020.4C1567,2021 1574,2023 1577,2026C1579,2029 1580,2038 1580,2040" stroke="#ae880c" stroke-width="1.2" stroke-opacity=".8"/>
<path d="M1566.7,2015.9C1569,2017 1578,2019 1581,2023C1584,2027 1585,2036 1586,2039" stroke="#c1970d" stroke-width="1.2" stroke-opacity=".8"/>
<path d="M1560.6,2032.6L1566.6,2044.2" stroke="#20e060" stroke-width="6.0"/>
<path d="M1566.6,1994.5L1574.6,1998.1" stroke="#20e060" stroke-width="4.0"/>
<path d="M1560.6,2060.7C1557,2061 1547,2063 1541,2065C1534,2067 1526,2069 1521,2072C1515,2076 1509,2080 1506,2084C1503,2089 1502,2095 1502,2100C1502,2106 1504,2111 1506,2116C1509,2122 1513,2126 1516,2132C1520,2138 1525,2146 1529,2152C1533,2159 1537,2166 1541,2173C1545,2179 1551,2189 1553,2193" stroke="#e0a810" stroke-width="16.0"/>
<path d="M1561.5,2065.4C1558,2066 1548,2067 1542,2068C1535,2070 1528,2073 1523,2076C1517,2079 1512,2082 1510,2086C1507,2091 1508,2096 1508,2100C1508,2105 1508,2110 1510,2115C1512,2120 1517,2124 1520,2130C1524,2136 1529,2143 1533,2150C1537,2157 1541,2163 1545,2170C1549,2177 1554,2187 1556,2190" stroke="#b5880d" stroke-width="3.2"/>
<path d="M1560.1,2058.3C1557,2059 1547,2061 1540,2063C1533,2064 1525,2066 1519,2070C1513,2073 1507,2077 1504,2083C1501,2088 1500,2095 1500,2100C1500,2106 1502,2112 1505,2117C1507,2123 1511,2127 1515,2134C1518,2140 1523,2147 1527,2154C1531,2160 1535,2167 1539,2173C1543,2180 1548,2191 1550,2194" stroke="#f1c241" stroke-width="2.1"/>
<path d="M1560.8,2061.4C1557,2062 1548,2064 1541,2066C1534,2068 1526,2069 1521,2072C1515,2075 1510,2080 1507,2084C1504,2089 1502,2095 1502,2100C1502,2106 1505,2111 1507,2116C1510,2121 1514,2126 1518,2132C1522,2137 1526,2145 1530,2151C1534,2158 1536,2166 1540,2173C1544,2180 1551,2189 1554,2192" stroke="#8f6b0a" stroke-width="1.2" stroke-opacity=".8"/>
<path d="M1559.4,2054.7C1556,2056 1546,2058 1539,2060C1532,2062 1524,2064 1518,2068C1512,2071 1505,2076 1502,2081C1498,2087 1496,2094 1496,2100C1496,2107 1498,2113 1501,2119C1503,2125 1508,2129 1512,2135C1516,2141 1520,2149 1524,2155C1528,2162 1531,2169 1536,2176C1540,2182 1546,2192 1548,2195" stroke="#a27a0c" stroke-width="1.3" stroke-opacity=".8"/>
<path d="M1550.6,2072.7C1552,2077 1555,2088 1557,2096C1559,2104 1561,2112 1563,2120C1564,2128 1565,2136 1567,2144C1568,2152 1569,2159 1571,2169C1572,2178 1574,2194 1575,2199" stroke="#f0e010" stroke-width="14.0"/>
<path d="M1554.5,2071.7C1556,2076 1559,2087 1561,2095C1563,2103 1566,2111 1567,2119C1569,2128 1569,2136 1570,2144C1571,2152 1573,2159 1575,2168C1576,2177 1578,2193 1579,2198" stroke="#c6b80c" stroke-width="2.8"/>
<path d="M1548.9,2073.1C1550,2077 1553,2089 1555,2097C1557,2105 1559,2113 1561,2121C1562,2129 1563,2137 1565,2145C1566,2153 1566,2160 1568,2169C1569,2178 1572,2194 1572,2199" stroke="#f4e84e" stroke-width="1.8"/>
<path d="M1551.5,2072.4C1552,2076 1555,2088 1557,2096C1559,2104 1562,2112 1564,2120C1565,2128 1566,2136 1567,2144C1569,2152 1570,2159 1572,2168C1573,2177 1575,2193 1576,2198" stroke="#9f950a" stroke-width="1.2" stroke-opacity=".8"/>
<path d="M1545.8,2073.9C1547,2078 1549,2090 1551,2098C1553,2106 1557,2113 1558,2121C1560,2129 1560,2137 1561,2145C1562,2153 1563,2160 1565,2169C1566,2178 1569,2194 1569,2199" stroke="#b2a70b" stroke-width="1.2" stroke-opacity=".8"/>
<path d="M1536.5,2190C1538,2193 1541,2201 1545,2206C1548,2211 1553,2217 1557,2222C1561,2227 1565,2233 1569,2238C1572,2243 1575,2248 1577,2250" stroke="#e0a818" stroke-width="20.0"/>
<path d="M1531.6,2192.5C1533,2195 1537,2203 1540,2209C1544,2214 1549,2220 1553,2225C1557,2230 1561,2236 1564,2241C1567,2246 1570,2252 1571,2254" stroke="#b78914" stroke-width="4.0"/>
<path d="M1538.6,2189C1540,2191 1544,2199 1548,2204C1551,2209 1555,2215 1558,2221C1562,2226 1567,2232 1571,2237C1574,2241 1577,2247 1579,2249" stroke="#ecc04e" stroke-width="2.6"/>
<path d="M1534.5,2191C1536,2193 1542,2200 1545,2206C1549,2211 1552,2217 1556,2222C1560,2228 1565,2234 1568,2238C1572,2243 1575,2248 1577,2250" stroke="#926d10" stroke-width="1.4" stroke-opacity=".8"/>
<path d="M1542.2,2187.2C1544,2190 1549,2196 1552,2202C1555,2207 1558,2213 1562,2218C1565,2224 1570,2230 1574,2235C1577,2239 1581,2244 1583,2246" stroke="#a47b12" stroke-width="1.6" stroke-opacity=".8"/>
<path d="M1528.6,2194C1530,2197 1534,2205 1538,2210C1541,2216 1546,2222 1550,2227C1554,2233 1559,2238 1562,2243C1565,2248 1568,2253 1569,2255" stroke="#f0cb6e" stroke-width="1.2" stroke-opacity=".8"/>
<path d="M1572.6,2190C1573,2193 1574,2203 1575,2210C1575,2217 1575,2223 1576,2230C1576,2237 1576,2243 1577,2250C1577,2257 1577,2264 1578,2270C1578,2276 1579,2281 1581,2286C1582,2292 1585,2298 1589,2302C1592,2306 1597,2310 1601,2310C1605,2311 1609,2308 1613,2306C1617,2304 1620,2301 1625,2298C1629,2295 1637,2290 1640,2288" stroke="#f0e010" stroke-width="12.0"/>
<path d="M1569.2,2190.3C1570,2194 1571,2204 1571,2210C1572,2217 1571,2224 1571,2230C1572,2237 1573,2244 1573,2250C1574,2257 1573,2265 1573,2271C1574,2277 1575,2282 1577,2287C1580,2293 1583,2300 1586,2304C1590,2309 1596,2313 1600,2314C1605,2314 1610,2311 1614,2309C1618,2307 1622,2304 1627,2301C1631,2298 1639,2293 1642,2291" stroke="#c6b80c" stroke-width="2.4"/>
<path d="M1574.9,2189.8C1575,2193 1577,2203 1577,2210C1578,2217 1578,2223 1578,2230C1578,2237 1578,2243 1578,2250C1578,2257 1579,2264 1580,2270C1580,2276 1581,2280 1582,2286C1584,2291 1587,2298 1590,2301C1593,2305 1597,2308 1601,2308C1605,2309 1608,2307 1612,2305C1616,2303 1619,2299 1623,2296C1628,2293 1636,2288 1639,2287" stroke="#f4e84e" stroke-width="1.6"/>
<path d="M1571.3,2190.1C1572,2193 1574,2203 1574,2210C1575,2217 1576,2223 1576,2230C1576,2237 1575,2244 1575,2250C1575,2257 1576,2264 1576,2270C1577,2276 1578,2281 1580,2286C1583,2292 1585,2298 1589,2302C1592,2306 1597,2310 1601,2311C1605,2311 1609,2309 1613,2307C1617,2305 1620,2301 1625,2298C1629,2295 1638,2291 1641,2289" stroke="#9f950a" stroke-width="1.2" stroke-opacity=".8"/>
<path d="M1576.9,2189.6C1577,2193 1578,2203 1579,2210C1579,2216 1580,2223 1580,2230C1580,2237 1580,2243 1580,2250C1581,2257 1581,2264 1582,2270C1583,2276 1583,2280 1585,2285C1587,2290 1589,2296 1592,2299C1595,2303 1598,2306 1601,2307C1604,2307 1607,2304 1611,2303C1614,2301 1618,2298 1622,2295C1627,2292 1635,2286 1637,2284" stroke="#b2a70b" stroke-width="1.2" stroke-opacity=".8"/>
<path d="M1578.6,2270.2C1580,2274 1582,2284 1585,2290C1588,2296 1595,2304 1597,2306" stroke="#f0dc18" stroke-width="10.0"/>
<path d="M1575.9,2271C1577,2274 1579,2285 1582,2291C1585,2298 1593,2305 1595,2308" stroke="#cdbb0d" stroke-width="2.0"/>
<path d="M1580.4,2269.7C1581,2273 1583,2284 1586,2290C1589,2295 1596,2303 1598,2305" stroke="#f4e556" stroke-width="1.3"/>
<path d="M1640,2278.6C1645,2280 1660,2285 1670,2288C1680,2292 1690,2296 1700,2298C1710,2301 1722,2302 1730,2302C1738,2302 1745,2299 1748,2298" stroke="#f0e820" stroke-width="20.0"/>
<path d="M1642.1,2272.2C1647,2274 1662,2280 1672,2283C1682,2287 1692,2290 1702,2292C1711,2294 1723,2296 1730,2296C1738,2296 1744,2292 1747,2292" stroke="#d4cc0e" stroke-width="4.0"/>
<path d="M1638.8,2282.3C1644,2284 1659,2289 1669,2292C1679,2295 1689,2300 1699,2302C1710,2304 1722,2305 1730,2305C1739,2305 1746,2303 1749,2302" stroke="#f4ee5e" stroke-width="2.6"/>
<path d="M1640.1,2278.3C1645,2280 1661,2283 1671,2286C1681,2290 1690,2296 1700,2299C1710,2301 1722,2303 1730,2302C1738,2302 1745,2297 1748,2296" stroke="#aea70c" stroke-width="1.4" stroke-opacity=".8"/>
<path d="M1637.7,2285.8C1643,2287 1658,2291 1668,2294C1678,2297 1688,2302 1699,2304C1709,2307 1722,2308 1730,2309C1739,2309 1747,2307 1750,2306" stroke="#c1ba0d" stroke-width="1.6" stroke-opacity=".8"/>
<path d="M1642.7,2270.1C1648,2272 1663,2277 1673,2280C1683,2283 1692,2288 1702,2291C1712,2293 1723,2293 1730,2293C1738,2293 1744,2290 1746,2289" stroke="#f6f280" stroke-width="1.2" stroke-opacity=".8"/>
<path d="M1696.1,2310.7C1699,2312 1710,2318 1716,2320C1723,2323 1730,2324 1736,2326C1743,2329 1753,2333 1756,2334" stroke="#ece020" stroke-width="20.0"/>
<path d="M1694.1,2315C1697,2317 1707,2324 1714,2327C1720,2330 1727,2330 1734,2332C1741,2334 1751,2338 1754,2339" stroke="#cdc211" stroke-width="4.0"/>
<path d="M1697.5,2307.9C1701,2309 1711,2314 1718,2316C1724,2319 1730,2321 1737,2324C1744,2326 1754,2329 1758,2330" stroke="#f1e85d" stroke-width="2.6"/>
<path d="M1695.3,2312.5C1699,2314 1710,2317 1716,2320C1723,2322 1729,2326 1736,2328C1742,2330 1753,2333 1756,2334" stroke="#a79e0e" stroke-width="1.4" stroke-opacity=".8"/>
<path d="M1699.3,2304C1703,2306 1712,2311 1719,2314C1725,2316 1732,2316 1739,2319C1746,2321 1756,2325 1759,2327" stroke="#bab010" stroke-width="1.6" stroke-opacity=".8"/>
<path d="M1692.1,2319.2C1696,2321 1706,2325 1713,2328C1720,2330 1727,2333 1733,2335C1740,2337 1750,2341 1753,2342" stroke="#f4ed7e" stroke-width="1.2" stroke-opacity=".8"/>
<path d="M1750.3,2310.3C1754,2311 1765,2314 1770,2314C1776,2314 1782,2311 1784,2310" stroke="#f8f020" stroke-width="12.0"/>
<path d="M1750.9,2307.3C1754,2308 1765,2311 1770,2311C1776,2311 1781,2307 1783,2307" stroke="#e3db07" stroke-width="2.4"/>
<path d="M1749.9,2312C1753,2313 1764,2317 1770,2317C1776,2317 1782,2313 1785,2312" stroke="#faf460" stroke-width="1.6"/>
<path d="M1750.2,2310.7C1754,2311 1765,2313 1770,2313C1776,2313 1782,2311 1784,2310" stroke="#bbb506" stroke-width="1.2" stroke-opacity=".8"/>
<path d="M1749.3,2315C1753,2316 1764,2320 1770,2320C1776,2319 1783,2315 1785,2314" stroke="#cfc807" stroke-width="1.2" stroke-opacity=".8"/>
<path d="M1692.1,2290.3C1695,2291 1706,2293 1712,2294C1718,2295 1726,2296 1728,2296" stroke="#b0a010" stroke-width="3.0"/>
<path d="M1808.4,2342.4C1810,2342 1817,2340 1820,2338C1824,2336 1829,2332 1830,2330" stroke="#f0e020" stroke-width="14.0"/>
<path d="M1809.5,2345.7C1812,2345 1819,2344 1823,2342C1827,2340 1831,2335 1833,2334" stroke="#d4c50e" stroke-width="2.8"/>
<path d="M1807.7,2340.3C1810,2340 1816,2338 1819,2336C1823,2334 1827,2329 1829,2328" stroke="#f4e95e" stroke-width="1.8"/>
<path d="M1808.9,2343.7C1811,2343 1817,2342 1821,2339C1825,2337 1829,2332 1830,2330" stroke="#aea10c" stroke-width="1.2" stroke-opacity=".8"/>
<path d="M1807,2338.2C1809,2338 1815,2337 1818,2334C1822,2332 1825,2327 1827,2326" stroke="#c1b30d" stroke-width="1.2" stroke-opacity=".8"/>
<path d="M1824.5,2292.7C1822,2294 1814,2295 1808,2298C1803,2301 1797,2306 1792,2310C1788,2315 1784,2320 1780,2326C1777,2332 1775,2340 1772,2346C1770,2353 1768,2359 1764,2364C1761,2370 1758,2374 1752,2378C1747,2382 1739,2386 1732,2388C1725,2391 1718,2391 1710,2391C1703,2390 1695,2389 1688,2386C1681,2384 1674,2380 1668,2376C1662,2373 1657,2369 1652,2366C1647,2363 1642,2360 1640,2358" stroke="#c8e820" stroke-width="30.0"/>
<path d="M1822,2285.5C1819,2287 1811,2289 1805,2292C1799,2295 1791,2298 1785,2303C1779,2308 1775,2315 1771,2321C1768,2328 1765,2336 1763,2342C1760,2349 1760,2355 1757,2360C1754,2365 1752,2369 1747,2372C1743,2375 1736,2378 1730,2380C1724,2382 1717,2383 1711,2383C1704,2383 1697,2382 1691,2379C1684,2376 1679,2371 1673,2367C1668,2364 1663,2360 1658,2357C1653,2355 1647,2352 1645,2351" stroke="#a9c614" stroke-width="6.0"/>
<path d="M1826.4,2298.1C1824,2299 1816,2300 1811,2302C1805,2305 1799,2308 1795,2313C1790,2317 1787,2323 1784,2329C1781,2334 1779,2342 1777,2348C1774,2355 1772,2361 1768,2367C1764,2372 1760,2377 1755,2382C1749,2386 1741,2391 1734,2394C1726,2396 1718,2396 1710,2396C1702,2395 1694,2394 1687,2391C1679,2389 1672,2384 1666,2381C1660,2377 1655,2372 1650,2369C1646,2366 1639,2364 1637,2363" stroke="#d7ee5c" stroke-width="3.9"/>
<path d="M1824.8,2293.7C1822,2294 1813,2294 1808,2297C1802,2299 1795,2303 1790,2307C1784,2312 1780,2318 1777,2324C1774,2331 1775,2340 1773,2347C1770,2353 1765,2357 1761,2362C1757,2367 1755,2371 1750,2376C1745,2380 1739,2386 1732,2388C1726,2391 1718,2391 1710,2390C1703,2390 1695,2389 1688,2387C1681,2384 1675,2379 1669,2375C1663,2372 1658,2368 1653,2365C1648,2362 1642,2360 1640,2358" stroke="#8aa111" stroke-width="2.1" stroke-opacity=".8"/>
<path d="M1828.1,2303.1C1826,2304 1818,2305 1814,2308C1809,2311 1805,2315 1801,2319C1797,2323 1792,2326 1789,2331C1787,2337 1787,2345 1784,2351C1781,2358 1778,2364 1774,2370C1770,2377 1766,2383 1760,2388C1753,2393 1744,2398 1736,2401C1727,2403 1718,2402 1710,2401C1701,2400 1693,2398 1685,2396C1677,2393 1669,2389 1663,2386C1656,2383 1650,2380 1645,2377C1640,2374 1635,2370 1633,2369" stroke="#99b312" stroke-width="2.4" stroke-opacity=".8"/>
<path d="M1819.7,2279.2C1817,2280 1808,2283 1802,2287C1796,2290 1789,2296 1784,2301C1778,2307 1773,2313 1769,2320C1765,2327 1764,2335 1761,2342C1758,2348 1756,2353 1753,2357C1750,2362 1749,2366 1745,2369C1741,2372 1734,2373 1728,2375C1723,2377 1717,2378 1711,2378C1705,2378 1698,2377 1692,2374C1686,2372 1681,2367 1675,2364C1670,2361 1663,2359 1658,2356C1654,2354 1649,2349 1647,2348" stroke="#dff27c" stroke-width="1.8" stroke-opacity=".8"/>
<path d="M1840.5,2312.3C1838,2314 1832,2317 1828,2320C1824,2323 1821,2327 1816,2330C1812,2333 1803,2337 1800,2338" stroke="#a8b810" stroke-width="14.0"/>
<path d="M1842.5,2315.4C1841,2317 1835,2321 1831,2324C1827,2327 1823,2330 1818,2333C1814,2337 1805,2341 1802,2343" stroke="#818e0c" stroke-width="2.8"/>
<path d="M1839,2310C1837,2311 1831,2315 1827,2318C1823,2321 1820,2326 1816,2329C1811,2332 1802,2335 1799,2336" stroke="#d8ec1f" stroke-width="1.8"/>
<path d="M1841.1,2313.2C1839,2315 1833,2319 1829,2322C1826,2325 1822,2329 1817,2332C1813,2335 1804,2338 1801,2340" stroke="#5f6809" stroke-width="1.2" stroke-opacity=".8"/>
<path d="M1837.3,2307.5C1835,2309 1829,2313 1825,2316C1821,2319 1818,2323 1814,2326C1809,2329 1801,2333 1798,2334" stroke="#707b0b" stroke-width="1.2" stroke-opacity=".8"/>
<path d="M1660.1,2390.5C1663,2394 1673,2406 1680,2411C1687,2416 1697,2420 1704,2421C1712,2421 1719,2418 1724,2415C1730,2412 1734,2405 1736,2403" stroke="#d0f020" stroke-width="4.0"/>
<path d="M1690.1,2406.5C1693,2409 1703,2418 1710,2419C1717,2419 1727,2412 1730,2411" stroke="#d0f020" stroke-width="4.0"/>
<path d="M1752.3,2378.5C1754,2380 1761,2388 1764,2391C1768,2393 1771,2394 1772,2395" stroke="#c8e820" stroke-width="6.0"/>
<path d="M1780.4,2366.4L1788.4,2378.5" stroke="#c8e820" stroke-width="6.0"/>
<path d="M1456.3,2120.8C1460,2119 1469,2113 1476,2113C1484,2112 1494,2115 1500,2117C1507,2119 1513,2121 1516,2125C1520,2129 1522,2136 1521,2140C1519,2145 1513,2151 1508,2152C1503,2153 1496,2148 1490,2146C1484,2144 1478,2143 1472,2140C1467,2138 1461,2136 1458,2132C1456,2129 1457,2123 1456,2121" stroke="#f09010" stroke-width="16.0"/>
<path d="M1458.1,2125.1C1461,2124 1470,2118 1477,2117C1484,2116 1493,2119 1499,2121C1505,2123 1510,2125 1513,2128C1516,2131 1517,2136 1516,2139C1516,2142 1511,2147 1507,2147C1503,2147 1498,2143 1492,2141C1487,2139 1480,2137 1475,2135C1470,2133 1464,2132 1462,2130C1459,2127 1462,2122 1462,2120" stroke="#c6760c" stroke-width="3.2"/>
<path d="M1455.3,2118.2C1459,2117 1468,2111 1476,2110C1484,2109 1494,2112 1501,2114C1508,2117 1515,2119 1518,2123C1522,2128 1524,2136 1522,2141C1521,2146 1514,2154 1509,2155C1504,2156 1496,2151 1490,2149C1484,2146 1477,2144 1472,2142C1466,2140 1459,2138 1456,2134C1453,2131 1454,2123 1454,2121" stroke="#f4ad4e" stroke-width="2.1"/>
<path d="M1456.9,2122.2C1460,2121 1469,2113 1476,2112C1484,2112 1493,2117 1500,2119C1506,2121 1512,2123 1515,2126C1518,2130 1519,2135 1518,2140C1517,2144 1513,2151 1508,2152C1504,2153 1497,2148 1491,2145C1485,2143 1478,2141 1473,2139C1468,2137 1461,2135 1458,2132C1456,2129 1457,2123 1457,2121" stroke="#9f5f0a" stroke-width="1.2" stroke-opacity=".8"/>
<path d="M1453.7,2114.3C1457,2113 1468,2107 1476,2107C1484,2106 1495,2109 1502,2111C1510,2113 1518,2115 1522,2120C1526,2126 1528,2136 1526,2142C1524,2149 1516,2157 1510,2159C1503,2161 1495,2154 1489,2152C1482,2150 1476,2149 1470,2146C1464,2144 1456,2141 1453,2137C1450,2133 1451,2124 1450,2122" stroke="#b26b0b" stroke-width="1.3" stroke-opacity=".8"/>
<path d="M1458.3,2168.5C1461,2167 1469,2162 1476,2161C1483,2160 1493,2161 1500,2163C1508,2165 1516,2169 1521,2173C1525,2176 1526,2182 1525,2187C1523,2191 1514,2197 1512,2199" stroke="#f08010" stroke-width="16.0"/>
<path d="M1460,2172.5C1463,2171 1470,2166 1477,2165C1484,2165 1492,2166 1499,2168C1506,2170 1514,2173 1517,2176C1520,2179 1521,2182 1519,2185C1518,2188 1511,2194 1509,2195" stroke="#c6690c" stroke-width="3.2"/>
<path d="M1457.5,2166.5C1461,2165 1469,2159 1476,2158C1483,2157 1494,2158 1501,2160C1509,2162 1518,2166 1522,2171C1526,2175 1528,2182 1527,2187C1526,2192 1517,2198 1514,2201" stroke="#f4a14e" stroke-width="2.1"/>
<path d="M1458.6,2169.1C1462,2168 1469,2162 1476,2161C1483,2160 1493,2161 1500,2163C1508,2165 1516,2169 1520,2173C1524,2177 1525,2182 1524,2186C1522,2191 1514,2197 1513,2199" stroke="#9f550a" stroke-width="1.2" stroke-opacity=".8"/>
<path d="M1455.9,2162.8C1459,2162 1468,2156 1476,2155C1483,2154 1494,2155 1502,2157C1510,2159 1519,2164 1524,2169C1529,2174 1532,2183 1531,2188C1529,2194 1519,2200 1517,2203" stroke="#b25f0b" stroke-width="1.3" stroke-opacity=".8"/>
<path d="M1460.4,2180.6C1464,2183 1474,2190 1480,2193C1487,2196 1497,2198 1500,2199" stroke="#f08414" stroke-width="14.0"/>
<path d="M1458.5,2183.7C1462,2186 1472,2193 1479,2196C1486,2199 1496,2201 1499,2202" stroke="#c96d0d" stroke-width="2.8"/>
<path d="M1461.3,2178.9C1465,2181 1475,2187 1482,2190C1488,2193 1498,2196 1501,2197" stroke="#f4a552" stroke-width="1.8"/>
<path d="M1459.7,2181.6C1463,2183 1474,2190 1480,2193C1487,2196 1497,2198 1500,2199" stroke="#a3580a" stroke-width="1.2" stroke-opacity=".8"/>
<path d="M1462.5,2176.9C1466,2179 1476,2186 1482,2189C1489,2191 1499,2192 1502,2193" stroke="#b6620c" stroke-width="1.2" stroke-opacity=".8"/>
<path d="M1460.4,2190C1464,2191 1473,2195 1480,2196C1488,2197 1498,2195 1504,2194C1511,2193 1518,2191 1521,2190" stroke="#f09018" stroke-width="14.0"/>
<path d="M1459,2194.6C1462,2196 1472,2200 1480,2201C1488,2202 1498,2200 1505,2199C1512,2198 1519,2194 1521,2193" stroke="#cd780d" stroke-width="2.8"/>
<path d="M1461.2,2187.3C1464,2189 1473,2194 1481,2195C1488,2195 1498,2193 1504,2192C1511,2191 1517,2188 1520,2187" stroke="#f4ae56" stroke-width="1.8"/>
<path d="M1460,2191.2C1463,2192 1473,2196 1480,2197C1488,2198 1498,2196 1505,2195C1511,2194 1518,2192 1521,2192" stroke="#a6610b" stroke-width="1.2" stroke-opacity=".8"/>
<path d="M1462,2184.5C1465,2186 1474,2190 1481,2190C1488,2191 1497,2190 1504,2189C1510,2188 1517,2186 1519,2186" stroke="#ba6c0c" stroke-width="1.2" stroke-opacity=".8"/>
<path d="M1460.4,2210.5C1462,2210 1466,2207 1472,2206C1478,2206 1489,2207 1496,2208C1504,2210 1512,2212 1516,2216C1521,2220 1523,2226 1523,2230C1522,2234 1517,2239 1512,2240C1507,2241 1499,2240 1492,2238C1486,2236 1477,2233 1472,2230C1467,2227 1464,2223 1462,2220C1460,2217 1461,2212 1460,2210" stroke="#f08810" stroke-width="16.0"/>
<path d="M1458.8,2205.9C1461,2205 1466,2201 1472,2201C1478,2201 1489,2203 1497,2204C1505,2206 1514,2208 1520,2212C1525,2217 1529,2225 1528,2231C1527,2237 1520,2244 1514,2246C1508,2248 1499,2245 1491,2243C1484,2241 1476,2237 1470,2234C1465,2230 1461,2226 1459,2222C1456,2219 1457,2213 1456,2211" stroke="#c6700c" stroke-width="3.2"/>
<path d="M1461.4,2213.7C1463,2213 1467,2210 1473,2209C1478,2209 1489,2209 1496,2211C1503,2212 1511,2214 1515,2218C1519,2221 1520,2226 1520,2230C1519,2233 1516,2237 1512,2238C1507,2239 1499,2238 1493,2236C1487,2234 1479,2230 1474,2227C1469,2224 1466,2222 1464,2219C1462,2216 1463,2212 1462,2210" stroke="#f4a74e" stroke-width="2.1"/>
<path d="M1459.8,2208.9C1462,2208 1466,2206 1472,2206C1478,2206 1489,2207 1496,2208C1504,2210 1513,2211 1518,2215C1522,2219 1525,2226 1524,2230C1523,2235 1518,2239 1513,2240C1507,2242 1499,2239 1493,2238C1486,2236 1477,2234 1472,2231C1467,2228 1465,2223 1463,2220C1461,2217 1460,2212 1460,2211" stroke="#9f5a0a" stroke-width="1.2" stroke-opacity=".8"/>
<path d="M1462.2,2216C1464,2215 1467,2212 1473,2212C1478,2211 1489,2212 1495,2214C1502,2215 1509,2218 1513,2220C1516,2223 1516,2227 1516,2229C1515,2231 1514,2234 1511,2234C1507,2235 1500,2233 1494,2232C1488,2230 1480,2227 1476,2224C1472,2222 1470,2219 1468,2217C1466,2214 1466,2211 1466,2209" stroke="#b2650b" stroke-width="1.3" stroke-opacity=".8"/>
<path d="M1470.4,2214.1L1480.4,2220.1" stroke="#c06008" stroke-width="6.0"/>
<path d="M1466.4,2256.6C1469,2256 1475,2251 1480,2251C1486,2250 1494,2251 1500,2253C1506,2254 1513,2257 1516,2260C1519,2264 1520,2271 1518,2274C1517,2278 1512,2281 1506,2282C1501,2283 1492,2282 1486,2280C1480,2279 1474,2276 1470,2272C1467,2268 1467,2259 1466,2257" stroke="#f08010" stroke-width="16.0"/>
<path d="M1464.7,2252.6C1467,2252 1474,2247 1480,2246C1486,2245 1495,2247 1501,2249C1508,2250 1517,2252 1521,2257C1524,2261 1524,2271 1522,2276C1520,2281 1513,2285 1507,2287C1501,2288 1492,2288 1485,2286C1478,2284 1471,2279 1467,2275C1464,2270 1463,2260 1462,2258" stroke="#c6690c" stroke-width="3.2"/>
<path d="M1467.3,2258.8C1470,2258 1475,2254 1481,2254C1486,2253 1494,2253 1500,2254C1506,2256 1511,2259 1514,2262C1517,2265 1518,2270 1517,2273C1515,2276 1511,2279 1506,2280C1501,2280 1493,2278 1487,2277C1482,2275 1476,2274 1473,2270C1470,2267 1469,2258 1469,2256" stroke="#f4a14e" stroke-width="2.1"/>
<path d="M1466.4,2256.6C1469,2255 1474,2250 1480,2249C1486,2248 1495,2250 1501,2252C1507,2254 1514,2256 1517,2260C1520,2264 1520,2270 1518,2274C1517,2278 1512,2283 1507,2284C1501,2285 1492,2283 1486,2281C1480,2279 1474,2276 1470,2272C1467,2268 1465,2260 1464,2257" stroke="#9f550a" stroke-width="1.2" stroke-opacity=".8"/>
<path d="M1468.4,2261.2C1470,2261 1476,2257 1481,2257C1486,2257 1494,2258 1499,2259C1504,2260 1509,2262 1512,2264C1514,2266 1515,2270 1514,2272C1512,2274 1510,2275 1505,2276C1501,2276 1493,2276 1488,2275C1483,2274 1478,2272 1475,2268C1472,2265 1472,2257 1472,2255" stroke="#b25f0b" stroke-width="1.3" stroke-opacity=".8"/>
<path d="M1472.4,2258.2L1482.4,2264.2" stroke="#c06008" stroke-width="6.0"/>
<path d="M1462.4,2298.7C1465,2298 1471,2294 1476,2295C1481,2295 1487,2302 1492,2302C1498,2303 1504,2301 1508,2298C1513,2296 1518,2286 1521,2287C1523,2287 1523,2297 1523,2302C1522,2308 1519,2314 1516,2318C1513,2322 1510,2326 1504,2326C1499,2327 1490,2322 1484,2320C1478,2318 1472,2318 1468,2314C1465,2311 1463,2301 1462,2299" stroke="#f06810" stroke-width="16.0"/>
<path d="M1461.1,2294.3C1464,2293 1472,2289 1477,2289C1482,2289 1488,2296 1493,2297C1498,2298 1502,2297 1506,2295C1511,2292 1518,2281 1522,2282C1525,2283 1527,2296 1527,2303C1527,2309 1525,2317 1521,2322C1517,2326 1511,2332 1505,2332C1499,2332 1490,2327 1483,2324C1476,2322 1469,2322 1465,2318C1460,2314 1459,2303 1458,2300" stroke="#c6550c" stroke-width="3.2"/>
<path d="M1463.1,2301.3C1465,2301 1471,2297 1476,2297C1481,2298 1487,2304 1492,2305C1498,2305 1505,2303 1510,2301C1514,2298 1518,2289 1520,2289C1522,2289 1522,2297 1521,2302C1520,2307 1517,2313 1515,2317C1512,2321 1509,2323 1504,2323C1499,2324 1491,2319 1485,2318C1480,2316 1473,2316 1470,2313C1466,2309 1466,2300 1465,2298" stroke="#f48f4e" stroke-width="2.1"/>
<path d="M1462.1,2297.7C1465,2297 1472,2292 1477,2293C1482,2293 1487,2300 1493,2300C1498,2301 1504,2301 1508,2298C1513,2296 1518,2286 1521,2286C1523,2287 1524,2297 1524,2302C1523,2308 1521,2315 1517,2319C1514,2323 1510,2327 1505,2328C1499,2329 1490,2324 1484,2322C1478,2320 1471,2319 1467,2315C1464,2311 1462,2302 1461,2299" stroke="#9f450a" stroke-width="1.2" stroke-opacity=".8"/>
<path d="M1463.9,2304.1C1466,2303 1471,2299 1476,2300C1480,2300 1486,2308 1492,2309C1498,2309 1507,2306 1511,2303C1516,2300 1518,2292 1519,2291C1520,2291 1517,2297 1516,2301C1515,2305 1514,2312 1512,2315C1510,2318 1508,2320 1504,2320C1500,2320 1491,2316 1486,2315C1481,2313 1476,2313 1473,2310C1469,2307 1468,2299 1468,2297" stroke="#b24d0b" stroke-width="1.3" stroke-opacity=".8"/>
<path d="M1520.5,2230.1C1521,2233 1523,2243 1523,2250C1522,2257 1519,2264 1518,2270C1518,2276 1520,2284 1521,2286" stroke="#f07810" stroke-width="10.0"/>
<path d="M1516.9,2230.5C1517,2234 1520,2243 1519,2250C1519,2257 1516,2264 1516,2270C1515,2276 1517,2284 1517,2287" stroke="#c6620c" stroke-width="2.0"/>
<path d="M1522.2,2229.9C1523,2233 1524,2244 1524,2250C1524,2257 1521,2264 1520,2270C1520,2276 1522,2283 1522,2286" stroke="#f49b4e" stroke-width="1.3"/>
<path d="M1412.2,2216.5C1415,2215 1422,2211 1428,2210C1434,2210 1443,2210 1448,2212C1454,2215 1459,2219 1460,2224C1462,2229 1460,2236 1456,2240C1453,2244 1446,2249 1440,2250C1435,2251 1428,2249 1424,2246C1421,2243 1422,2235 1420,2230C1418,2225 1414,2219 1412,2216" stroke="#f06820" stroke-width="18.0"/>
<path d="M1414.2,2221.8C1417,2221 1423,2216 1429,2216C1434,2215 1442,2215 1446,2217C1451,2219 1453,2222 1454,2226C1455,2229 1455,2234 1452,2237C1450,2240 1443,2243 1439,2244C1435,2245 1430,2245 1428,2243C1425,2240 1427,2233 1425,2228C1424,2223 1419,2216 1417,2214" stroke="#d4530e" stroke-width="3.6"/>
<path d="M1411.4,2214.3C1414,2213 1422,2208 1428,2208C1434,2207 1443,2208 1449,2210C1455,2213 1462,2218 1463,2223C1465,2228 1462,2236 1458,2241C1454,2246 1447,2252 1441,2253C1435,2254 1427,2251 1423,2248C1419,2244 1420,2236 1418,2231C1416,2226 1412,2220 1411,2217" stroke="#f4925e" stroke-width="2.3"/>
<path d="M1412.1,2216C1415,2215 1422,2213 1429,2213C1435,2212 1443,2210 1448,2212C1454,2214 1458,2220 1459,2224C1461,2229 1459,2236 1456,2240C1453,2244 1446,2249 1440,2251C1435,2252 1427,2250 1424,2247C1421,2243 1423,2235 1421,2230C1419,2225 1415,2218 1414,2215" stroke="#ae440c" stroke-width="1.3" stroke-opacity=".8"/>
<path d="M1409.8,2209.9C1413,2209 1421,2204 1428,2204C1434,2203 1445,2203 1451,2206C1457,2209 1464,2216 1466,2222C1467,2229 1465,2238 1461,2244C1457,2249 1449,2257 1442,2258C1435,2259 1423,2256 1419,2252C1414,2247 1416,2238 1414,2233C1412,2227 1409,2221 1408,2219" stroke="#c14b0d" stroke-width="1.4" stroke-opacity=".8"/>
<path d="M1414.8,2223.4C1417,2223 1424,2220 1429,2219C1434,2218 1441,2219 1445,2220C1449,2221 1452,2224 1453,2226C1454,2229 1452,2232 1449,2235C1447,2238 1442,2242 1439,2243C1436,2244 1432,2243 1430,2241C1428,2238 1429,2232 1427,2227C1425,2223 1420,2215 1419,2212" stroke="#f6a980" stroke-width="1.2" stroke-opacity=".8"/>
<path d="M1420.3,2256.6C1422,2259 1428,2267 1432,2270C1437,2274 1443,2276 1448,2278C1454,2280 1462,2282 1464,2282" stroke="#f07020" stroke-width="20.0"/>
<path d="M1415.1,2261.1C1417,2263 1423,2272 1428,2275C1433,2279 1441,2281 1446,2284C1452,2286 1460,2287 1463,2288" stroke="#d45a0e" stroke-width="4.0"/>
<path d="M1422.8,2254.3C1425,2257 1429,2265 1434,2268C1438,2272 1444,2273 1450,2275C1455,2277 1463,2278 1465,2279" stroke="#f4985e" stroke-width="2.6"/>
<path d="M1418.7,2257.9C1421,2260 1428,2266 1433,2270C1437,2273 1442,2278 1448,2280C1453,2282 1462,2281 1465,2282" stroke="#ae4a0c" stroke-width="1.4" stroke-opacity=".8"/>
<path d="M1426.3,2251.2C1428,2253 1432,2261 1437,2265C1441,2268 1446,2270 1451,2272C1456,2274 1463,2276 1466,2276" stroke="#c1520d" stroke-width="1.6" stroke-opacity=".8"/>
<path d="M1413.4,2262.6C1416,2265 1421,2274 1426,2278C1432,2282 1439,2285 1445,2287C1451,2289 1459,2290 1462,2290" stroke="#f6ad80" stroke-width="1.2" stroke-opacity=".8"/>
<path d="M1432.3,2226.1L1444.3,2234.1" stroke="#f87838" stroke-width="10.0"/>
<path d="M1433.8,2223.7L1446.2,2231.3" stroke="#f65a0c" stroke-width="2.0"/>
<path d="M1431.7,2227L1443.1,2235.9" stroke="#faa378" stroke-width="1.3"/>
<path d="M1344.1,2150.9C1347,2149 1353,2141 1360,2139C1367,2137 1377,2136 1384,2137C1392,2138 1399,2142 1404,2146C1409,2151 1411,2157 1414,2163C1418,2168 1421,2176 1424,2181C1427,2186 1431,2191 1432,2193" stroke="#f04a14" stroke-width="18.0"/>
<path d="M1347.6,2155.6C1350,2154 1356,2147 1362,2145C1368,2143 1377,2141 1383,2142C1390,2143 1396,2147 1400,2151C1405,2155 1407,2160 1410,2165C1413,2170 1416,2179 1419,2184C1422,2189 1426,2194 1427,2196" stroke="#c93b0d" stroke-width="3.6"/>
<path d="M1342.6,2148.9C1345,2147 1352,2138 1359,2136C1366,2133 1377,2132 1385,2134C1393,2135 1401,2139 1407,2144C1412,2148 1413,2155 1416,2161C1419,2167 1423,2175 1426,2179C1429,2184 1434,2189 1435,2191" stroke="#f47a52" stroke-width="2.3"/>
<path d="M1343.9,2150.7C1347,2149 1354,2143 1361,2141C1367,2139 1377,2138 1384,2139C1391,2140 1398,2143 1404,2147C1409,2151 1412,2156 1415,2162C1418,2168 1420,2176 1423,2182C1426,2187 1431,2191 1432,2193" stroke="#a3300a" stroke-width="1.3" stroke-opacity=".8"/>
<path d="M1340.1,2145.6C1343,2143 1350,2134 1358,2132C1365,2129 1377,2130 1385,2131C1394,2133 1402,2137 1408,2142C1414,2146 1417,2153 1421,2159C1425,2164 1427,2172 1430,2177C1432,2182 1437,2187 1438,2189" stroke="#b6350c" stroke-width="1.4" stroke-opacity=".8"/>
<path d="M1349.1,2157.6C1351,2156 1357,2148 1363,2146C1368,2144 1377,2144 1383,2145C1389,2146 1395,2149 1399,2153C1403,2156 1404,2161 1408,2166C1411,2172 1415,2179 1418,2184C1421,2189 1425,2195 1426,2197" stroke="#f69474" stroke-width="1.2" stroke-opacity=".8"/>
<path d="M1346.1,2160.5C1347,2164 1350,2174 1352,2181C1354,2187 1359,2196 1360,2199" stroke="#e84010" stroke-width="16.0"/>
<path d="M1351.2,2159C1352,2162 1354,2173 1357,2179C1359,2185 1363,2194 1364,2197" stroke="#bd340d" stroke-width="3.2"/>
<path d="M1344.3,2161C1345,2164 1347,2175 1350,2181C1352,2188 1356,2197 1357,2200" stroke="#f26e48" stroke-width="2.1"/>
<path d="M1346.2,2160.5C1347,2164 1350,2174 1352,2181C1354,2187 1359,2196 1360,2199" stroke="#972a0a" stroke-width="1.2" stroke-opacity=".8"/>
<path d="M1340,2162.3C1341,2166 1344,2176 1346,2183C1349,2189 1353,2198 1355,2201" stroke="#aa2f0c" stroke-width="1.3" stroke-opacity=".8"/>
<path d="M1370.1,2180.6C1373,2180 1384,2178 1390,2179C1396,2180 1402,2184 1404,2185" stroke="#f04810" stroke-width="16.0"/>
<path d="M1370.5,2184.8C1374,2185 1384,2183 1390,2184C1395,2185 1400,2189 1402,2190" stroke="#c63b0c" stroke-width="3.2"/>
<path d="M1369.9,2178.2C1373,2178 1385,2175 1391,2176C1396,2176 1403,2181 1405,2182" stroke="#f4784e" stroke-width="2.1"/>
<path d="M1370.3,2182.4C1374,2182 1385,2179 1390,2179C1396,2180 1401,2185 1404,2186" stroke="#9f2f0a" stroke-width="1.2" stroke-opacity=".8"/>
<path d="M1369.6,2173.6C1373,2174 1385,2172 1391,2173C1397,2174 1404,2179 1406,2180" stroke="#b2350b" stroke-width="1.3" stroke-opacity=".8"/>
<path d="M1360.1,2152.5C1363,2152 1374,2148 1380,2148C1386,2149 1394,2155 1396,2156" stroke="#d83808" stroke-width="8.0"/>
<path d="M1344.1,2194.4C1347,2196 1354,2201 1360,2202C1366,2203 1373,2202 1380,2200C1387,2199 1397,2193 1400,2192" stroke="#f03810" stroke-width="20.0"/>
<path d="M1346.4,2189.8C1349,2191 1356,2195 1361,2196C1366,2197 1372,2196 1379,2194C1385,2193 1395,2188 1398,2186" stroke="#c62d0c" stroke-width="4.0"/>
<path d="M1342.7,2197.1C1346,2199 1353,2205 1360,2206C1366,2207 1374,2205 1381,2203C1388,2202 1398,2197 1402,2196" stroke="#f46c4e" stroke-width="2.6"/>
<path d="M1343.7,2195C1347,2196 1354,2200 1360,2201C1366,2202 1373,2202 1380,2200C1387,2199 1397,2194 1400,2192" stroke="#9f250a" stroke-width="1.4" stroke-opacity=".8"/>
<path d="M1340.2,2202.2C1343,2203 1352,2209 1359,2210C1366,2210 1375,2209 1382,2207C1389,2205 1399,2199 1403,2198" stroke="#b2290b" stroke-width="1.6" stroke-opacity=".8"/>
<path d="M1348.4,2185.7C1351,2187 1357,2193 1362,2194C1366,2195 1372,2193 1378,2191C1384,2190 1394,2185 1397,2184" stroke="#f68870" stroke-width="1.2" stroke-opacity=".8"/>
<path d="M1406.2,2196C1409,2197 1420,2202 1424,2202C1429,2202 1433,2197 1434,2196" stroke="#f03010" stroke-width="14.0"/>
<path d="M1405,2199.7C1408,2201 1419,2206 1424,2206C1430,2206 1435,2201 1437,2200" stroke="#c6270c" stroke-width="2.8"/>
<path d="M1406.9,2193.8C1410,2195 1420,2200 1424,2200C1429,2200 1432,2196 1434,2195" stroke="#f4664e" stroke-width="1.8"/>
<path d="M1406.2,2196.2C1409,2197 1419,2202 1424,2202C1429,2202 1433,2198 1435,2197" stroke="#9f1f0a" stroke-width="1.2" stroke-opacity=".8"/>
<path d="M1407.9,2191.1C1411,2192 1420,2196 1424,2196C1428,2196 1430,2192 1431,2191" stroke="#b2230b" stroke-width="1.2" stroke-opacity=".8"/>
<path d="M1404.2,2210.5C1404,2214 1403,2224 1400,2230C1397,2236 1392,2242 1386,2246C1380,2250 1370,2250 1364,2253C1358,2255 1353,2257 1352,2260C1351,2263 1352,2269 1356,2272C1360,2276 1369,2278 1376,2280C1383,2283 1391,2283 1396,2286C1401,2289 1406,2294 1406,2298C1406,2302 1402,2308 1396,2310C1391,2313 1380,2312 1372,2312C1364,2313 1355,2313 1350,2314C1345,2315 1345,2318 1344,2318" stroke="#f02808" stroke-width="24.0"/>
<path d="M1396.2,2208.8C1396,2212 1396,2221 1394,2227C1391,2232 1388,2237 1383,2240C1377,2244 1368,2244 1362,2247C1356,2249 1347,2253 1346,2258C1344,2263 1348,2272 1352,2277C1357,2282 1368,2283 1374,2286C1381,2289 1387,2292 1392,2294C1396,2296 1399,2297 1400,2298C1400,2300 1398,2302 1393,2303C1388,2304 1379,2304 1371,2305C1364,2305 1353,2305 1348,2306C1343,2308 1342,2312 1341,2313" stroke="#c42107" stroke-width="4.8"/>
<path d="M1406.9,2211C1406,2215 1408,2226 1405,2232C1402,2239 1395,2246 1388,2250C1382,2254 1371,2253 1365,2255C1360,2257 1356,2259 1355,2261C1354,2263 1355,2266 1359,2268C1363,2271 1371,2273 1378,2276C1384,2278 1393,2279 1398,2283C1404,2286 1409,2293 1409,2298C1409,2303 1404,2311 1398,2314C1391,2316 1380,2314 1372,2315C1365,2316 1355,2317 1351,2318C1347,2319 1347,2321 1346,2321" stroke="#f95b42" stroke-width="3.1"/>
<path d="M1405,2210.6C1404,2214 1400,2223 1397,2229C1394,2234 1391,2242 1386,2245C1380,2249 1370,2249 1364,2251C1358,2254 1351,2255 1349,2259C1348,2263 1351,2270 1355,2273C1360,2277 1370,2277 1376,2280C1383,2282 1390,2286 1395,2289C1400,2292 1407,2295 1407,2298C1407,2302 1402,2308 1396,2310C1390,2312 1380,2310 1372,2311C1364,2311 1354,2312 1350,2313C1345,2315 1345,2318 1344,2319" stroke="#9c1a05" stroke-width="1.7" stroke-opacity=".8"/>
<path d="M1413.3,2212.3C1412,2216 1412,2227 1408,2234C1404,2241 1397,2248 1390,2253C1384,2257 1372,2258 1367,2260C1362,2262 1361,2263 1360,2264C1360,2264 1359,2264 1362,2265C1365,2266 1373,2268 1379,2271C1386,2273 1395,2274 1401,2279C1407,2283 1415,2292 1415,2298C1415,2305 1406,2313 1399,2317C1392,2321 1381,2320 1373,2321C1365,2322 1356,2323 1352,2323C1348,2324 1349,2325 1348,2325" stroke="#b01d06" stroke-width="1.9" stroke-opacity=".8"/>
<path d="M1393.4,2208.3C1393,2211 1393,2220 1391,2225C1388,2230 1385,2234 1380,2237C1375,2239 1366,2238 1360,2242C1353,2245 1345,2250 1343,2256C1341,2263 1344,2275 1349,2281C1354,2286 1366,2287 1373,2290C1380,2292 1387,2294 1391,2295C1395,2297 1395,2297 1396,2298C1396,2299 1396,2301 1392,2301C1388,2302 1379,2300 1371,2301C1364,2302 1353,2303 1348,2304C1342,2305 1339,2308 1338,2309" stroke="#fa7964" stroke-width="1.4" stroke-opacity=".8"/>
<path d="M1352.1,2318.7C1355,2321 1363,2327 1368,2330C1373,2334 1380,2335 1384,2338C1388,2342 1389,2348 1390,2350" stroke="#f02808" stroke-width="20.0"/>
<path d="M1348.3,2324C1351,2326 1359,2333 1365,2336C1370,2339 1377,2340 1380,2343C1384,2345 1384,2351 1385,2353" stroke="#c42107" stroke-width="4.0"/>
<path d="M1353.5,2316.7C1356,2319 1364,2325 1369,2328C1375,2332 1382,2333 1386,2337C1389,2340 1392,2347 1393,2349" stroke="#f95b42" stroke-width="2.6"/>
<path d="M1350.7,2320.6C1354,2322 1363,2327 1368,2330C1373,2334 1380,2336 1383,2340C1386,2343 1387,2350 1388,2352" stroke="#9c1a05" stroke-width="1.4" stroke-opacity=".8"/>
<path d="M1355.8,2313.5C1359,2315 1367,2320 1372,2323C1378,2326 1386,2328 1390,2332C1394,2336 1396,2344 1397,2347" stroke="#b01d06" stroke-width="1.6" stroke-opacity=".8"/>
<path d="M1346.9,2325.9C1350,2328 1359,2334 1364,2337C1369,2340 1375,2342 1379,2345C1382,2347 1382,2352 1383,2354" stroke="#fa7964" stroke-width="1.2" stroke-opacity=".8"/>
<path d="M1382.2,2336.4L1370.1,2358.4" stroke="#f02808" stroke-width="8.0"/>
<path d="M1388.2,2338.8L1396.2,2362.4" stroke="#f02808" stroke-width="8.0"/>
</g>
<g stroke="#000" stroke-width="5.4" fill="none" stroke-linecap="butt">
<line x1="241.3" y1="51.5" x2="1978.1" y2="51.5" stroke-width="5.4"/>
<line x1="241.3" y1="934.6" x2="1978.1" y2="934.6" stroke-width="6.8"/>
<line x1="241.3" y1="1818.4" x2="1978.1" y2="1818.4" stroke-width="6.8"/>
<line x1="241.3" y1="2702.9" x2="1978.1" y2="2702.9" stroke-width="5.6"/>
<line x1="244.3" y1="51.5" x2="244.3" y2="2702.9" stroke-width="6.4"/>
<line x1="1975.5" y1="51.5" x2="1975.5" y2="2702.9" stroke-width="5.2"/>
</g>
<g stroke="#000" stroke-width="5.0" fill="none" stroke-linecap="butt">
<line x1="244.3" y1="934.6" x2="276.3" y2="934.6"/>
<line x1="244.3" y1="824.2" x2="260.3" y2="824.2"/>
<line x1="244.3" y1="713.8" x2="276.3" y2="713.8"/>
<line x1="244.3" y1="603.4" x2="260.3" y2="603.4"/>
<line x1="244.3" y1="493.1" x2="276.3" y2="493.1"/>
<line x1="244.3" y1="382.7" x2="260.3" y2="382.7"/>
<line x1="244.3" y1="272.3" x2="276.3" y2="272.3"/>
<line x1="244.3" y1="161.9" x2="260.3" y2="161.9"/>
<line x1="244.3" y1="51.5" x2="276.3" y2="51.5"/>
<line x1="244.3" y1="1818.4" x2="276.3" y2="1818.4"/>
<line x1="244.3" y1="1707.9" x2="260.3" y2="1707.9"/>
<line x1="244.3" y1="1597.5" x2="276.3" y2="1597.5"/>
<line x1="244.3" y1="1487.0" x2="260.3" y2="1487.0"/>
<line x1="244.3" y1="1376.5" x2="276.3" y2="1376.5"/>
<line x1="244.3" y1="1266.0" x2="260.3" y2="1266.0"/>
<line x1="244.3" y1="1155.6" x2="276.3" y2="1155.6"/>
<line x1="244.3" y1="1045.1" x2="260.3" y2="1045.1"/>
<line x1="244.3" y1="2702.9" x2="276.3" y2="2702.9"/>
<line x1="244.3" y1="2592.3" x2="260.3" y2="2592.3"/>
<line x1="244.3" y1="2481.8" x2="276.3" y2="2481.8"/>
<line x1="244.3" y1="2371.2" x2="260.3" y2="2371.2"/>
<line x1="244.3" y1="2260.7" x2="276.3" y2="2260.7"/>
<line x1="244.3" y1="2150.1" x2="260.3" y2="2150.1"/>
<line x1="244.3" y1="2039.5" x2="276.3" y2="2039.5"/>
<line x1="244.3" y1="1929.0" x2="260.3" y2="1929.0"/>
<line x1="497.0" y1="934.6" x2="497.0" y2="902.6"/>
<line x1="761.2" y1="934.6" x2="761.2" y2="902.6"/>
<line x1="1025.4" y1="934.6" x2="1025.4" y2="902.6"/>
<line x1="1289.6" y1="934.6" x2="1289.6" y2="902.6"/>
<line x1="1553.8" y1="934.6" x2="1553.8" y2="902.6"/>
<line x1="1818.0" y1="934.6" x2="1818.0" y2="902.6"/>
<line x1="364.9" y1="934.6" x2="364.9" y2="918.6"/>
<line x1="629.1" y1="934.6" x2="629.1" y2="918.6"/>
<line x1="893.3" y1="934.6" x2="893.3" y2="918.6"/>
<line x1="1157.5" y1="934.6" x2="1157.5" y2="918.6"/>
<line x1="1421.7" y1="934.6" x2="1421.7" y2="918.6"/>
<line x1="1685.9" y1="934.6" x2="1685.9" y2="918.6"/>
<line x1="1950.1" y1="934.6" x2="1950.1" y2="918.6"/>
<line x1="350.3" y1="1818.4" x2="350.3" y2="1786.4"/>
<line x1="663.8" y1="1818.4" x2="663.8" y2="1786.4"/>
<line x1="977.3" y1="1818.4" x2="977.3" y2="1786.4"/>
<line x1="1290.8" y1="1818.4" x2="1290.8" y2="1786.4"/>
<line x1="1604.3" y1="1818.4" x2="1604.3" y2="1786.4"/>
<line x1="1917.8" y1="1818.4" x2="1917.8" y2="1786.4"/>
<line x1="507.1" y1="1818.4" x2="507.1" y2="1802.4"/>
<line x1="820.5" y1="1818.4" x2="820.5" y2="1802.4"/>
<line x1="1134.0" y1="1818.4" x2="1134.0" y2="1802.4"/>
<line x1="1447.5" y1="1818.4" x2="1447.5" y2="1802.4"/>
<line x1="1761.0" y1="1818.4" x2="1761.0" y2="1802.4"/>
<line x1="568.8" y1="2702.9" x2="568.8" y2="2670.9"/>
<line x1="913.3" y1="2702.9" x2="913.3" y2="2670.9"/>
<line x1="1257.8" y1="2702.9" x2="1257.8" y2="2670.9"/>
<line x1="1602.3" y1="2702.9" x2="1602.3" y2="2670.9"/>
<line x1="1946.8" y1="2702.9" x2="1946.8" y2="2670.9"/>
<line x1="396.5" y1="2702.9" x2="396.5" y2="2686.9"/>
<line x1="741.0" y1="2702.9" x2="741.0" y2="2686.9"/>
<line x1="1085.5" y1="2702.9" x2="1085.5" y2="2686.9"/>
<line x1="1430.0" y1="2702.9" x2="1430.0" y2="2686.9"/>
<line x1="1774.5" y1="2702.9" x2="1774.5" y2="2686.9"/>
</g>
<g font-family='"Liberation Sans", Arial, Helvetica, sans-serif' fill="#000">
<text transform="translate(208,957.4) scale(0.97,1)" font-size="76" text-anchor="end">0</text>
<text transform="translate(208,736.6) scale(0.97,1)" font-size="76" text-anchor="end">2</text>
<text transform="translate(208,515.9) scale(0.97,1)" font-size="76" text-anchor="end">4</text>
<text transform="translate(208,295.1) scale(0.97,1)" font-size="76" text-anchor="end">6</text>
<text transform="translate(208,74.3) scale(0.97,1)" font-size="76" text-anchor="end">8</text>
<text transform="translate(208,1841.2) scale(0.97,1)" font-size="76" text-anchor="end">0</text>
<text transform="translate(208,1620.2) scale(0.97,1)" font-size="76" text-anchor="end">2</text>
<text transform="translate(208,1399.3) scale(0.97,1)" font-size="76" text-anchor="end">4</text>
<text transform="translate(208,1178.4) scale(0.97,1)" font-size="76" text-anchor="end">6</text>
<text transform="translate(208,2725.7) scale(0.97,1)" font-size="76" text-anchor="end">0</text>
<text transform="translate(208,2504.6) scale(0.97,1)" font-size="76" text-anchor="end">2</text>
<text transform="translate(208,2283.5) scale(0.97,1)" font-size="76" text-anchor="end">4</text>
<text transform="translate(208,2062.3) scale(0.97,1)" font-size="76" text-anchor="end">6</text>
<text x="497.0" y="1019.6" font-size="65" text-anchor="middle">50</text>
<text x="761.2" y="1019.6" font-size="65" text-anchor="middle">100</text>
<text x="1025.4" y="1019.6" font-size="65" text-anchor="middle">150</text>
<text x="1289.6" y="1019.6" font-size="65" text-anchor="middle">200</text>
<text x="1553.8" y="1019.6" font-size="65" text-anchor="middle">250</text>
<text x="1818.0" y="1019.6" font-size="65" text-anchor="middle">300</text>
<text x="350.3" y="1904.6" font-size="65" text-anchor="middle">50</text>
<text x="663.8" y="1904.6" font-size="65" text-anchor="middle">100</text>
<text x="977.3" y="1904.6" font-size="65" text-anchor="middle">150</text>
<text x="1290.8" y="1904.6" font-size="65" text-anchor="middle">200</text>
<text x="1604.3" y="1904.6" font-size="65" text-anchor="middle">250</text>
<text x="1917.8" y="1904.6" font-size="65" text-anchor="middle">300</text>
<text x="568.8" y="2788.6" font-size="65" text-anchor="middle">50</text>
<text x="913.3" y="2788.6" font-size="65" text-anchor="middle">100</text>
<text x="1257.8" y="2788.6" font-size="65" text-anchor="middle">150</text>
<text x="1602.3" y="2788.6" font-size="65" text-anchor="middle">200</text>
<text x="1946.8" y="2788.6" font-size="65" text-anchor="middle">250</text>
<text transform="translate(93.5,494.1) rotate(-90)" font-size="90" text-anchor="middle">RMSF</text>
<text transform="translate(93.5,1380.0) rotate(-90)" font-size="90" text-anchor="middle">RMSF</text>
<text transform="translate(93.5,2226.2) rotate(-90)" font-size="90" text-anchor="middle">RMSF</text>
<text transform="translate(1059.5,2916) scale(1.035,1)" font-size="86" text-anchor="middle">residuum no.</text>
<rect x="285.3" y="109.3" width="435.7" height="100.3" fill="#fff" stroke="#484848" stroke-width="2.8"/>
<text x="298.5" y="183.4" font-size="72.6">4KWP (CK2)</text>
<rect x="285.3" y="1079.6" width="479.90000000000003" height="101.0" fill="#fff" stroke="#484848" stroke-width="2.8"/>
<text x="298.5" y="1154.4" font-size="72.6">5KGD (PIM-1)</text>
<rect x="285.3" y="1941.2" width="440.90000000000003" height="101.39999999999986" fill="#fff" stroke="#484848" stroke-width="2.8"/>
<text x="298.5" y="2016.4" font-size="72.6">3RE4 (RIO1)</text>
</g>
</g>
</svg>
</body>
</html>
